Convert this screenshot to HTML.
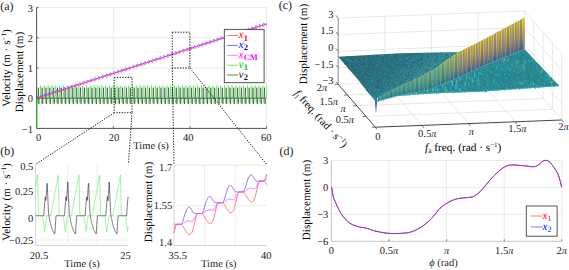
<!DOCTYPE html>
<html><head><meta charset="utf-8"><style>
html,body{margin:0;padding:0;background:#fff;width:569px;height:270px;overflow:hidden}
svg{display:block}
text{font-family:"Liberation Serif",serif;text-rendering:geometricPrecision}
</style></head><body>
<svg width="569" height="270" viewBox="0 0 569 270">
<rect width="569" height="270" fill="#fff"/>
<line x1="36.60" y1="7.60" x2="266.60" y2="7.60" stroke="#e3e3e3" stroke-width="0.8" />
<line x1="36.60" y1="37.80" x2="266.60" y2="37.80" stroke="#e3e3e3" stroke-width="0.8" />
<line x1="36.60" y1="68.00" x2="266.60" y2="68.00" stroke="#e3e3e3" stroke-width="0.8" />
<line x1="36.60" y1="98.20" x2="266.60" y2="98.20" stroke="#e3e3e3" stroke-width="0.8" />
<line x1="113.27" y1="7.60" x2="113.27" y2="128.40" stroke="#e3e3e3" stroke-width="0.8" />
<line x1="189.93" y1="7.60" x2="189.93" y2="128.40" stroke="#e3e3e3" stroke-width="0.8" />
<line x1="266.60" y1="7.60" x2="266.60" y2="128.40" stroke="#e3e3e3" stroke-width="0.8" />
<polyline points="36.60,128.40 36.83,98.20 37.37,98.20 37.67,103.33 37.98,98.20 40.05,98.20 40.43,85.52 40.66,98.20 41.20,98.20 41.51,103.33 41.81,98.20 43.88,98.20 44.27,85.52 44.50,98.20 45.03,98.20 45.34,103.33 45.65,98.20 47.72,98.20 48.10,85.52 48.33,98.20 48.87,98.20 49.17,103.33 49.48,98.20 51.55,98.20 51.93,85.52 52.16,98.20 52.70,98.20 53.01,103.33 53.31,98.20 55.38,98.20 55.77,85.52 56.00,98.20 56.53,98.20 56.84,103.33 57.15,98.20 59.22,98.20 59.60,85.52 59.83,98.20 60.37,98.20 60.67,103.33 60.98,98.20 63.05,98.20 63.43,85.52 63.66,98.20 64.20,98.20 64.51,103.33 64.81,98.20 66.88,98.20 67.27,85.52 67.50,98.20 68.03,98.20 68.34,103.33 68.65,98.20 70.72,98.20 71.10,85.52 71.33,98.20 71.87,98.20 72.17,103.33 72.48,98.20 74.55,98.20 74.93,85.52 75.16,98.20 75.70,98.20 76.01,103.33 76.31,98.20 78.38,98.20 78.77,85.52 79.00,98.20 79.53,98.20 79.84,103.33 80.15,98.20 82.22,98.20 82.60,85.52 82.83,98.20 83.37,98.20 83.67,103.33 83.98,98.20 86.05,98.20 86.43,85.52 86.66,98.20 87.20,98.20 87.51,103.33 87.81,98.20 89.88,98.20 90.27,85.52 90.50,98.20 91.03,98.20 91.34,103.33 91.65,98.20 93.72,98.20 94.10,85.52 94.33,98.20 94.87,98.20 95.17,103.33 95.48,98.20 97.55,98.20 97.93,85.52 98.16,98.20 98.70,98.20 99.01,103.33 99.31,98.20 101.38,98.20 101.77,85.52 102.00,98.20 102.53,98.20 102.84,103.33 103.15,98.20 105.22,98.20 105.60,85.52 105.83,98.20 106.37,98.20 106.67,103.33 106.98,98.20 109.05,98.20 109.43,85.52 109.66,98.20 110.20,98.20 110.51,103.33 110.81,98.20 112.88,98.20 113.27,85.52 113.50,98.20 114.03,98.20 114.34,103.33 114.65,98.20 116.72,98.20 117.10,85.52 117.33,98.20 117.87,98.20 118.17,103.33 118.48,98.20 120.55,98.20 120.93,85.52 121.16,98.20 121.70,98.20 122.01,103.33 122.31,98.20 124.38,98.20 124.77,85.52 125.00,98.20 125.53,98.20 125.84,103.33 126.15,98.20 128.22,98.20 128.60,85.52 128.83,98.20 129.37,98.20 129.67,103.33 129.98,98.20 132.05,98.20 132.43,85.52 132.66,98.20 133.20,98.20 133.51,103.33 133.81,98.20 135.88,98.20 136.27,85.52 136.50,98.20 137.03,98.20 137.34,103.33 137.65,98.20 139.72,98.20 140.10,85.52 140.33,98.20 140.87,98.20 141.17,103.33 141.48,98.20 143.55,98.20 143.93,85.52 144.16,98.20 144.70,98.20 145.01,103.33 145.31,98.20 147.38,98.20 147.77,85.52 148.00,98.20 148.53,98.20 148.84,103.33 149.15,98.20 151.22,98.20 151.60,85.52 151.83,98.20 152.37,98.20 152.67,103.33 152.98,98.20 155.05,98.20 155.43,85.52 155.66,98.20 156.20,98.20 156.51,103.33 156.81,98.20 158.88,98.20 159.27,85.52 159.50,98.20 160.03,98.20 160.34,103.33 160.65,98.20 162.72,98.20 163.10,85.52 163.33,98.20 163.87,98.20 164.17,103.33 164.48,98.20 166.55,98.20 166.93,85.52 167.16,98.20 167.70,98.20 168.01,103.33 168.31,98.20 170.38,98.20 170.77,85.52 171.00,98.20 171.53,98.20 171.84,103.33 172.15,98.20 174.22,98.20 174.60,85.52 174.83,98.20 175.37,98.20 175.67,103.33 175.98,98.20 178.05,98.20 178.43,85.52 178.66,98.20 179.20,98.20 179.51,103.33 179.81,98.20 181.88,98.20 182.27,85.52 182.50,98.20 183.03,98.20 183.34,103.33 183.65,98.20 185.72,98.20 186.10,85.52 186.33,98.20 186.87,98.20 187.17,103.33 187.48,98.20 189.55,98.20 189.93,85.52 190.16,98.20 190.70,98.20 191.01,103.33 191.31,98.20 193.38,98.20 193.77,85.52 194.00,98.20 194.53,98.20 194.84,103.33 195.15,98.20 197.22,98.20 197.60,85.52 197.83,98.20 198.37,98.20 198.67,103.33 198.98,98.20 201.05,98.20 201.43,85.52 201.66,98.20 202.20,98.20 202.51,103.33 202.81,98.20 204.88,98.20 205.27,85.52 205.50,98.20 206.03,98.20 206.34,103.33 206.65,98.20 208.72,98.20 209.10,85.52 209.33,98.20 209.87,98.20 210.17,103.33 210.48,98.20 212.55,98.20 212.93,85.52 213.16,98.20 213.70,98.20 214.01,103.33 214.31,98.20 216.38,98.20 216.77,85.52 217.00,98.20 217.53,98.20 217.84,103.33 218.15,98.20 220.22,98.20 220.60,85.52 220.83,98.20 221.37,98.20 221.67,103.33 221.98,98.20 224.05,98.20 224.43,85.52 224.66,98.20 225.20,98.20 225.51,103.33 225.81,98.20 227.88,98.20 228.27,85.52 228.50,98.20 229.03,98.20 229.34,103.33 229.65,98.20 231.72,98.20 232.10,85.52 232.33,98.20 232.87,98.20 233.17,103.33 233.48,98.20 235.55,98.20 235.93,85.52 236.16,98.20 236.70,98.20 237.01,103.33 237.31,98.20 239.38,98.20 239.77,85.52 240.00,98.20 240.53,98.20 240.84,103.33 241.15,98.20 243.22,98.20 243.60,85.52 243.83,98.20 244.37,98.20 244.67,103.33 244.98,98.20 247.05,98.20 247.43,85.52 247.66,98.20 248.20,98.20 248.51,103.33 248.81,98.20 250.88,98.20 251.27,85.52 251.50,98.20 252.03,98.20 252.34,103.33 252.65,98.20 254.72,98.20 255.10,85.52 255.33,98.20 255.87,98.20 256.17,103.33 256.48,98.20 258.55,98.20 258.93,85.52 259.16,98.20 259.70,98.20 260.01,103.33 260.31,98.20 262.38,98.20 262.77,85.52 263.00,98.20 263.53,98.20 263.84,103.33 264.15,98.20 266.22,98.20 266.60,85.52" fill="none" stroke="#00e000" stroke-width="0.42"/>
<polyline points="37.94,98.20 38.33,87.63 38.59,96.69 38.90,103.94 39.21,98.20 40.05,98.20 41.77,98.20 42.16,87.63 42.43,96.69 42.73,103.94 43.04,98.20 43.88,98.20 45.61,98.20 45.99,87.63 46.26,96.69 46.57,103.94 46.87,98.20 47.72,98.20 49.44,98.20 49.83,87.63 50.09,96.69 50.40,103.94 50.71,98.20 51.55,98.20 53.28,98.20 53.66,87.63 53.93,96.69 54.23,103.94 54.54,98.20 55.38,98.20 57.11,98.20 57.49,87.63 57.76,96.69 58.07,103.94 58.37,98.20 59.22,98.20 60.94,98.20 61.33,87.63 61.59,96.69 61.90,103.94 62.21,98.20 63.05,98.20 64.78,98.20 65.16,87.63 65.43,96.69 65.73,103.94 66.04,98.20 66.88,98.20 68.61,98.20 68.99,87.63 69.26,96.69 69.57,103.94 69.87,98.20 70.72,98.20 72.44,98.20 72.83,87.63 73.09,96.69 73.40,103.94 73.71,98.20 74.55,98.20 76.28,98.20 76.66,87.63 76.93,96.69 77.23,103.94 77.54,98.20 78.38,98.20 80.11,98.20 80.49,87.63 80.76,96.69 81.07,103.94 81.37,98.20 82.22,98.20 83.94,98.20 84.33,87.63 84.59,96.69 84.90,103.94 85.21,98.20 86.05,98.20 87.78,98.20 88.16,87.63 88.43,96.69 88.73,103.94 89.04,98.20 89.88,98.20 91.61,98.20 91.99,87.63 92.26,96.69 92.57,103.94 92.87,98.20 93.72,98.20 95.44,98.20 95.83,87.63 96.09,96.69 96.40,103.94 96.71,98.20 97.55,98.20 99.28,98.20 99.66,87.63 99.93,96.69 100.23,103.94 100.54,98.20 101.38,98.20 103.11,98.20 103.49,87.63 103.76,96.69 104.07,103.94 104.37,98.20 105.22,98.20 106.94,98.20 107.32,87.63 107.59,96.69 107.90,103.94 108.21,98.20 109.05,98.20 110.78,98.20 111.16,87.63 111.43,96.69 111.73,103.94 112.04,98.20 112.88,98.20 114.61,98.20 114.99,87.63 115.26,96.69 115.57,103.94 115.87,98.20 116.72,98.20 118.44,98.20 118.82,87.63 119.09,96.69 119.40,103.94 119.71,98.20 120.55,98.20 122.28,98.20 122.66,87.63 122.93,96.69 123.23,103.94 123.54,98.20 124.38,98.20 126.11,98.20 126.49,87.63 126.76,96.69 127.07,103.94 127.37,98.20 128.22,98.20 129.94,98.20 130.33,87.63 130.59,96.69 130.90,103.94 131.21,98.20 132.05,98.20 133.78,98.20 134.16,87.63 134.43,96.69 134.73,103.94 135.04,98.20 135.88,98.20 137.61,98.20 137.99,87.63 138.26,96.69 138.57,103.94 138.87,98.20 139.72,98.20 141.44,98.20 141.83,87.63 142.09,96.69 142.40,103.94 142.71,98.20 143.55,98.20 145.28,98.20 145.66,87.63 145.93,96.69 146.23,103.94 146.54,98.20 147.38,98.20 149.11,98.20 149.49,87.63 149.76,96.69 150.07,103.94 150.37,98.20 151.22,98.20 152.94,98.20 153.33,87.63 153.59,96.69 153.90,103.94 154.21,98.20 155.05,98.20 156.78,98.20 157.16,87.63 157.43,96.69 157.73,103.94 158.04,98.20 158.88,98.20 160.61,98.20 160.99,87.63 161.26,96.69 161.57,103.94 161.87,98.20 162.72,98.20 164.44,98.20 164.82,87.63 165.09,96.69 165.40,103.94 165.71,98.20 166.55,98.20 168.28,98.20 168.66,87.63 168.93,96.69 169.23,103.94 169.54,98.20 170.38,98.20 172.11,98.20 172.49,87.63 172.76,96.69 173.07,103.94 173.37,98.20 174.22,98.20 175.94,98.20 176.32,87.63 176.59,96.69 176.90,103.94 177.21,98.20 178.05,98.20 179.78,98.20 180.16,87.63 180.43,96.69 180.73,103.94 181.04,98.20 181.88,98.20 183.61,98.20 183.99,87.63 184.26,96.69 184.57,103.94 184.87,98.20 185.72,98.20 187.44,98.20 187.82,87.63 188.09,96.69 188.40,103.94 188.71,98.20 189.55,98.20 191.28,98.20 191.66,87.63 191.93,96.69 192.23,103.94 192.54,98.20 193.38,98.20 195.11,98.20 195.49,87.63 195.76,96.69 196.07,103.94 196.37,98.20 197.22,98.20 198.94,98.20 199.32,87.63 199.59,96.69 199.90,103.94 200.21,98.20 201.05,98.20 202.78,98.20 203.16,87.63 203.43,96.69 203.73,103.94 204.04,98.20 204.88,98.20 206.61,98.20 206.99,87.63 207.26,96.69 207.57,103.94 207.87,98.20 208.72,98.20 210.44,98.20 210.82,87.63 211.09,96.69 211.40,103.94 211.71,98.20 212.55,98.20 214.28,98.20 214.66,87.63 214.93,96.69 215.23,103.94 215.54,98.20 216.38,98.20 218.11,98.20 218.49,87.63 218.76,96.69 219.07,103.94 219.37,98.20 220.22,98.20 221.94,98.20 222.32,87.63 222.59,96.69 222.90,103.94 223.21,98.20 224.05,98.20 225.78,98.20 226.16,87.63 226.43,96.69 226.73,103.94 227.04,98.20 227.88,98.20 229.61,98.20 229.99,87.63 230.26,96.69 230.57,103.94 230.87,98.20 231.72,98.20 233.44,98.20 233.82,87.63 234.09,96.69 234.40,103.94 234.71,98.20 235.55,98.20 237.28,98.20 237.66,87.63 237.93,96.69 238.23,103.94 238.54,98.20 239.38,98.20 241.11,98.20 241.49,87.63 241.76,96.69 242.07,103.94 242.37,98.20 243.22,98.20 244.94,98.20 245.32,87.63 245.59,96.69 245.90,103.94 246.21,98.20 247.05,98.20 248.78,98.20 249.16,87.63 249.43,96.69 249.73,103.94 250.04,98.20 250.88,98.20 252.61,98.20 252.99,87.63 253.26,96.69 253.57,103.94 253.87,98.20 254.72,98.20 256.44,98.20 256.82,87.63 257.09,96.69 257.40,103.94 257.71,98.20 258.55,98.20 260.28,98.20 260.66,87.63 260.93,96.69 261.23,103.94 261.54,98.20 262.38,98.20 264.11,98.20 264.49,87.63 264.76,96.69 265.07,103.94 265.37,98.20 266.22,98.20" fill="none" stroke="#000" stroke-width="0.45"/>
<polyline points="36.60,98.20 36.98,99.14 37.37,99.68 37.75,99.55 38.13,98.77 38.52,97.58 38.90,97.46 39.28,97.33 39.67,97.21 40.05,97.09 40.43,96.96 40.82,97.90 41.20,98.44 41.58,98.31 41.97,97.53 42.35,96.34 42.73,96.22 43.12,96.10 43.50,95.97 43.88,95.85 44.27,95.72 44.65,96.66 45.03,97.20 45.42,97.08 45.80,96.29 46.18,95.10 46.57,94.98 46.95,94.86 47.33,94.73 47.72,94.61 48.10,94.49 48.48,95.43 48.87,95.96 49.25,95.84 49.63,95.06 50.02,93.87 50.40,93.74 50.78,93.62 51.17,93.49 51.55,93.37 51.93,93.25 52.32,94.19 52.70,94.72 53.08,94.60 53.47,93.82 53.85,92.63 54.23,92.50 54.62,92.38 55.00,92.26 55.38,92.13 55.77,92.01 56.15,92.95 56.53,93.48 56.92,93.36 57.30,92.58 57.68,91.39 58.07,91.27 58.45,91.14 58.83,91.02 59.22,90.89 59.60,90.77 59.98,91.71 60.37,92.25 60.75,92.12 61.13,91.34 61.52,90.15 61.90,90.03 62.28,89.90 62.67,89.78 63.05,89.66 63.43,89.53 63.82,90.47 64.20,91.01 64.58,90.88 64.97,90.10 65.35,88.91 65.73,88.79 66.12,88.67 66.50,88.54 66.88,88.42 67.27,88.29 67.65,89.24 68.03,89.77 68.42,89.65 68.80,88.86 69.18,87.68 69.57,87.55 69.95,87.43 70.33,87.30 70.72,87.18 71.10,87.06 71.48,88.00 71.87,88.53 72.25,88.41 72.63,87.63 73.02,86.44 73.40,86.31 73.78,86.19 74.17,86.07 74.55,85.94 74.93,85.82 75.32,86.76 75.70,87.29 76.08,87.17 76.47,86.39 76.85,85.20 77.23,85.08 77.62,84.95 78.00,84.83 78.38,84.70 78.77,84.58 79.15,85.52 79.53,86.06 79.92,85.93 80.30,85.15 80.68,83.96 81.07,83.84 81.45,83.71 81.83,83.59 82.22,83.47 82.60,83.34 82.98,84.28 83.37,84.82 83.75,84.69 84.13,83.91 84.52,82.72 84.90,82.60 85.28,82.47 85.67,82.35 86.05,82.23 86.43,82.10 86.82,83.04 87.20,83.58 87.58,83.46 87.97,82.67 88.35,81.48 88.73,81.36 89.12,81.24 89.50,81.11 89.88,80.99 90.27,80.87 90.65,81.81 91.03,82.34 91.42,82.22 91.80,81.43 92.18,80.25 92.57,80.12 92.95,80.00 93.33,79.87 93.72,79.75 94.10,79.63 94.48,80.57 94.87,81.10 95.25,80.98 95.63,80.20 96.02,79.01 96.40,78.88 96.78,78.76 97.17,78.64 97.55,78.51 97.93,78.39 98.32,79.33 98.70,79.86 99.08,79.74 99.47,78.96 99.85,77.77 100.23,77.65 100.62,77.52 101.00,77.40 101.38,77.27 101.77,77.15 102.15,78.09 102.53,78.63 102.92,78.50 103.30,77.72 103.68,76.53 104.07,76.41 104.45,76.28 104.83,76.16 105.22,76.04 105.60,75.91 105.98,76.85 106.37,77.39 106.75,77.26 107.13,76.48 107.52,75.29 107.90,75.17 108.28,75.05 108.67,74.92 109.05,74.80 109.43,74.67 109.82,75.62 110.20,76.15 110.58,76.03 110.97,75.24 111.35,74.06 111.73,73.93 112.12,73.81 112.50,73.68 112.88,73.56 113.27,73.44 113.65,74.38 114.03,74.91 114.42,74.79 114.80,74.01 115.18,72.82 115.57,72.69 115.95,72.57 116.33,72.45 116.72,72.32 117.10,72.20 117.48,73.14 117.87,73.67 118.25,73.55 118.63,72.77 119.02,71.58 119.40,71.45 119.78,71.33 120.17,71.21 120.55,71.08 120.93,70.96 121.32,71.90 121.70,72.44 122.08,72.31 122.47,71.53 122.85,70.34 123.23,70.22 123.62,70.09 124.00,69.97 124.38,69.85 124.77,69.72 125.15,70.66 125.53,71.20 125.92,71.07 126.30,70.29 126.68,69.10 127.07,68.98 127.45,68.85 127.83,68.73 128.22,68.61 128.60,68.48 128.98,69.42 129.37,69.96 129.75,69.84 130.13,69.05 130.52,67.86 130.90,67.74 131.28,67.62 131.67,67.49 132.05,67.37 132.43,67.25 132.82,68.19 133.20,68.72 133.58,68.60 133.97,67.81 134.35,66.63 134.73,66.50 135.12,66.38 135.50,66.25 135.88,66.13 136.27,66.01 136.65,66.95 137.03,67.48 137.42,67.36 137.80,66.58 138.18,65.39 138.57,65.26 138.95,65.14 139.33,65.02 139.72,64.89 140.10,64.77 140.48,65.71 140.87,66.24 141.25,66.12 141.63,65.34 142.02,64.15 142.40,64.03 142.78,63.90 143.17,63.78 143.55,63.65 143.93,63.53 144.32,64.47 144.70,65.01 145.08,64.88 145.47,64.10 145.85,62.91 146.23,62.79 146.62,62.66 147.00,62.54 147.38,62.42 147.77,62.29 148.15,63.23 148.53,63.77 148.92,63.64 149.30,62.86 149.68,61.67 150.07,61.55 150.45,61.43 150.83,61.30 151.22,61.18 151.60,61.05 151.98,62.00 152.37,62.53 152.75,62.41 153.13,61.62 153.52,60.43 153.90,60.31 154.28,60.19 154.67,60.06 155.05,59.94 155.43,59.82 155.82,60.76 156.20,61.29 156.58,61.17 156.97,60.39 157.35,59.20 157.73,59.07 158.12,58.95 158.50,58.83 158.88,58.70 159.27,58.58 159.65,59.52 160.03,60.05 160.42,59.93 160.80,59.15 161.18,57.96 161.57,57.83 161.95,57.71 162.33,57.59 162.72,57.46 163.10,57.34 163.48,58.28 163.87,58.82 164.25,58.69 164.63,57.91 165.02,56.72 165.40,56.60 165.78,56.47 166.17,56.35 166.55,56.23 166.93,56.10 167.32,57.04 167.70,57.58 168.08,57.45 168.47,56.67 168.85,55.48 169.23,55.36 169.62,55.23 170.00,55.11 170.38,54.99 170.77,54.86 171.15,55.80 171.53,56.34 171.92,56.21 172.30,55.43 172.68,54.24 173.07,54.12 173.45,54.00 173.83,53.87 174.22,53.75 174.60,53.62 174.98,54.57 175.37,55.10 175.75,54.98 176.13,54.19 176.52,53.01 176.90,52.88 177.28,52.76 177.67,52.63 178.05,52.51 178.43,52.39 178.82,53.33 179.20,53.86 179.58,53.74 179.97,52.96 180.35,51.77 180.73,51.64 181.12,51.52 181.50,51.40 181.88,51.27 182.27,51.15 182.65,52.09 183.03,52.62 183.42,52.50 183.80,51.72 184.18,50.53 184.57,50.41 184.95,50.28 185.33,50.16 185.72,50.03 186.10,49.91 186.48,50.85 186.87,51.39 187.25,51.26 187.63,50.48 188.02,49.29 188.40,49.17 188.78,49.04 189.17,48.92 189.55,48.80 189.93,48.67 190.32,49.61 190.70,50.15 191.08,50.02 191.47,49.24 191.85,48.05 192.23,47.93 192.62,47.81 193.00,47.68 193.38,47.56 193.77,47.43 194.15,48.38 194.53,48.91 194.92,48.79 195.30,48.00 195.68,46.81 196.07,46.69 196.45,46.57 196.83,46.44 197.22,46.32 197.60,46.20 197.98,47.14 198.37,47.67 198.75,47.55 199.13,46.77 199.52,45.58 199.90,45.45 200.28,45.33 200.67,45.21 201.05,45.08 201.43,44.96 201.82,45.90 202.20,46.43 202.58,46.31 202.97,45.53 203.35,44.34 203.73,44.21 204.12,44.09 204.50,43.97 204.88,43.84 205.27,43.72 205.65,44.66 206.03,45.19 206.42,45.07 206.80,44.29 207.18,43.10 207.57,42.98 207.95,42.85 208.33,42.73 208.72,42.60 209.10,42.48 209.48,43.42 209.87,43.96 210.25,43.83 210.63,43.05 211.02,41.86 211.40,41.74 211.78,41.61 212.17,41.49 212.55,41.37 212.93,41.24 213.32,42.18 213.70,42.72 214.08,42.59 214.47,41.81 214.85,40.62 215.23,40.50 215.62,40.38 216.00,40.25 216.38,40.13 216.77,40.00 217.15,40.95 217.53,41.48 217.92,41.36 218.30,40.57 218.68,39.39 219.07,39.26 219.45,39.14 219.83,39.01 220.22,38.89 220.60,38.77 220.98,39.71 221.37,40.24 221.75,40.12 222.13,39.34 222.52,38.15 222.90,38.02 223.28,37.90 223.67,37.78 224.05,37.65 224.43,37.53 224.82,38.47 225.20,39.00 225.58,38.88 225.97,38.10 226.35,36.91 226.73,36.79 227.12,36.66 227.50,36.54 227.88,36.41 228.27,36.29 228.65,37.23 229.03,37.77 229.42,37.64 229.80,36.86 230.18,35.67 230.57,35.55 230.95,35.42 231.33,35.30 231.72,35.18 232.10,35.05 232.48,35.99 232.87,36.53 233.25,36.40 233.63,35.62 234.02,34.43 234.40,34.31 234.78,34.19 235.17,34.06 235.55,33.94 235.93,33.81 236.32,34.75 236.70,35.29 237.08,35.17 237.47,34.38 237.85,33.19 238.23,33.07 238.62,32.95 239.00,32.82 239.38,32.70 239.77,32.58 240.15,33.52 240.53,34.05 240.92,33.93 241.30,33.15 241.68,31.96 242.07,31.83 242.45,31.71 242.83,31.58 243.22,31.46 243.60,31.34 243.98,32.28 244.37,32.81 244.75,32.69 245.13,31.91 245.52,30.72 245.90,30.59 246.28,30.47 246.67,30.35 247.05,30.22 247.43,30.10 247.82,31.04 248.20,31.57 248.58,31.45 248.97,30.67 249.35,29.48 249.73,29.36 250.12,29.23 250.50,29.11 250.88,28.98 251.27,28.86 251.65,29.80 252.03,30.34 252.42,30.21 252.80,29.43 253.18,28.24 253.57,28.12 253.95,27.99 254.33,27.87 254.72,27.75 255.10,27.62 255.48,28.56 255.87,29.10 256.25,28.97 256.63,28.19 257.02,27.00 257.40,26.88 257.78,26.76 258.17,26.63 258.55,26.51 258.93,26.38 259.32,27.33 259.70,27.86 260.08,27.74 260.47,26.95 260.85,25.77 261.23,25.64 261.62,25.52 262.00,25.39 262.38,25.27 262.77,25.15 263.15,26.09 263.53,26.62 263.92,26.50 264.30,25.72 264.68,24.53 265.07,24.40 265.45,24.28 265.83,24.16 266.22,24.03 266.60,23.91" fill="none" stroke="#ff5a5a" stroke-width="0.75"/>
<polyline points="36.60,98.20 36.98,97.01 37.37,96.23 37.75,96.11 38.13,96.64 38.52,97.58 38.90,97.46 39.28,97.33 39.67,97.21 40.05,97.09 40.43,96.96 40.82,95.77 41.20,94.99 41.58,94.87 41.97,95.40 42.35,96.34 42.73,96.22 43.12,96.10 43.50,95.97 43.88,95.85 44.27,95.72 44.65,94.53 45.03,93.75 45.42,93.63 45.80,94.16 46.18,95.10 46.57,94.98 46.95,94.86 47.33,94.73 47.72,94.61 48.10,94.49 48.48,93.30 48.87,92.51 49.25,92.39 49.63,92.93 50.02,93.87 50.40,93.74 50.78,93.62 51.17,93.49 51.55,93.37 51.93,93.25 52.32,92.06 52.70,91.28 53.08,91.15 53.47,91.69 53.85,92.63 54.23,92.50 54.62,92.38 55.00,92.26 55.38,92.13 55.77,92.01 56.15,90.82 56.53,90.04 56.92,89.91 57.30,90.45 57.68,91.39 58.07,91.27 58.45,91.14 58.83,91.02 59.22,90.89 59.60,90.77 59.98,89.58 60.37,88.80 60.75,88.68 61.13,89.21 61.52,90.15 61.90,90.03 62.28,89.90 62.67,89.78 63.05,89.66 63.43,89.53 63.82,88.34 64.20,87.56 64.58,87.44 64.97,87.97 65.35,88.91 65.73,88.79 66.12,88.67 66.50,88.54 66.88,88.42 67.27,88.29 67.65,87.11 68.03,86.32 68.42,86.20 68.80,86.73 69.18,87.68 69.57,87.55 69.95,87.43 70.33,87.30 70.72,87.18 71.10,87.06 71.48,85.87 71.87,85.09 72.25,84.96 72.63,85.50 73.02,86.44 73.40,86.31 73.78,86.19 74.17,86.07 74.55,85.94 74.93,85.82 75.32,84.63 75.70,83.85 76.08,83.72 76.47,84.26 76.85,85.20 77.23,85.08 77.62,84.95 78.00,84.83 78.38,84.70 78.77,84.58 79.15,83.39 79.53,82.61 79.92,82.49 80.30,83.02 80.68,83.96 81.07,83.84 81.45,83.71 81.83,83.59 82.22,83.47 82.60,83.34 82.98,82.15 83.37,81.37 83.75,81.25 84.13,81.78 84.52,82.72 84.90,82.60 85.28,82.47 85.67,82.35 86.05,82.23 86.43,82.10 86.82,80.91 87.20,80.13 87.58,80.01 87.97,80.54 88.35,81.48 88.73,81.36 89.12,81.24 89.50,81.11 89.88,80.99 90.27,80.87 90.65,79.68 91.03,78.89 91.42,78.77 91.80,79.30 92.18,80.25 92.57,80.12 92.95,80.00 93.33,79.87 93.72,79.75 94.10,79.63 94.48,78.44 94.87,77.66 95.25,77.53 95.63,78.07 96.02,79.01 96.40,78.88 96.78,78.76 97.17,78.64 97.55,78.51 97.93,78.39 98.32,77.20 98.70,76.42 99.08,76.29 99.47,76.83 99.85,77.77 100.23,77.65 100.62,77.52 101.00,77.40 101.38,77.27 101.77,77.15 102.15,75.96 102.53,75.18 102.92,75.06 103.30,75.59 103.68,76.53 104.07,76.41 104.45,76.28 104.83,76.16 105.22,76.04 105.60,75.91 105.98,74.72 106.37,73.94 106.75,73.82 107.13,74.35 107.52,75.29 107.90,75.17 108.28,75.05 108.67,74.92 109.05,74.80 109.43,74.67 109.82,73.49 110.20,72.70 110.58,72.58 110.97,73.11 111.35,74.06 111.73,73.93 112.12,73.81 112.50,73.68 112.88,73.56 113.27,73.44 113.65,72.25 114.03,71.47 114.42,71.34 114.80,71.88 115.18,72.82 115.57,72.69 115.95,72.57 116.33,72.45 116.72,72.32 117.10,72.20 117.48,71.01 117.87,70.23 118.25,70.10 118.63,70.64 119.02,71.58 119.40,71.45 119.78,71.33 120.17,71.21 120.55,71.08 120.93,70.96 121.32,69.77 121.70,68.99 122.08,68.86 122.47,69.40 122.85,70.34 123.23,70.22 123.62,70.09 124.00,69.97 124.38,69.85 124.77,69.72 125.15,68.53 125.53,67.75 125.92,67.63 126.30,68.16 126.68,69.10 127.07,68.98 127.45,68.85 127.83,68.73 128.22,68.61 128.60,68.48 128.98,67.29 129.37,66.51 129.75,66.39 130.13,66.92 130.52,67.86 130.90,67.74 131.28,67.62 131.67,67.49 132.05,67.37 132.43,67.25 132.82,66.06 133.20,65.27 133.58,65.15 133.97,65.68 134.35,66.63 134.73,66.50 135.12,66.38 135.50,66.25 135.88,66.13 136.27,66.01 136.65,64.82 137.03,64.04 137.42,63.91 137.80,64.45 138.18,65.39 138.57,65.26 138.95,65.14 139.33,65.02 139.72,64.89 140.10,64.77 140.48,63.58 140.87,62.80 141.25,62.67 141.63,63.21 142.02,64.15 142.40,64.03 142.78,63.90 143.17,63.78 143.55,63.65 143.93,63.53 144.32,62.34 144.70,61.56 145.08,61.44 145.47,61.97 145.85,62.91 146.23,62.79 146.62,62.66 147.00,62.54 147.38,62.42 147.77,62.29 148.15,61.10 148.53,60.32 148.92,60.20 149.30,60.73 149.68,61.67 150.07,61.55 150.45,61.43 150.83,61.30 151.22,61.18 151.60,61.05 151.98,59.87 152.37,59.08 152.75,58.96 153.13,59.49 153.52,60.43 153.90,60.31 154.28,60.19 154.67,60.06 155.05,59.94 155.43,59.82 155.82,58.63 156.20,57.84 156.58,57.72 156.97,58.26 157.35,59.20 157.73,59.07 158.12,58.95 158.50,58.83 158.88,58.70 159.27,58.58 159.65,57.39 160.03,56.61 160.42,56.48 160.80,57.02 161.18,57.96 161.57,57.83 161.95,57.71 162.33,57.59 162.72,57.46 163.10,57.34 163.48,56.15 163.87,55.37 164.25,55.24 164.63,55.78 165.02,56.72 165.40,56.60 165.78,56.47 166.17,56.35 166.55,56.23 166.93,56.10 167.32,54.91 167.70,54.13 168.08,54.01 168.47,54.54 168.85,55.48 169.23,55.36 169.62,55.23 170.00,55.11 170.38,54.99 170.77,54.86 171.15,53.67 171.53,52.89 171.92,52.77 172.30,53.30 172.68,54.24 173.07,54.12 173.45,54.00 173.83,53.87 174.22,53.75 174.60,53.62 174.98,52.44 175.37,51.65 175.75,51.53 176.13,52.06 176.52,53.01 176.90,52.88 177.28,52.76 177.67,52.63 178.05,52.51 178.43,52.39 178.82,51.20 179.20,50.42 179.58,50.29 179.97,50.83 180.35,51.77 180.73,51.64 181.12,51.52 181.50,51.40 181.88,51.27 182.27,51.15 182.65,49.96 183.03,49.18 183.42,49.05 183.80,49.59 184.18,50.53 184.57,50.41 184.95,50.28 185.33,50.16 185.72,50.03 186.10,49.91 186.48,48.72 186.87,47.94 187.25,47.82 187.63,48.35 188.02,49.29 188.40,49.17 188.78,49.04 189.17,48.92 189.55,48.80 189.93,48.67 190.32,47.48 190.70,46.70 191.08,46.58 191.47,47.11 191.85,48.05 192.23,47.93 192.62,47.81 193.00,47.68 193.38,47.56 193.77,47.43 194.15,46.24 194.53,45.46 194.92,45.34 195.30,45.87 195.68,46.81 196.07,46.69 196.45,46.57 196.83,46.44 197.22,46.32 197.60,46.20 197.98,45.01 198.37,44.22 198.75,44.10 199.13,44.64 199.52,45.58 199.90,45.45 200.28,45.33 200.67,45.21 201.05,45.08 201.43,44.96 201.82,43.77 202.20,42.99 202.58,42.86 202.97,43.40 203.35,44.34 203.73,44.21 204.12,44.09 204.50,43.97 204.88,43.84 205.27,43.72 205.65,42.53 206.03,41.75 206.42,41.62 206.80,42.16 207.18,43.10 207.57,42.98 207.95,42.85 208.33,42.73 208.72,42.60 209.10,42.48 209.48,41.29 209.87,40.51 210.25,40.39 210.63,40.92 211.02,41.86 211.40,41.74 211.78,41.61 212.17,41.49 212.55,41.37 212.93,41.24 213.32,40.05 213.70,39.27 214.08,39.15 214.47,39.68 214.85,40.62 215.23,40.50 215.62,40.38 216.00,40.25 216.38,40.13 216.77,40.00 217.15,38.82 217.53,38.03 217.92,37.91 218.30,38.44 218.68,39.39 219.07,39.26 219.45,39.14 219.83,39.01 220.22,38.89 220.60,38.77 220.98,37.58 221.37,36.80 221.75,36.67 222.13,37.21 222.52,38.15 222.90,38.02 223.28,37.90 223.67,37.78 224.05,37.65 224.43,37.53 224.82,36.34 225.20,35.56 225.58,35.43 225.97,35.97 226.35,36.91 226.73,36.79 227.12,36.66 227.50,36.54 227.88,36.41 228.27,36.29 228.65,35.10 229.03,34.32 229.42,34.20 229.80,34.73 230.18,35.67 230.57,35.55 230.95,35.42 231.33,35.30 231.72,35.18 232.10,35.05 232.48,33.86 232.87,33.08 233.25,32.96 233.63,33.49 234.02,34.43 234.40,34.31 234.78,34.19 235.17,34.06 235.55,33.94 235.93,33.81 236.32,32.62 236.70,31.84 237.08,31.72 237.47,32.25 237.85,33.19 238.23,33.07 238.62,32.95 239.00,32.82 239.38,32.70 239.77,32.58 240.15,31.39 240.53,30.60 240.92,30.48 241.30,31.02 241.68,31.96 242.07,31.83 242.45,31.71 242.83,31.58 243.22,31.46 243.60,31.34 243.98,30.15 244.37,29.37 244.75,29.24 245.13,29.78 245.52,30.72 245.90,30.59 246.28,30.47 246.67,30.35 247.05,30.22 247.43,30.10 247.82,28.91 248.20,28.13 248.58,28.00 248.97,28.54 249.35,29.48 249.73,29.36 250.12,29.23 250.50,29.11 250.88,28.98 251.27,28.86 251.65,27.67 252.03,26.89 252.42,26.77 252.80,27.30 253.18,28.24 253.57,28.12 253.95,27.99 254.33,27.87 254.72,27.75 255.10,27.62 255.48,26.43 255.87,25.65 256.25,25.53 256.63,26.06 257.02,27.00 257.40,26.88 257.78,26.76 258.17,26.63 258.55,26.51 258.93,26.38 259.32,25.20 259.70,24.41 260.08,24.29 260.47,24.82 260.85,25.77 261.23,25.64 261.62,25.52 262.00,25.39 262.38,25.27 262.77,25.15 263.15,23.96 263.53,23.18 263.92,23.05 264.30,23.59 264.68,24.53 265.07,24.40 265.45,24.28 265.83,24.16 266.22,24.03 266.60,23.91" fill="none" stroke="#5a5aff" stroke-width="0.75"/>
<polyline points="36.60,98.20 36.98,98.08 37.37,97.95 37.75,97.83 38.13,97.70 38.52,97.58 38.90,97.46 39.28,97.33 39.67,97.21 40.05,97.09 40.43,96.96 40.82,96.84 41.20,96.71 41.58,96.59 41.97,96.47 42.35,96.34 42.73,96.22 43.12,96.10 43.50,95.97 43.88,95.85 44.27,95.72 44.65,95.60 45.03,95.48 45.42,95.35 45.80,95.23 46.18,95.10 46.57,94.98 46.95,94.86 47.33,94.73 47.72,94.61 48.10,94.49 48.48,94.36 48.87,94.24 49.25,94.11 49.63,93.99 50.02,93.87 50.40,93.74 50.78,93.62 51.17,93.49 51.55,93.37 51.93,93.25 52.32,93.12 52.70,93.00 53.08,92.88 53.47,92.75 53.85,92.63 54.23,92.50 54.62,92.38 55.00,92.26 55.38,92.13 55.77,92.01 56.15,91.89 56.53,91.76 56.92,91.64 57.30,91.51 57.68,91.39 58.07,91.27 58.45,91.14 58.83,91.02 59.22,90.89 59.60,90.77 59.98,90.65 60.37,90.52 60.75,90.40 61.13,90.28 61.52,90.15 61.90,90.03 62.28,89.90 62.67,89.78 63.05,89.66 63.43,89.53 63.82,89.41 64.20,89.28 64.58,89.16 64.97,89.04 65.35,88.91 65.73,88.79 66.12,88.67 66.50,88.54 66.88,88.42 67.27,88.29 67.65,88.17 68.03,88.05 68.42,87.92 68.80,87.80 69.18,87.68 69.57,87.55 69.95,87.43 70.33,87.30 70.72,87.18 71.10,87.06 71.48,86.93 71.87,86.81 72.25,86.68 72.63,86.56 73.02,86.44 73.40,86.31 73.78,86.19 74.17,86.07 74.55,85.94 74.93,85.82 75.32,85.69 75.70,85.57 76.08,85.45 76.47,85.32 76.85,85.20 77.23,85.08 77.62,84.95 78.00,84.83 78.38,84.70 78.77,84.58 79.15,84.46 79.53,84.33 79.92,84.21 80.30,84.08 80.68,83.96 81.07,83.84 81.45,83.71 81.83,83.59 82.22,83.47 82.60,83.34 82.98,83.22 83.37,83.09 83.75,82.97 84.13,82.85 84.52,82.72 84.90,82.60 85.28,82.47 85.67,82.35 86.05,82.23 86.43,82.10 86.82,81.98 87.20,81.86 87.58,81.73 87.97,81.61 88.35,81.48 88.73,81.36 89.12,81.24 89.50,81.11 89.88,80.99 90.27,80.87 90.65,80.74 91.03,80.62 91.42,80.49 91.80,80.37 92.18,80.25 92.57,80.12 92.95,80.00 93.33,79.87 93.72,79.75 94.10,79.63 94.48,79.50 94.87,79.38 95.25,79.26 95.63,79.13 96.02,79.01 96.40,78.88 96.78,78.76 97.17,78.64 97.55,78.51 97.93,78.39 98.32,78.26 98.70,78.14 99.08,78.02 99.47,77.89 99.85,77.77 100.23,77.65 100.62,77.52 101.00,77.40 101.38,77.27 101.77,77.15 102.15,77.03 102.53,76.90 102.92,76.78 103.30,76.66 103.68,76.53 104.07,76.41 104.45,76.28 104.83,76.16 105.22,76.04 105.60,75.91 105.98,75.79 106.37,75.66 106.75,75.54 107.13,75.42 107.52,75.29 107.90,75.17 108.28,75.05 108.67,74.92 109.05,74.80 109.43,74.67 109.82,74.55 110.20,74.43 110.58,74.30 110.97,74.18 111.35,74.06 111.73,73.93 112.12,73.81 112.50,73.68 112.88,73.56 113.27,73.44 113.65,73.31 114.03,73.19 114.42,73.06 114.80,72.94 115.18,72.82 115.57,72.69 115.95,72.57 116.33,72.45 116.72,72.32 117.10,72.20 117.48,72.07 117.87,71.95 118.25,71.83 118.63,71.70 119.02,71.58 119.40,71.45 119.78,71.33 120.17,71.21 120.55,71.08 120.93,70.96 121.32,70.84 121.70,70.71 122.08,70.59 122.47,70.46 122.85,70.34 123.23,70.22 123.62,70.09 124.00,69.97 124.38,69.85 124.77,69.72 125.15,69.60 125.53,69.47 125.92,69.35 126.30,69.23 126.68,69.10 127.07,68.98 127.45,68.85 127.83,68.73 128.22,68.61 128.60,68.48 128.98,68.36 129.37,68.24 129.75,68.11 130.13,67.99 130.52,67.86 130.90,67.74 131.28,67.62 131.67,67.49 132.05,67.37 132.43,67.25 132.82,67.12 133.20,67.00 133.58,66.87 133.97,66.75 134.35,66.63 134.73,66.50 135.12,66.38 135.50,66.25 135.88,66.13 136.27,66.01 136.65,65.88 137.03,65.76 137.42,65.64 137.80,65.51 138.18,65.39 138.57,65.26 138.95,65.14 139.33,65.02 139.72,64.89 140.10,64.77 140.48,64.64 140.87,64.52 141.25,64.40 141.63,64.27 142.02,64.15 142.40,64.03 142.78,63.90 143.17,63.78 143.55,63.65 143.93,63.53 144.32,63.41 144.70,63.28 145.08,63.16 145.47,63.04 145.85,62.91 146.23,62.79 146.62,62.66 147.00,62.54 147.38,62.42 147.77,62.29 148.15,62.17 148.53,62.04 148.92,61.92 149.30,61.80 149.68,61.67 150.07,61.55 150.45,61.43 150.83,61.30 151.22,61.18 151.60,61.05 151.98,60.93 152.37,60.81 152.75,60.68 153.13,60.56 153.52,60.43 153.90,60.31 154.28,60.19 154.67,60.06 155.05,59.94 155.43,59.82 155.82,59.69 156.20,59.57 156.58,59.44 156.97,59.32 157.35,59.20 157.73,59.07 158.12,58.95 158.50,58.83 158.88,58.70 159.27,58.58 159.65,58.45 160.03,58.33 160.42,58.21 160.80,58.08 161.18,57.96 161.57,57.83 161.95,57.71 162.33,57.59 162.72,57.46 163.10,57.34 163.48,57.22 163.87,57.09 164.25,56.97 164.63,56.84 165.02,56.72 165.40,56.60 165.78,56.47 166.17,56.35 166.55,56.23 166.93,56.10 167.32,55.98 167.70,55.85 168.08,55.73 168.47,55.61 168.85,55.48 169.23,55.36 169.62,55.23 170.00,55.11 170.38,54.99 170.77,54.86 171.15,54.74 171.53,54.62 171.92,54.49 172.30,54.37 172.68,54.24 173.07,54.12 173.45,54.00 173.83,53.87 174.22,53.75 174.60,53.62 174.98,53.50 175.37,53.38 175.75,53.25 176.13,53.13 176.52,53.01 176.90,52.88 177.28,52.76 177.67,52.63 178.05,52.51 178.43,52.39 178.82,52.26 179.20,52.14 179.58,52.02 179.97,51.89 180.35,51.77 180.73,51.64 181.12,51.52 181.50,51.40 181.88,51.27 182.27,51.15 182.65,51.02 183.03,50.90 183.42,50.78 183.80,50.65 184.18,50.53 184.57,50.41 184.95,50.28 185.33,50.16 185.72,50.03 186.10,49.91 186.48,49.79 186.87,49.66 187.25,49.54 187.63,49.41 188.02,49.29 188.40,49.17 188.78,49.04 189.17,48.92 189.55,48.80 189.93,48.67 190.32,48.55 190.70,48.42 191.08,48.30 191.47,48.18 191.85,48.05 192.23,47.93 192.62,47.81 193.00,47.68 193.38,47.56 193.77,47.43 194.15,47.31 194.53,47.19 194.92,47.06 195.30,46.94 195.68,46.81 196.07,46.69 196.45,46.57 196.83,46.44 197.22,46.32 197.60,46.20 197.98,46.07 198.37,45.95 198.75,45.82 199.13,45.70 199.52,45.58 199.90,45.45 200.28,45.33 200.67,45.21 201.05,45.08 201.43,44.96 201.82,44.83 202.20,44.71 202.58,44.59 202.97,44.46 203.35,44.34 203.73,44.21 204.12,44.09 204.50,43.97 204.88,43.84 205.27,43.72 205.65,43.60 206.03,43.47 206.42,43.35 206.80,43.22 207.18,43.10 207.57,42.98 207.95,42.85 208.33,42.73 208.72,42.60 209.10,42.48 209.48,42.36 209.87,42.23 210.25,42.11 210.63,41.99 211.02,41.86 211.40,41.74 211.78,41.61 212.17,41.49 212.55,41.37 212.93,41.24 213.32,41.12 213.70,41.00 214.08,40.87 214.47,40.75 214.85,40.62 215.23,40.50 215.62,40.38 216.00,40.25 216.38,40.13 216.77,40.00 217.15,39.88 217.53,39.76 217.92,39.63 218.30,39.51 218.68,39.39 219.07,39.26 219.45,39.14 219.83,39.01 220.22,38.89 220.60,38.77 220.98,38.64 221.37,38.52 221.75,38.39 222.13,38.27 222.52,38.15 222.90,38.02 223.28,37.90 223.67,37.78 224.05,37.65 224.43,37.53 224.82,37.40 225.20,37.28 225.58,37.16 225.97,37.03 226.35,36.91 226.73,36.79 227.12,36.66 227.50,36.54 227.88,36.41 228.27,36.29 228.65,36.17 229.03,36.04 229.42,35.92 229.80,35.79 230.18,35.67 230.57,35.55 230.95,35.42 231.33,35.30 231.72,35.18 232.10,35.05 232.48,34.93 232.87,34.80 233.25,34.68 233.63,34.56 234.02,34.43 234.40,34.31 234.78,34.19 235.17,34.06 235.55,33.94 235.93,33.81 236.32,33.69 236.70,33.57 237.08,33.44 237.47,33.32 237.85,33.19 238.23,33.07 238.62,32.95 239.00,32.82 239.38,32.70 239.77,32.58 240.15,32.45 240.53,32.33 240.92,32.20 241.30,32.08 241.68,31.96 242.07,31.83 242.45,31.71 242.83,31.58 243.22,31.46 243.60,31.34 243.98,31.21 244.37,31.09 244.75,30.97 245.13,30.84 245.52,30.72 245.90,30.59 246.28,30.47 246.67,30.35 247.05,30.22 247.43,30.10 247.82,29.98 248.20,29.85 248.58,29.73 248.97,29.60 249.35,29.48 249.73,29.36 250.12,29.23 250.50,29.11 250.88,28.98 251.27,28.86 251.65,28.74 252.03,28.61 252.42,28.49 252.80,28.37 253.18,28.24 253.57,28.12 253.95,27.99 254.33,27.87 254.72,27.75 255.10,27.62 255.48,27.50 255.87,27.37 256.25,27.25 256.63,27.13 257.02,27.00 257.40,26.88 257.78,26.76 258.17,26.63 258.55,26.51 258.93,26.38 259.32,26.26 259.70,26.14 260.08,26.01 260.47,25.89 260.85,25.77 261.23,25.64 261.62,25.52 262.00,25.39 262.38,25.27 262.77,25.15 263.15,25.02 263.53,24.90 263.92,24.77 264.30,24.65 264.68,24.53 265.07,24.40 265.45,24.28 265.83,24.16 266.22,24.03 266.60,23.91" fill="none" stroke="#ff20ff" stroke-width="0.9"/>
<line x1="36.60" y1="7.60" x2="36.60" y2="128.40" stroke="#505050" stroke-width="1" />
<line x1="36.60" y1="128.40" x2="266.60" y2="128.40" stroke="#505050" stroke-width="1" />
<line x1="36.60" y1="7.60" x2="38.80" y2="7.60" stroke="#505050" stroke-width="0.8" />
<line x1="36.60" y1="37.80" x2="38.80" y2="37.80" stroke="#505050" stroke-width="0.8" />
<line x1="36.60" y1="68.00" x2="38.80" y2="68.00" stroke="#505050" stroke-width="0.8" />
<line x1="36.60" y1="98.20" x2="38.80" y2="98.20" stroke="#505050" stroke-width="0.8" />
<line x1="113.27" y1="128.40" x2="113.27" y2="126.20" stroke="#505050" stroke-width="0.8" />
<line x1="189.93" y1="128.40" x2="189.93" y2="126.20" stroke="#505050" stroke-width="0.8" />
<line x1="266.60" y1="128.40" x2="266.60" y2="126.20" stroke="#505050" stroke-width="0.8" />
<text x="33.00" y="12.00" font-size="10.5" text-anchor="end" fill="#1a1a1a" >3</text>
<text x="33.00" y="42.20" font-size="10.5" text-anchor="end" fill="#1a1a1a" >2</text>
<text x="33.00" y="72.20" font-size="10.5" text-anchor="end" fill="#1a1a1a" >1</text>
<text x="33.00" y="102.20" font-size="10.5" text-anchor="end" fill="#1a1a1a" >0</text>
<text x="33.00" y="133.20" font-size="10.5" text-anchor="end" fill="#1a1a1a" >&#8722;1</text>
<line x1="36.90" y1="98.20" x2="36.90" y2="127.90" stroke="#30d030" stroke-width="0.9" />
<text x="38.60" y="141.40" font-size="10.5" text-anchor="middle" fill="#1a1a1a" >0</text>
<text x="113.90" y="141.40" font-size="10.5" text-anchor="middle" fill="#1a1a1a" >20</text>
<text x="188.20" y="141.40" font-size="10.5" text-anchor="middle" fill="#1a1a1a" >40</text>
<text x="266.20" y="141.40" font-size="10.5" text-anchor="middle" fill="#1a1a1a" >60</text>
<text x="151.00" y="149.30" font-size="10.5" text-anchor="middle" fill="#1a1a1a" >Time (s)</text>
<g transform="translate(10.0,68) rotate(-90)"><text x="0" y="0" font-size="11.2" text-anchor="middle" fill="#000">Velocity (m &#183; s<tspan font-size="7" dy="-4">&#8722;1</tspan><tspan dy="4">)</tspan></text></g>
<g transform="translate(22.6,72) rotate(-90)"><text x="0" y="0" font-size="11.2" text-anchor="middle" fill="#000">Displacement (m)</text></g>
<text x="0.30" y="10.20" font-size="12" text-anchor="start" fill="#1a1a1a" font-weight="normal">(a)</text>
<rect x="114.2" y="77.4" width="17.8" height="35.3" fill="none" stroke="#111" stroke-width="0.95" stroke-dasharray="1.3,1.4"/>
<rect x="172.3" y="32.2" width="17.6" height="35.8" fill="none" stroke="#111" stroke-width="0.95" stroke-dasharray="1.3,1.4"/>
<line x1="114.20" y1="112.70" x2="35.80" y2="164.20" stroke="#111" stroke-width="0.95" stroke-dasharray="1.3,1.4"/>
<line x1="132.00" y1="112.70" x2="128.40" y2="164.20" stroke="#111" stroke-width="0.95" stroke-dasharray="1.3,1.4"/>
<line x1="172.30" y1="68.00" x2="174.00" y2="165.20" stroke="#111" stroke-width="0.95" stroke-dasharray="1.3,1.4"/>
<line x1="189.90" y1="68.00" x2="266.60" y2="164.50" stroke="#111" stroke-width="0.95" stroke-dasharray="1.3,1.4"/>
<rect x="224.3" y="29.4" width="39.8" height="53.3" fill="#fff" stroke="#404040" stroke-width="0.9"/>
<line x1="226.90" y1="35.50" x2="238.00" y2="35.50" stroke="#ff5050" stroke-width="0.8" />
<text x="238.6" y="38.10" font-size="11.5" fill="#ff0000"><tspan font-style="italic">x</tspan><tspan font-size="8.5" font-weight="bold" dy="2.4">1</tspan></text>
<line x1="226.90" y1="45.40" x2="238.00" y2="45.40" stroke="#5050ff" stroke-width="0.8" />
<text x="238.6" y="48.00" font-size="11.5" fill="#0000ff"><tspan font-style="italic">x</tspan><tspan font-size="8.5" font-weight="bold" dy="2.4">2</tspan></text>
<line x1="226.90" y1="55.30" x2="238.00" y2="55.30" stroke="#ff60ff" stroke-width="0.8" />
<text x="238.6" y="57.90" font-size="11.5" fill="#ff00ff"><tspan font-style="italic">x</tspan><tspan font-size="8.5" font-weight="bold" dy="2.4">CM</tspan></text>
<line x1="226.90" y1="65.20" x2="238.00" y2="65.20" stroke="#50e050" stroke-width="0.8" />
<text x="238.6" y="67.80" font-size="11.5" fill="#00c000"><tspan font-style="italic">v</tspan><tspan font-size="8.5" font-weight="bold" dy="2.4">1</tspan></text>
<line x1="226.90" y1="75.00" x2="238.00" y2="75.00" stroke="#505050" stroke-width="0.8" />
<text x="238.6" y="77.60" font-size="11.5" fill="#202020"><tspan font-style="italic">v</tspan><tspan font-size="8.5" font-weight="bold" dy="2.4">2</tspan></text>
<line x1="35.60" y1="191.38" x2="128.40" y2="191.38" stroke="#ececec" stroke-width="0.7" />
<line x1="35.60" y1="215.70" x2="128.40" y2="215.70" stroke="#ececec" stroke-width="0.7" />
<line x1="35.60" y1="240.02" x2="128.40" y2="240.02" stroke="#ececec" stroke-width="0.7" />
<line x1="67.84" y1="164.30" x2="67.84" y2="245.50" stroke="#e6e6e6" stroke-width="0.7" />
<line x1="97.14" y1="164.30" x2="97.14" y2="245.50" stroke="#e6e6e6" stroke-width="0.7" />
<polyline points="35.60,164.30 35.60,245.50 128.40,245.50" fill="none" stroke="#cfcfcf" stroke-width="0.9"/>
<polyline points="35.60,215.70 35.80,215.70 36.00,215.70 36.20,215.70 36.40,215.70 36.60,215.70 36.80,215.70 37.00,215.70 37.20,215.70 37.40,215.70 37.60,215.70 37.80,215.70 38.00,215.70 38.20,215.70 38.40,215.70 38.60,215.70 38.80,215.70 39.00,215.70 39.20,215.70 39.40,215.70 39.60,215.70 39.80,215.70 40.00,215.70 40.20,215.70 40.40,215.70 40.60,215.70 40.80,215.70 41.00,215.70 41.20,215.70 41.40,215.70 41.60,215.70 41.80,215.70 42.00,215.70 42.20,215.70 42.40,215.70 42.60,215.70 42.80,215.70 43.00,215.70 43.20,215.70 43.40,215.70 43.60,215.70 43.80,215.70 44.00,212.72 44.20,209.59 44.40,206.46 44.60,203.98 44.80,201.63 45.00,199.28 45.20,196.93 45.40,197.34 45.60,198.91 45.80,200.48 46.00,199.22 46.20,196.09 46.40,192.96 46.60,189.82 46.80,186.69 47.00,183.56 47.20,183.37 47.40,187.81 47.60,192.24 47.80,196.67 48.00,201.10 48.20,205.53 48.40,209.96 48.60,213.91 48.80,214.95 49.00,215.99 49.20,217.04 49.40,218.08 49.60,219.13 49.80,220.17 50.00,221.22 50.20,222.26 50.40,223.31 50.60,224.03 50.80,224.69 51.00,225.35 51.20,226.00 51.40,226.66 51.60,227.32 51.80,227.98 52.00,228.64 52.20,229.29 52.40,229.95 52.60,230.46 52.80,230.80 53.00,231.14 53.20,231.48 53.40,231.83 53.60,232.17 53.80,232.51 54.00,232.85 54.20,233.19 54.40,233.54 54.60,233.88 54.80,233.90 55.00,230.93 55.20,227.95 55.40,224.97 55.60,222.00 55.80,219.02 56.00,216.04 56.20,215.70 56.40,215.70 56.60,215.70 56.80,215.70 57.00,215.70 57.20,215.70 57.40,215.70 57.60,215.70 57.80,215.70 58.00,215.70 58.20,215.70 58.40,215.70 58.60,215.70 58.80,215.70 59.00,215.70 59.20,215.70 59.40,215.70 59.60,215.70 59.80,215.70 60.00,215.70 60.20,215.70 60.40,215.70 60.60,215.70 60.80,215.70 61.00,215.70 61.20,215.70 61.40,215.70 61.60,215.70 61.80,215.70 62.00,215.70 62.20,215.70 62.40,215.70 62.60,215.70 62.80,215.70 63.00,215.70 63.20,215.70 63.40,215.70 63.60,215.70 63.80,215.70 64.00,215.70 64.20,215.70 64.40,215.70 64.60,214.29 64.80,211.16 65.00,208.02 65.20,205.16 65.40,202.81 65.60,200.46 65.80,198.11 66.00,196.56 66.20,198.13 66.40,199.69 66.60,200.79 66.80,197.66 67.00,194.52 67.20,191.39 67.40,188.26 67.60,185.12 67.80,181.99 68.00,185.59 68.20,190.02 68.40,194.45 68.60,198.89 68.80,203.32 69.00,207.75 69.20,212.18 69.40,214.43 69.60,215.47 69.80,216.52 70.00,217.56 70.20,218.61 70.40,219.65 70.60,220.70 70.80,221.74 71.00,222.78 71.20,223.70 71.40,224.36 71.60,225.02 71.80,225.68 72.00,226.33 72.20,226.99 72.40,227.65 72.60,228.31 72.80,228.97 73.00,229.62 73.20,230.28 73.40,230.63 73.60,230.97 73.80,231.31 74.00,231.66 74.20,232.00 74.40,232.34 74.60,232.68 74.80,233.02 75.00,233.36 75.20,233.71 75.40,234.05 75.60,232.42 75.80,229.44 76.00,226.46 76.20,223.48 76.40,220.51 76.60,217.53 76.80,215.70 77.00,215.70 77.20,215.70 77.40,215.70 77.60,215.70 77.80,215.70 78.00,215.70 78.20,215.70 78.40,215.70 78.60,215.70 78.80,215.70 79.00,215.70 79.20,215.70 79.40,215.70 79.60,215.70 79.80,215.70 80.00,215.70 80.20,215.70 80.40,215.70 80.60,215.70 80.80,215.70 81.00,215.70 81.20,215.70 81.40,215.70 81.60,215.70 81.80,215.70 82.00,215.70 82.20,215.70 82.40,215.70 82.60,215.70 82.80,215.70 83.00,215.70 83.20,215.70 83.40,215.70 83.60,215.70 83.80,215.70 84.00,215.70 84.20,215.70 84.40,215.70 84.60,215.70 84.80,215.70 85.00,215.70 85.20,215.70 85.40,212.72 85.60,209.59 85.80,206.46 86.00,203.98 86.20,201.63 86.40,199.28 86.60,196.93 86.80,197.34 87.00,198.91 87.20,200.48 87.40,199.22 87.60,196.09 87.80,192.96 88.00,189.82 88.20,186.69 88.40,183.56 88.60,183.37 88.80,187.81 89.00,192.24 89.20,196.67 89.40,201.10 89.60,205.53 89.80,209.96 90.00,213.91 90.20,214.95 90.40,215.99 90.60,217.04 90.80,218.08 91.00,219.13 91.20,220.17 91.40,221.22 91.60,222.26 91.80,223.31 92.00,224.03 92.20,224.69 92.40,225.35 92.60,226.00 92.80,226.66 93.00,227.32 93.20,227.98 93.40,228.64 93.60,229.29 93.80,229.95 94.00,230.46 94.20,230.80 94.40,231.14 94.60,231.48 94.80,231.83 95.00,232.17 95.20,232.51 95.40,232.85 95.60,233.19 95.80,233.54 96.00,233.88 96.20,233.90 96.40,230.93 96.60,227.95 96.80,224.97 97.00,222.00 97.20,219.02 97.40,216.04 97.60,215.70 97.80,215.70 98.00,215.70 98.20,215.70 98.40,215.70 98.60,215.70 98.80,215.70 99.00,215.70 99.20,215.70 99.40,215.70 99.60,215.70 99.80,215.70 100.00,215.70 100.20,215.70 100.40,215.70 100.60,215.70 100.80,215.70 101.00,215.70 101.20,215.70 101.40,215.70 101.60,215.70 101.80,215.70 102.00,215.70 102.20,215.70 102.40,215.70 102.60,215.70 102.80,215.70 103.00,215.70 103.20,215.70 103.40,215.70 103.60,215.70 103.80,215.70 104.00,215.70 104.20,215.70 104.40,215.70 104.60,215.70 104.80,215.70 105.00,215.70 105.20,215.70 105.40,215.70 105.60,215.70 105.80,215.70 106.00,214.29 106.20,211.16 106.40,208.02 106.60,205.16 106.80,202.81 107.00,200.46 107.20,198.11 107.40,196.56 107.60,198.13 107.80,199.69 108.00,200.79 108.20,197.66 108.40,194.52 108.60,191.39 108.80,188.26 109.00,185.12 109.20,181.99 109.40,185.59 109.60,190.02 109.80,194.45 110.00,198.89 110.20,203.32 110.40,207.75 110.60,212.18 110.80,214.43 111.00,215.47 111.20,216.52 111.40,217.56 111.60,218.61 111.80,219.65 112.00,220.70 112.20,221.74 112.40,222.78 112.60,223.70 112.80,224.36 113.00,225.02 113.20,225.68 113.40,226.33 113.60,226.99 113.80,227.65 114.00,228.31 114.20,228.97 114.40,229.62 114.60,230.28 114.80,230.63 115.00,230.97 115.20,231.31 115.40,231.66 115.60,232.00 115.80,232.34 116.00,232.68 116.20,233.02 116.40,233.36 116.60,233.71 116.80,234.05 117.00,232.42 117.20,229.44 117.40,226.46 117.60,223.48 117.80,220.51 118.00,217.53 118.20,215.70 118.40,215.70 118.60,215.70 118.80,215.70 119.00,215.70 119.20,215.70 119.40,215.70 119.60,215.70 119.80,215.70 120.00,215.70 120.20,215.70 120.40,215.70 120.60,215.70 120.80,215.70 121.00,215.70 121.20,215.70 121.40,215.70 121.60,215.70 121.80,215.70 122.00,215.70 122.20,215.70 122.40,215.70 122.60,215.70 122.80,215.70 123.00,215.70 123.20,215.70 123.40,215.70 123.60,215.70 123.80,215.70 124.00,215.70 124.20,215.70 124.40,215.70 124.60,215.70 124.80,215.70 125.00,215.70 125.20,215.70 125.40,215.70 125.60,215.70 125.80,215.70 126.00,215.70 126.20,215.70 126.40,215.70 126.60,215.70 126.80,212.72 127.00,209.59 127.20,206.46 127.40,203.98 127.60,201.63 127.80,199.28 128.00,196.93 128.20,197.34" fill="none" stroke="#111" stroke-width="0.55"/>
<polyline points="35.60,185.59 35.80,184.52 36.00,183.44 36.20,182.37 36.40,181.29 36.60,180.21 36.80,179.14 37.00,178.06 37.20,176.99 37.40,175.91 37.60,174.83 37.80,184.02 38.00,193.20 38.20,202.38 38.40,211.56 38.60,215.70 38.80,215.70 39.00,215.70 39.20,215.70 39.40,215.70 39.60,215.70 39.80,215.70 40.00,215.70 40.20,215.70 40.40,215.70 40.60,215.70 40.80,215.70 41.00,215.70 41.20,215.70 41.40,215.70 41.60,215.70 41.80,215.70 42.00,215.70 42.20,215.70 42.40,215.70 42.60,215.70 42.80,216.59 43.00,218.24 43.20,219.88 43.40,221.53 43.60,223.18 43.80,224.83 44.00,226.47 44.20,228.12 44.40,229.77 44.60,231.42 44.80,231.42 45.00,229.77 45.20,228.12 45.40,226.48 45.60,224.83 45.80,223.18 46.00,221.53 46.20,219.88 46.40,218.24 46.60,216.59 46.80,215.70 47.00,215.70 47.20,215.70 47.40,215.70 47.60,215.70 47.80,215.70 48.00,215.70 48.20,215.70 48.40,215.70 48.60,215.70 48.80,215.70 49.00,215.70 49.20,215.70 49.40,215.70 49.60,215.70 49.80,215.70 50.00,215.70 50.20,215.70 50.40,215.70 50.60,215.70 50.80,215.18 51.00,214.10 51.20,213.03 51.40,211.95 51.60,210.88 51.80,209.80 52.00,208.72 52.20,207.65 52.40,206.57 52.60,205.50 52.80,204.42 53.00,203.34 53.20,202.27 53.40,201.19 53.60,200.12 53.80,199.04 54.00,197.96 54.20,196.89 54.40,195.81 54.60,194.74 54.80,193.66 55.00,192.59 55.20,191.51 55.40,190.43 55.60,189.36 55.80,188.28 56.00,187.21 56.20,186.13 56.40,185.05 56.60,183.98 56.80,182.90 57.00,181.83 57.20,180.75 57.40,179.68 57.60,178.60 57.80,177.52 58.00,176.45 58.20,175.37 58.40,179.43 58.60,188.61 58.80,197.79 59.00,206.97 59.20,215.70 59.40,215.70 59.60,215.70 59.80,215.70 60.00,215.70 60.20,215.70 60.40,215.70 60.60,215.70 60.80,215.70 61.00,215.70 61.20,215.70 61.40,215.70 61.60,215.70 61.80,215.70 62.00,215.70 62.20,215.70 62.40,215.70 62.60,215.70 62.80,215.70 63.00,215.70 63.20,215.70 63.40,215.76 63.60,217.41 63.80,219.06 64.00,220.71 64.20,222.35 64.40,224.00 64.60,225.65 64.80,227.30 65.00,228.94 65.20,230.59 65.40,232.24 65.60,230.59 65.80,228.95 66.00,227.30 66.20,225.65 66.40,224.00 66.60,222.36 66.80,220.71 67.00,219.06 67.20,217.41 67.40,215.77 67.60,215.70 67.80,215.70 68.00,215.70 68.20,215.70 68.40,215.70 68.60,215.70 68.80,215.70 69.00,215.70 69.20,215.70 69.40,215.70 69.60,215.70 69.80,215.70 70.00,215.70 70.20,215.70 70.40,215.70 70.60,215.70 70.80,215.70 71.00,215.70 71.20,215.70 71.40,215.70 71.60,214.64 71.80,213.56 72.00,212.49 72.20,211.41 72.40,210.34 72.60,209.26 72.80,208.19 73.00,207.11 73.20,206.03 73.40,204.96 73.60,203.88 73.80,202.81 74.00,201.73 74.20,200.65 74.40,199.58 74.60,198.50 74.80,197.43 75.00,196.35 75.20,195.28 75.40,194.20 75.60,193.12 75.80,192.05 76.00,190.97 76.20,189.90 76.40,188.82 76.60,187.74 76.80,186.67 77.00,185.59 77.20,184.52 77.40,183.44 77.60,182.37 77.80,181.29 78.00,180.21 78.20,179.14 78.40,178.06 78.60,176.99 78.80,175.91 79.00,174.83 79.20,184.02 79.40,193.20 79.60,202.38 79.80,211.56 80.00,215.70 80.20,215.70 80.40,215.70 80.60,215.70 80.80,215.70 81.00,215.70 81.20,215.70 81.40,215.70 81.60,215.70 81.80,215.70 82.00,215.70 82.20,215.70 82.40,215.70 82.60,215.70 82.80,215.70 83.00,215.70 83.20,215.70 83.40,215.70 83.60,215.70 83.80,215.70 84.00,215.70 84.20,216.59 84.40,218.24 84.60,219.88 84.80,221.53 85.00,223.18 85.20,224.83 85.40,226.47 85.60,228.12 85.80,229.77 86.00,231.42 86.20,231.42 86.40,229.77 86.60,228.12 86.80,226.48 87.00,224.83 87.20,223.18 87.40,221.53 87.60,219.88 87.80,218.24 88.00,216.59 88.20,215.70 88.40,215.70 88.60,215.70 88.80,215.70 89.00,215.70 89.20,215.70 89.40,215.70 89.60,215.70 89.80,215.70 90.00,215.70 90.20,215.70 90.40,215.70 90.60,215.70 90.80,215.70 91.00,215.70 91.20,215.70 91.40,215.70 91.60,215.70 91.80,215.70 92.00,215.70 92.20,215.18 92.40,214.10 92.60,213.03 92.80,211.95 93.00,210.88 93.20,209.80 93.40,208.72 93.60,207.65 93.80,206.57 94.00,205.50 94.20,204.42 94.40,203.34 94.60,202.27 94.80,201.19 95.00,200.12 95.20,199.04 95.40,197.96 95.60,196.89 95.80,195.81 96.00,194.74 96.20,193.66 96.40,192.59 96.60,191.51 96.80,190.43 97.00,189.36 97.20,188.28 97.40,187.21 97.60,186.13 97.80,185.05 98.00,183.98 98.20,182.90 98.40,181.83 98.60,180.75 98.80,179.68 99.00,178.60 99.20,177.52 99.40,176.45 99.60,175.37 99.80,179.43 100.00,188.61 100.20,197.79 100.40,206.97 100.60,215.70 100.80,215.70 101.00,215.70 101.20,215.70 101.40,215.70 101.60,215.70 101.80,215.70 102.00,215.70 102.20,215.70 102.40,215.70 102.60,215.70 102.80,215.70 103.00,215.70 103.20,215.70 103.40,215.70 103.60,215.70 103.80,215.70 104.00,215.70 104.20,215.70 104.40,215.70 104.60,215.70 104.80,215.76 105.00,217.41 105.20,219.06 105.40,220.71 105.60,222.35 105.80,224.00 106.00,225.65 106.20,227.30 106.40,228.94 106.60,230.59 106.80,232.24 107.00,230.59 107.20,228.95 107.40,227.30 107.60,225.65 107.80,224.00 108.00,222.36 108.20,220.71 108.40,219.06 108.60,217.41 108.80,215.77 109.00,215.70 109.20,215.70 109.40,215.70 109.60,215.70 109.80,215.70 110.00,215.70 110.20,215.70 110.40,215.70 110.60,215.70 110.80,215.70 111.00,215.70 111.20,215.70 111.40,215.70 111.60,215.70 111.80,215.70 112.00,215.70 112.20,215.70 112.40,215.70 112.60,215.70 112.80,215.70 113.00,214.64 113.20,213.56 113.40,212.49 113.60,211.41 113.80,210.34 114.00,209.26 114.20,208.19 114.40,207.11 114.60,206.03 114.80,204.96 115.00,203.88 115.20,202.81 115.40,201.73 115.60,200.65 115.80,199.58 116.00,198.50 116.20,197.43 116.40,196.35 116.60,195.28 116.80,194.20 117.00,193.12 117.20,192.05 117.40,190.97 117.60,189.90 117.80,188.82 118.00,187.74 118.20,186.67 118.40,185.59 118.60,184.52 118.80,183.44 119.00,182.37 119.20,181.29 119.40,180.21 119.60,179.14 119.80,178.06 120.00,176.99 120.20,175.91 120.40,174.83 120.60,184.02 120.80,193.20 121.00,202.38 121.20,211.56 121.40,215.70 121.60,215.70 121.80,215.70 122.00,215.70 122.20,215.70 122.40,215.70 122.60,215.70 122.80,215.70 123.00,215.70 123.20,215.70 123.40,215.70 123.60,215.70 123.80,215.70 124.00,215.70 124.20,215.70 124.40,215.70 124.60,215.70 124.80,215.70 125.00,215.70 125.20,215.70 125.40,215.70 125.60,216.59 125.80,218.24 126.00,219.88 126.20,221.53 126.40,223.18 126.60,224.83 126.80,226.47 127.00,228.12 127.20,229.77 127.40,231.42 127.60,231.42 127.80,229.77 128.00,228.12 128.20,226.48" fill="none" stroke="#40e040" stroke-width="0.45"/>
<text x="33.30" y="170.40" font-size="10.5" text-anchor="end" fill="#1a1a1a" >0.5</text>
<text x="33.30" y="195.10" font-size="10.5" text-anchor="end" fill="#1a1a1a" >0.25</text>
<text x="33.30" y="221.60" font-size="10.5" text-anchor="end" fill="#1a1a1a" >0</text>
<text x="33.30" y="243.90" font-size="10.5" text-anchor="end" fill="#1a1a1a" >&#8722;0.25</text>
<text x="39.00" y="259.30" font-size="10.5" text-anchor="middle" fill="#1a1a1a" >20.5</text>
<text x="125.50" y="259.30" font-size="10.5" text-anchor="middle" fill="#1a1a1a" >25</text>
<text x="82.00" y="267.30" font-size="10.5" text-anchor="middle" fill="#1a1a1a" >Time (s)</text>
<g transform="translate(10.0,202) rotate(-90)"><text x="0" y="0" font-size="11.2" text-anchor="middle" fill="#000">Velocity (m &#183; s<tspan font-size="7" dy="-4">&#8722;1</tspan><tspan dy="4">)</tspan></text></g>
<text x="0.30" y="154.50" font-size="12" text-anchor="start" fill="#1a1a1a" >(b)</text>
<line x1="174.00" y1="205.35" x2="266.80" y2="205.35" stroke="#e6e6e6" stroke-width="0.7" />
<line x1="204.60" y1="165.20" x2="204.60" y2="245.50" stroke="#e6e6e6" stroke-width="0.7" />
<line x1="235.40" y1="165.20" x2="235.40" y2="245.50" stroke="#e6e6e6" stroke-width="0.7" />
<line x1="174.00" y1="165.20" x2="266.80" y2="165.20" stroke="#e0e0e0" stroke-width="0.8" />
<polyline points="174.00,165.20 174.00,245.50 266.80,245.50" fill="none" stroke="#cfcfcf" stroke-width="0.9"/>
<polyline points="174.00,224.30 174.25,224.30 174.50,224.30 174.75,224.30 175.00,224.30 175.25,224.30 175.50,224.30 175.75,224.30 176.00,224.30 176.25,224.30 176.50,224.30 176.75,224.30 177.00,224.30 177.25,224.30 177.50,224.30 177.75,224.30 178.00,224.30 178.25,224.30 178.50,224.30 178.75,224.30 179.00,224.30 179.25,224.30 179.50,224.30 179.75,224.30 180.00,224.30 180.25,224.30 180.50,224.30 180.75,224.30 181.00,224.30 181.25,224.22 181.50,223.94 181.75,223.55 182.00,223.07 182.25,222.50 182.50,221.88 182.75,221.20 183.00,220.48 183.25,219.72 183.50,218.93 183.75,218.13 184.00,217.31 184.25,216.49 184.50,215.67 184.75,214.87 185.00,214.07 185.25,213.30 185.50,212.56 185.75,211.85 186.00,211.18 186.25,210.55 186.50,209.96 186.75,209.43 187.00,208.95 187.25,208.52 187.50,208.16 187.75,207.85 188.00,207.60 188.25,207.41 188.50,207.28 188.75,207.21 189.00,207.19 189.25,207.24 189.50,207.34 189.75,207.48 190.00,207.68 190.25,207.92 190.50,208.21 190.75,208.53 191.00,208.88 191.25,209.26 191.50,209.66 191.75,210.07 192.00,210.50 192.25,210.93 192.50,211.37 192.75,211.79 193.00,212.19 193.25,212.57 193.50,212.92 193.75,213.21 194.00,213.44 194.25,213.50 194.50,213.50 194.75,213.50 195.00,213.50 195.25,213.50 195.50,213.50 195.75,213.50 196.00,213.50 196.25,213.50 196.50,213.50 196.75,213.50 197.00,213.50 197.25,213.50 197.50,213.50 197.75,213.50 198.00,213.50 198.25,213.50 198.50,213.50 198.75,213.50 199.00,213.50 199.25,213.50 199.50,213.50 199.75,213.50 200.00,213.50 200.25,213.50 200.50,213.50 200.75,213.50 201.00,213.50 201.25,213.50 201.50,213.50 201.75,213.50 202.00,213.38 202.25,213.07 202.50,212.66 202.75,212.16 203.00,211.58 203.25,210.95 203.50,210.26 203.75,209.53 204.00,208.76 204.25,207.97 204.50,207.17 204.75,206.35 205.00,205.53 205.25,204.71 205.50,203.91 205.75,203.12 206.00,202.35 206.25,201.62 206.50,200.91 206.75,200.25 207.00,199.63 207.25,199.05 207.50,198.53 207.75,198.06 208.00,197.65 208.25,197.29 208.50,196.99 208.75,196.75 209.00,196.58 209.25,196.46 209.50,196.40 209.75,196.40 210.00,196.45 210.25,196.56 210.50,196.72 210.75,196.93 211.00,197.18 211.25,197.47 211.50,197.79 211.75,198.15 212.00,198.54 212.25,198.94 212.50,199.36 212.75,199.79 213.00,200.22 213.25,200.65 213.50,201.07 213.75,201.47 214.00,201.85 214.25,202.18 214.50,202.47 214.75,202.67 215.00,202.70 215.25,202.70 215.50,202.70 215.75,202.70 216.00,202.70 216.25,202.70 216.50,202.70 216.75,202.70 217.00,202.70 217.25,202.70 217.50,202.70 217.75,202.70 218.00,202.70 218.25,202.70 218.50,202.70 218.75,202.70 219.00,202.70 219.25,202.70 219.50,202.70 219.75,202.70 220.00,202.70 220.25,202.70 220.50,202.70 220.75,202.70 221.00,202.70 221.25,202.70 221.50,202.70 221.75,202.70 222.00,202.70 222.25,202.70 222.50,202.70 222.75,202.53 223.00,202.20 223.25,201.77 223.50,201.25 223.75,200.66 224.00,200.01 224.25,199.32 224.50,198.58 224.75,197.81 225.00,197.01 225.25,196.20 225.50,195.39 225.75,194.56 226.00,193.75 226.25,192.95 226.50,192.16 226.75,191.40 227.00,190.67 227.25,189.98 227.50,189.32 227.75,188.71 228.00,188.15 228.25,187.63 228.50,187.17 228.75,186.77 229.00,186.43 229.25,186.14 229.50,185.91 229.75,185.75 230.00,185.64 230.25,185.59 230.50,185.60 230.75,185.67 231.00,185.79 231.25,185.96 231.50,186.17 231.75,186.43 232.00,186.73 232.25,187.06 232.50,187.43 232.75,187.81 233.00,188.22 233.25,188.64 233.50,189.08 233.75,189.51 234.00,189.94 234.25,190.35 234.50,190.75 234.75,191.12 235.00,191.44 235.25,191.71 235.50,191.89 235.75,191.90 236.00,191.90 236.25,191.90 236.50,191.90 236.75,191.90 237.00,191.90 237.25,191.90 237.50,191.90 237.75,191.90 238.00,191.90 238.25,191.90 238.50,191.90 238.75,191.90 239.00,191.90 239.25,191.90 239.50,191.90 239.75,191.90 240.00,191.90 240.25,191.90 240.50,191.90 240.75,191.90 241.00,191.90 241.25,191.90 241.50,191.90 241.75,191.90 242.00,191.90 242.25,191.90 242.50,191.90 242.75,191.90 243.00,191.90 243.25,191.89 243.50,191.67 243.75,191.32 244.00,190.87 244.25,190.34 244.50,189.74 244.75,189.08 245.00,188.37 245.25,187.63 245.50,186.85 245.75,186.05 246.00,185.24 246.25,184.42 246.50,183.60 246.75,182.79 247.00,181.99 247.25,181.21 247.50,180.45 247.75,179.73 248.00,179.04 248.25,178.40 248.50,177.79 248.75,177.24 249.00,176.74 249.25,176.29 249.50,175.90 249.75,175.56 250.00,175.29 250.25,175.08 250.50,174.92 250.75,174.83 251.00,174.79 251.25,174.81 251.50,174.89 251.75,175.02 252.00,175.20 252.25,175.42 252.50,175.69 252.75,175.99 253.00,176.33 253.25,176.70 253.50,177.09 253.75,177.51 254.00,177.93 254.25,178.36 254.50,178.79 254.75,179.22 255.00,179.63 255.25,180.02 255.50,180.39 255.75,180.70 256.00,180.96 256.25,181.10 256.50,181.10 256.75,181.10 257.00,181.10 257.25,181.10 257.50,181.10 257.75,181.10 258.00,181.10 258.25,181.10 258.50,181.10 258.75,181.10 259.00,181.10 259.25,181.10 259.50,181.10 259.75,181.10 260.00,181.10 260.25,181.10 260.50,181.10 260.75,181.10 261.00,181.10 261.25,181.10 261.50,181.10 261.75,181.10 262.00,181.10 262.25,181.10 262.50,181.10 262.75,181.10 263.00,181.10 263.25,181.10 263.50,181.10 263.75,181.10 264.00,181.06 264.25,180.81 264.50,180.44 264.75,179.97 265.00,179.42 265.25,178.81 265.50,178.14 265.75,177.42 266.00,176.67 266.25,175.89 266.50,175.09 266.75,174.28" fill="none" stroke="#4848ff" stroke-width="0.75"/>
<polyline points="174.00,233.17 174.25,232.09 174.50,231.03 174.75,230.00 175.00,229.02 175.25,228.09 175.50,227.23 175.75,226.44 176.00,225.76 176.25,225.18 176.50,224.72 176.75,224.41 177.00,224.30 177.25,224.30 177.50,224.30 177.75,224.30 178.00,224.30 178.25,224.30 178.50,224.30 178.75,224.30 179.00,224.30 179.25,224.30 179.50,224.30 179.75,224.30 180.00,224.30 180.25,224.30 180.50,224.30 180.75,224.30 181.00,224.30 181.25,224.35 181.50,224.51 181.75,224.73 182.00,224.99 182.25,225.30 182.50,225.63 182.75,225.99 183.00,226.37 183.25,226.77 183.50,227.19 183.75,227.61 184.00,228.04 184.25,228.48 184.50,228.92 184.75,229.35 185.00,229.78 185.25,230.20 185.50,230.62 185.75,231.02 186.00,231.40 186.25,231.77 186.50,232.12 186.75,232.45 187.00,232.75 187.25,233.03 187.50,233.28 187.75,233.50 188.00,233.70 188.25,233.86 188.50,233.99 188.75,234.09 189.00,234.16 189.25,234.20 189.50,234.20 189.75,234.16 190.00,234.10 190.25,234.00 190.50,233.87 190.75,233.71 191.00,233.51 191.25,233.29 191.50,233.04 191.75,232.69 192.00,232.22 192.25,231.64 192.50,230.96 192.75,230.20 193.00,229.35 193.25,228.44 193.50,227.47 193.75,226.45 194.00,225.40 194.25,224.33 194.50,223.24 194.75,222.15 195.00,221.08 195.25,220.02 195.50,219.00 195.75,218.03 196.00,217.11 196.25,216.26 196.50,215.50 196.75,214.83 197.00,214.28 197.25,213.85 197.50,213.57 197.75,213.50 198.00,213.50 198.25,213.50 198.50,213.50 198.75,213.50 199.00,213.50 199.25,213.50 199.50,213.50 199.75,213.50 200.00,213.50 200.25,213.50 200.50,213.50 200.75,213.50 201.00,213.50 201.25,213.50 201.50,213.50 201.75,213.50 202.00,213.57 202.25,213.75 202.50,213.98 202.75,214.25 203.00,214.56 203.25,214.90 203.50,215.27 203.75,215.65 204.00,216.05 204.25,216.47 204.50,216.90 204.75,217.33 205.00,217.77 205.25,218.20 205.50,218.64 205.75,219.07 206.00,219.49 206.25,219.90 206.50,220.29 206.75,220.68 207.00,221.04 207.25,221.39 207.50,221.71 207.75,222.01 208.00,222.28 208.25,222.53 208.50,222.75 208.75,222.93 209.00,223.09 209.25,223.22 209.50,223.31 209.75,223.37 210.00,223.40 210.25,223.39 210.50,223.35 210.75,223.28 211.00,223.18 211.25,223.04 211.50,222.87 211.75,222.67 212.00,222.44 212.25,222.18 212.50,221.80 212.75,221.31 213.00,220.71 213.25,220.02 213.50,219.23 213.75,218.37 214.00,217.45 214.25,216.47 214.50,215.44 214.75,214.39 215.00,213.31 215.25,212.22 215.50,211.14 215.75,210.06 216.00,209.01 216.25,208.00 216.50,207.04 216.75,206.13 217.00,205.30 217.25,204.56 217.50,203.91 217.75,203.38 218.00,202.98 218.25,202.74 218.50,202.70 218.75,202.70 219.00,202.70 219.25,202.70 219.50,202.70 219.75,202.70 220.00,202.70 220.25,202.70 220.50,202.70 220.75,202.70 221.00,202.70 221.25,202.70 221.50,202.70 221.75,202.70 222.00,202.70 222.25,202.70 222.50,202.70 222.75,202.80 223.00,202.99 223.25,203.23 223.50,203.51 223.75,203.83 224.00,204.17 224.25,204.54 224.50,204.93 224.75,205.34 225.00,205.76 225.25,206.18 225.50,206.62 225.75,207.05 226.00,207.49 226.25,207.92 226.50,208.35 226.75,208.77 227.00,209.18 227.25,209.57 227.50,209.95 227.75,210.31 228.00,210.65 228.25,210.97 228.50,211.26 228.75,211.53 229.00,211.77 229.25,211.99 229.50,212.17 229.75,212.32 230.00,212.44 230.25,212.53 230.50,212.58 230.75,212.60 231.00,212.59 231.25,212.54 231.50,212.46 231.75,212.35 232.00,212.21 232.25,212.03 232.50,211.83 232.75,211.59 233.00,211.31 233.25,210.91 233.50,210.40 233.75,209.78 234.00,209.07 234.25,208.27 234.50,207.39 234.75,206.45 235.00,205.46 235.25,204.43 235.50,203.37 235.75,202.29 236.00,201.20 236.25,200.12 236.50,199.05 236.75,198.01 237.00,197.00 237.25,196.05 237.50,195.16 237.75,194.35 238.00,193.62 238.25,193.00 238.50,192.49 238.75,192.12 239.00,191.92 239.25,191.90 239.50,191.90 239.75,191.90 240.00,191.90 240.25,191.90 240.50,191.90 240.75,191.90 241.00,191.90 241.25,191.90 241.50,191.90 241.75,191.90 242.00,191.90 242.25,191.90 242.50,191.90 242.75,191.90 243.00,191.90 243.25,191.91 243.50,192.03 243.75,192.23 244.00,192.48 244.25,192.77 244.50,193.09 244.75,193.44 245.00,193.82 245.25,194.21 245.50,194.62 245.75,195.04 246.00,195.47 246.25,195.90 246.50,196.34 246.75,196.78 247.00,197.21 247.25,197.64 247.50,198.05 247.75,198.46 248.00,198.85 248.25,199.23 248.50,199.58 248.75,199.92 249.00,200.23 249.25,200.52 249.50,200.78 249.75,201.02 250.00,201.22 250.25,201.40 250.50,201.55 250.75,201.66 251.00,201.74 251.25,201.79 251.50,201.80 251.75,201.78 252.00,201.73 252.25,201.64 252.50,201.52 252.75,201.37 253.00,201.19 253.25,200.98 253.50,200.74 253.75,200.44 254.00,200.02 254.25,199.48 254.50,198.85 254.75,198.11 255.00,197.30 255.25,196.41 255.50,195.46 255.75,194.46 256.00,193.42 256.25,192.36 256.50,191.27 256.75,190.19 257.00,189.10 257.25,188.04 257.50,187.00 257.75,186.01 258.00,185.07 258.25,184.19 258.50,183.39 258.75,182.69 259.00,182.08 259.25,181.60 259.50,181.26 259.75,181.10 260.00,181.10 260.25,181.10 260.50,181.10 260.75,181.10 261.00,181.10 261.25,181.10 261.50,181.10 261.75,181.10 262.00,181.10 262.25,181.10 262.50,181.10 262.75,181.10 263.00,181.10 263.25,181.10 263.50,181.10 263.75,181.10 264.00,181.13 264.25,181.27 264.50,181.48 264.75,181.74 265.00,182.03 265.25,182.36 265.50,182.72 265.75,183.10 266.00,183.49 266.25,183.90 266.50,184.33 266.75,184.76" fill="none" stroke="#ff4848" stroke-width="0.75"/>
<polyline points="174.00,228.73 174.25,228.19 174.50,227.66 174.75,227.15 175.00,226.66 175.25,226.19 175.50,225.76 175.75,225.37 176.00,225.03 176.25,224.74 176.50,224.51 176.75,224.36 177.00,224.30 177.25,224.30 177.50,224.30 177.75,224.30 178.00,224.30 178.25,224.30 178.50,224.30 178.75,224.30 179.00,224.30 179.25,224.30 179.50,224.30 179.75,224.30 180.00,224.30 180.25,224.30 180.50,224.30 180.75,224.30 181.00,224.30 181.25,224.28 181.50,224.23 181.75,224.14 182.00,224.03 182.25,223.90 182.50,223.75 182.75,223.60 183.00,223.43 183.25,223.25 183.50,223.06 183.75,222.87 184.00,222.68 184.25,222.49 184.50,222.29 184.75,222.11 185.00,221.93 185.25,221.75 185.50,221.59 185.75,221.43 186.00,221.29 186.25,221.16 186.50,221.04 186.75,220.94 187.00,220.85 187.25,220.78 187.50,220.72 187.75,220.68 188.00,220.65 188.25,220.63 188.50,220.64 188.75,220.65 189.00,220.68 189.25,220.72 189.50,220.77 189.75,220.82 190.00,220.89 190.25,220.96 190.50,221.04 190.75,221.12 191.00,221.20 191.25,221.27 191.50,221.35 191.75,221.38 192.00,221.36 192.25,221.29 192.50,221.16 192.75,220.99 193.00,220.77 193.25,220.50 193.50,220.19 193.75,219.83 194.00,219.42 194.25,218.91 194.50,218.37 194.75,217.83 195.00,217.29 195.25,216.76 195.50,216.25 195.75,215.76 196.00,215.30 196.25,214.88 196.50,214.50 196.75,214.17 197.00,213.89 197.25,213.67 197.50,213.54 197.75,213.50 198.00,213.50 198.25,213.50 198.50,213.50 198.75,213.50 199.00,213.50 199.25,213.50 199.50,213.50 199.75,213.50 200.00,213.50 200.25,213.50 200.50,213.50 200.75,213.50 201.00,213.50 201.25,213.50 201.50,213.50 201.75,213.50 202.00,213.48 202.25,213.41 202.50,213.32 202.75,213.20 203.00,213.07 203.25,212.92 203.50,212.76 203.75,212.59 204.00,212.41 204.25,212.22 204.50,212.03 204.75,211.84 205.00,211.65 205.25,211.46 205.50,211.27 205.75,211.09 206.00,210.92 206.25,210.76 206.50,210.60 206.75,210.46 207.00,210.33 207.25,210.22 207.50,210.12 207.75,210.03 208.00,209.96 208.25,209.91 208.50,209.87 208.75,209.84 209.00,209.83 209.25,209.84 209.50,209.86 209.75,209.88 210.00,209.93 210.25,209.98 210.50,210.04 210.75,210.10 211.00,210.18 211.25,210.25 211.50,210.33 211.75,210.41 212.00,210.49 212.25,210.56 212.50,210.58 212.75,210.55 213.00,210.47 213.25,210.33 213.50,210.15 213.75,209.92 214.00,209.65 214.25,209.32 214.50,208.95 214.75,208.53 215.00,208.00 215.25,207.46 215.50,206.92 215.75,206.38 216.00,205.86 216.25,205.35 216.50,204.87 216.75,204.42 217.00,204.00 217.25,203.63 217.50,203.31 217.75,203.04 218.00,202.84 218.25,202.72 218.50,202.70 218.75,202.70 219.00,202.70 219.25,202.70 219.50,202.70 219.75,202.70 220.00,202.70 220.25,202.70 220.50,202.70 220.75,202.70 221.00,202.70 221.25,202.70 221.50,202.70 221.75,202.70 222.00,202.70 222.25,202.70 222.50,202.70 222.75,202.66 223.00,202.59 223.25,202.50 223.50,202.38 223.75,202.24 224.00,202.09 224.25,201.93 224.50,201.75 224.75,201.57 225.00,201.38 225.25,201.19 225.50,201.00 225.75,200.81 226.00,200.62 226.25,200.44 226.50,200.26 226.75,200.09 227.00,199.93 227.25,199.77 227.50,199.64 227.75,199.51 228.00,199.40 228.25,199.30 228.50,199.22 228.75,199.15 229.00,199.10 229.25,199.06 229.50,199.04 229.75,199.03 230.00,199.04 230.25,199.06 230.50,199.09 230.75,199.14 231.00,199.19 231.25,199.25 231.50,199.32 231.75,199.39 232.00,199.47 232.25,199.55 232.50,199.63 232.75,199.70 233.00,199.77 233.25,199.78 233.50,199.74 233.75,199.64 234.00,199.50 234.25,199.31 234.50,199.07 234.75,198.79 235.00,198.45 235.25,198.07 235.50,197.63 235.75,197.10 236.00,196.55 236.25,196.01 236.50,195.48 236.75,194.95 237.00,194.45 237.25,193.98 237.50,193.53 237.75,193.12 238.00,192.76 238.25,192.45 238.50,192.19 238.75,192.01 239.00,191.91 239.25,191.90 239.50,191.90 239.75,191.90 240.00,191.90 240.25,191.90 240.50,191.90 240.75,191.90 241.00,191.90 241.25,191.90 241.50,191.90 241.75,191.90 242.00,191.90 242.25,191.90 242.50,191.90 242.75,191.90 243.00,191.90 243.25,191.90 243.50,191.85 243.75,191.78 244.00,191.68 244.25,191.55 244.50,191.41 244.75,191.26 245.00,191.09 245.25,190.92 245.50,190.74 245.75,190.55 246.00,190.35 246.25,190.16 246.50,189.97 246.75,189.78 247.00,189.60 247.25,189.42 247.50,189.25 247.75,189.09 248.00,188.95 248.25,188.81 248.50,188.69 248.75,188.58 249.00,188.48 249.25,188.40 249.50,188.34 249.75,188.29 250.00,188.26 250.25,188.24 250.50,188.23 250.75,188.24 251.00,188.27 251.25,188.30 251.50,188.34 251.75,188.40 252.00,188.46 252.25,188.53 252.50,188.61 252.75,188.68 253.00,188.76 253.25,188.84 253.50,188.92 253.75,188.97 254.00,188.98 254.25,188.92 254.50,188.82 254.75,188.67 255.00,188.46 255.25,188.22 255.50,187.92 255.75,187.58 256.00,187.19 256.25,186.73 256.50,186.19 256.75,185.64 257.00,185.10 257.25,184.57 257.50,184.05 257.75,183.55 258.00,183.08 258.25,182.65 258.50,182.25 258.75,181.89 259.00,181.59 259.25,181.35 259.50,181.18 259.75,181.10 260.00,181.10 260.25,181.10 260.50,181.10 260.75,181.10 261.00,181.10 261.25,181.10 261.50,181.10 261.75,181.10 262.00,181.10 262.25,181.10 262.50,181.10 262.75,181.10 263.00,181.10 263.25,181.10 263.50,181.10 263.75,181.10 264.00,181.09 264.25,181.04 264.50,180.96 264.75,180.85 265.00,180.73 265.25,180.59 265.50,180.43 265.75,180.26 266.00,180.08 266.25,179.90 266.50,179.71 266.75,179.52" fill="none" stroke="#ff50ff" stroke-width="0.85"/>
<text x="172.20" y="170.60" font-size="10.5" text-anchor="end" fill="#1a1a1a" >1.7</text>
<text x="172.20" y="208.60" font-size="10.5" text-anchor="end" fill="#1a1a1a" >1.55</text>
<text x="172.20" y="246.10" font-size="10.5" text-anchor="end" fill="#1a1a1a" >1.4</text>
<text x="177.70" y="259.30" font-size="10.5" text-anchor="middle" fill="#1a1a1a" >35.5</text>
<text x="266.20" y="259.30" font-size="10.5" text-anchor="middle" fill="#1a1a1a" >40</text>
<text x="218.80" y="267.10" font-size="10.5" text-anchor="middle" fill="#1a1a1a" >Time (s)</text>
<g transform="translate(151.5,202) rotate(-90)"><text x="0" y="0" font-size="11.2" text-anchor="middle" fill="#000">Displacement (m)</text></g>
<line x1="331.40" y1="187.43" x2="561.80" y2="187.43" stroke="#e6e6e6" stroke-width="0.8" />
<line x1="331.40" y1="214.37" x2="561.80" y2="214.37" stroke="#e6e6e6" stroke-width="0.8" />
<line x1="331.40" y1="160.50" x2="561.80" y2="160.50" stroke="#e6e6e6" stroke-width="0.8" />
<line x1="389.00" y1="160.50" x2="389.00" y2="241.30" stroke="#e6e6e6" stroke-width="0.8" />
<line x1="446.60" y1="160.50" x2="446.60" y2="241.30" stroke="#e6e6e6" stroke-width="0.8" />
<line x1="504.20" y1="160.50" x2="504.20" y2="241.30" stroke="#e6e6e6" stroke-width="0.8" />
<line x1="561.80" y1="160.50" x2="561.80" y2="241.30" stroke="#e6e6e6" stroke-width="0.8" />
<polyline points="331.40,160.50 331.40,241.30 561.80,241.30" fill="none" stroke="#c0c0c0" stroke-width="0.9"/>
<line x1="389.00" y1="241.30" x2="389.00" y2="239.30" stroke="#555" stroke-width="0.7" />
<line x1="446.60" y1="241.30" x2="446.60" y2="239.30" stroke="#555" stroke-width="0.7" />
<line x1="504.20" y1="241.30" x2="504.20" y2="239.30" stroke="#555" stroke-width="0.7" />
<line x1="561.80" y1="241.30" x2="561.80" y2="239.30" stroke="#555" stroke-width="0.7" />
<polyline points="331.70,187.30 331.85,188.34 332.05,189.78 332.29,191.48 332.57,193.30 332.91,195.09 333.30,196.70 333.76,198.17 334.30,199.61 334.89,201.02 335.51,202.39 336.12,203.72 336.70,205.00 337.26,206.23 337.81,207.41 338.36,208.56 338.90,209.65 339.45,210.70 340.00,211.70 340.51,212.61 340.97,213.43 341.44,214.21 341.95,214.98 342.55,215.79 343.30,216.70 344.20,217.74 345.22,218.90 346.34,220.10 347.52,221.28 348.75,222.37 350.00,223.30 351.29,224.07 352.64,224.74 354.04,225.31 355.47,225.82 356.89,226.27 358.30,226.70 359.70,227.06 361.10,227.33 362.50,227.54 363.90,227.75 365.30,227.99 366.70,228.30 368.03,228.69 369.29,229.13 370.54,229.61 371.87,230.09 373.33,230.56 375.00,231.00 376.93,231.43 379.06,231.88 381.33,232.32 383.67,232.72 386.02,233.05 388.30,233.30 390.57,233.45 392.89,233.53 395.21,233.54 397.48,233.50 399.66,233.42 401.70,233.30 403.56,233.17 405.29,233.01 406.91,232.81 408.49,232.54 410.07,232.18 411.70,231.70 413.37,231.10 415.03,230.41 416.70,229.62 418.37,228.74 420.03,227.77 421.70,226.70 423.39,225.52 425.10,224.21 426.81,222.81 428.49,221.34 430.13,219.83 431.70,218.30 433.20,216.67 434.65,214.90 436.06,213.09 437.41,211.32 438.73,209.70 440.00,208.30 441.21,207.16 442.36,206.20 443.46,205.38 444.53,204.66 445.61,203.98 446.70,203.30 447.80,202.63 448.90,202.01 450.00,201.44 451.10,200.92 452.20,200.44 453.30,200.00 454.37,199.62 455.40,199.29 456.44,199.01 457.52,198.76 458.69,198.52 460.00,198.30 461.53,198.10 463.27,197.94 465.11,197.79 466.91,197.65 468.58,197.49 470.00,197.30 471.10,197.12 471.97,196.96 472.71,196.79 473.39,196.56 474.13,196.21 475.00,195.70 476.00,195.04 477.05,194.26 478.14,193.37 479.29,192.37 480.47,191.25 481.70,190.00 482.99,188.56 484.35,186.92 485.75,185.16 487.17,183.37 488.60,181.62 490.00,180.00 491.40,178.48 492.83,176.99 494.25,175.54 495.65,174.16 497.01,172.87 498.30,171.70 499.51,170.64 500.65,169.67 501.75,168.79 502.83,168.00 503.90,167.30 505.00,166.70 506.06,166.20 507.05,165.80 508.04,165.49 509.10,165.27 510.30,165.11 511.70,165.00 513.37,164.97 515.26,165.04 517.29,165.18 519.37,165.36 521.40,165.54 523.30,165.70 525.12,165.88 526.94,166.11 528.71,166.35 530.40,166.56 531.94,166.69 533.30,166.70 534.42,166.60 535.34,166.42 536.11,166.16 536.82,165.84 537.52,165.45 538.30,165.00 539.13,164.42 539.97,163.69 540.80,162.89 541.63,162.12 542.47,161.46 543.30,161.00 544.13,160.70 544.97,160.49 545.80,160.39 546.63,160.43 547.47,160.62 548.30,161.00 549.13,161.59 549.97,162.38 550.80,163.33 551.63,164.40 552.47,165.53 553.30,166.70 554.15,167.89 555.03,169.13 555.90,170.44 556.75,171.84 557.56,173.36 558.30,175.00 559.00,176.96 559.68,179.26 560.31,181.67 560.88,183.96 561.35,185.92 561.70,187.30" fill="none" stroke="#ff3030" stroke-width="1.0"/>
<polyline points="331.70,187.30 331.85,188.34 332.05,189.78 332.29,191.48 332.57,193.30 332.91,195.09 333.30,196.70 333.76,198.17 334.30,199.61 334.89,201.02 335.51,202.39 336.12,203.72 336.70,205.00 337.26,206.23 337.81,207.41 338.36,208.56 338.90,209.65 339.45,210.70 340.00,211.70 340.51,212.61 340.97,213.43 341.44,214.21 341.95,214.98 342.55,215.79 343.30,216.70 344.20,217.74 345.22,218.90 346.34,220.10 347.52,221.28 348.75,222.37 350.00,223.30 351.29,224.07 352.64,224.74 354.04,225.31 355.47,225.82 356.89,226.27 358.30,226.70 359.70,227.06 361.10,227.33 362.50,227.54 363.90,227.75 365.30,227.99 366.70,228.30 368.03,228.69 369.29,229.13 370.54,229.61 371.87,230.09 373.33,230.56 375.00,231.00 376.93,231.43 379.06,231.88 381.33,232.32 383.67,232.72 386.02,233.05 388.30,233.30 390.57,233.45 392.89,233.53 395.21,233.54 397.48,233.50 399.66,233.42 401.70,233.30 403.56,233.17 405.29,233.01 406.91,232.81 408.49,232.54 410.07,232.18 411.70,231.70 413.37,231.10 415.03,230.41 416.70,229.62 418.37,228.74 420.03,227.77 421.70,226.70 423.39,225.52 425.10,224.21 426.81,222.81 428.49,221.34 430.13,219.83 431.70,218.30 433.20,216.67 434.65,214.90 436.06,213.09 437.41,211.32 438.73,209.70 440.00,208.30 441.21,207.16 442.36,206.20 443.46,205.38 444.53,204.66 445.61,203.98 446.70,203.30 447.80,202.63 448.90,202.01 450.00,201.44 451.10,200.92 452.20,200.44 453.30,200.00 454.37,199.62 455.40,199.29 456.44,199.01 457.52,198.76 458.69,198.52 460.00,198.30 461.53,198.10 463.27,197.94 465.11,197.79 466.91,197.65 468.58,197.49 470.00,197.30 471.10,197.12 471.97,196.96 472.71,196.79 473.39,196.56 474.13,196.21 475.00,195.70 476.00,195.04 477.05,194.26 478.14,193.37 479.29,192.37 480.47,191.25 481.70,190.00 482.99,188.56 484.35,186.92 485.75,185.16 487.17,183.37 488.60,181.62 490.00,180.00 491.40,178.48 492.83,176.99 494.25,175.54 495.65,174.16 497.01,172.87 498.30,171.70 499.51,170.64 500.65,169.67 501.75,168.79 502.83,168.00 503.90,167.30 505.00,166.70 506.06,166.20 507.05,165.80 508.04,165.49 509.10,165.27 510.30,165.11 511.70,165.00 513.37,164.97 515.26,165.04 517.29,165.18 519.37,165.36 521.40,165.54 523.30,165.70 525.12,165.88 526.94,166.11 528.71,166.35 530.40,166.56 531.94,166.69 533.30,166.70 534.42,166.60 535.34,166.42 536.11,166.16 536.82,165.84 537.52,165.45 538.30,165.00 539.13,164.42 539.97,163.69 540.80,162.89 541.63,162.12 542.47,161.46 543.30,161.00 544.13,160.70 544.97,160.49 545.80,160.39 546.63,160.43 547.47,160.62 548.30,161.00 549.13,161.59 549.97,162.38 550.80,163.33 551.63,164.40 552.47,165.53 553.30,166.70 554.15,167.89 555.03,169.13 555.90,170.44 556.75,171.84 557.56,173.36 558.30,175.00 559.00,176.96 559.68,179.26 560.31,181.67 560.88,183.96 561.35,185.92 561.70,187.30" fill="none" stroke="#6a3cff" stroke-width="1.0" opacity="0.85"/>
<text x="328.30" y="164.10" font-size="10.5" text-anchor="end" fill="#1a1a1a" >3</text>
<text x="328.30" y="191.03" font-size="10.5" text-anchor="end" fill="#1a1a1a" >0</text>
<text x="328.30" y="217.97" font-size="10.5" text-anchor="end" fill="#1a1a1a" >&#8722;3</text>
<text x="328.30" y="244.90" font-size="10.5" text-anchor="end" fill="#1a1a1a" >&#8722;6</text>
<text x="331.40" y="254.00" font-size="10.5" text-anchor="middle" fill="#1a1a1a" >0</text>
<text x="389.00" y="254.00" font-size="10.5" text-anchor="middle" fill="#1a1a1a" >0.5<tspan font-style="italic">&#960;</tspan></text>
<text x="446.60" y="254.00" font-size="10.5" text-anchor="middle" fill="#1a1a1a" ><tspan font-style="italic">&#960;</tspan></text>
<text x="504.20" y="254.00" font-size="10.5" text-anchor="middle" fill="#1a1a1a" >1.5<tspan font-style="italic">&#960;</tspan></text>
<text x="561.80" y="254.00" font-size="10.5" text-anchor="middle" fill="#1a1a1a" >2<tspan font-style="italic">&#960;</tspan></text>
<text x="443.50" y="265.50" font-size="10.5" text-anchor="middle" fill="#1a1a1a" ><tspan font-style="italic">&#981;</tspan> (rad)</text>
<g transform="translate(309.8,200) rotate(-90)"><text x="0" y="0" font-size="11.2" text-anchor="middle" fill="#000">Displacement (m)</text></g>
<text x="279.50" y="155.00" font-size="12" text-anchor="start" fill="#1a1a1a" >(d)</text>
<rect x="526.3" y="206.0" width="30.8" height="30.2" fill="#fff" stroke="#404040" stroke-width="0.9"/>
<line x1="530.80" y1="216.00" x2="542.80" y2="216.00" stroke="#ff2020" stroke-width="0.6" />
<text x="542.6" y="218.60" font-size="11.2" fill="#ff0000"><tspan font-style="italic">x</tspan><tspan font-size="8" dy="2.2">1</tspan></text>
<line x1="530.80" y1="227.00" x2="542.80" y2="227.00" stroke="#2020ff" stroke-width="0.6" />
<text x="542.6" y="229.60" font-size="11.2" fill="#0000ff"><tspan font-style="italic">x</tspan><tspan font-size="8" dy="2.2">2</tspan></text>
<line x1="384.80" y1="82.50" x2="384.80" y2="16.32" stroke="#dedede" stroke-width="0.7" />
<line x1="431.40" y1="80.70" x2="431.40" y2="14.52" stroke="#dedede" stroke-width="0.7" />
<line x1="478.00" y1="78.90" x2="478.00" y2="12.72" stroke="#dedede" stroke-width="0.7" />
<line x1="524.60" y1="77.10" x2="524.60" y2="10.92" stroke="#dedede" stroke-width="0.7" />
<line x1="338.20" y1="67.75" x2="524.60" y2="60.55" stroke="#dedede" stroke-width="0.7" />
<line x1="338.20" y1="51.21" x2="524.60" y2="44.01" stroke="#dedede" stroke-width="0.7" />
<line x1="338.20" y1="34.66" x2="524.60" y2="27.46" stroke="#dedede" stroke-width="0.7" />
<line x1="338.20" y1="18.12" x2="524.60" y2="10.92" stroke="#dedede" stroke-width="0.7" />
<line x1="533.88" y1="87.82" x2="533.88" y2="21.64" stroke="#dedede" stroke-width="0.7" />
<line x1="543.15" y1="98.55" x2="543.15" y2="32.37" stroke="#dedede" stroke-width="0.7" />
<line x1="552.43" y1="109.27" x2="552.43" y2="43.09" stroke="#dedede" stroke-width="0.7" />
<line x1="561.70" y1="120.00" x2="561.70" y2="53.82" stroke="#dedede" stroke-width="0.7" />
<line x1="524.60" y1="60.55" x2="561.70" y2="103.45" stroke="#dedede" stroke-width="0.7" />
<line x1="524.60" y1="44.01" x2="561.70" y2="86.91" stroke="#dedede" stroke-width="0.7" />
<line x1="524.60" y1="27.46" x2="561.70" y2="70.37" stroke="#dedede" stroke-width="0.7" />
<line x1="524.60" y1="10.92" x2="561.70" y2="53.82" stroke="#dedede" stroke-width="0.7" />
<line x1="384.80" y1="82.50" x2="421.90" y2="125.40" stroke="#dedede" stroke-width="0.7" />
<line x1="431.40" y1="80.70" x2="468.50" y2="123.60" stroke="#dedede" stroke-width="0.7" />
<line x1="478.00" y1="78.90" x2="515.10" y2="121.80" stroke="#dedede" stroke-width="0.7" />
<line x1="347.47" y1="95.02" x2="533.88" y2="87.82" stroke="#dedede" stroke-width="0.7" />
<line x1="356.75" y1="105.75" x2="543.15" y2="98.55" stroke="#dedede" stroke-width="0.7" />
<line x1="366.02" y1="116.47" x2="552.43" y2="109.27" stroke="#dedede" stroke-width="0.7" />
<line x1="338.20" y1="84.30" x2="524.60" y2="77.10" stroke="#dedede" stroke-width="0.7" />
<line x1="524.60" y1="77.10" x2="561.70" y2="120.00" stroke="#dedede" stroke-width="0.7" />
<line x1="338.20" y1="84.30" x2="338.20" y2="18.12" stroke="#707070" stroke-width="0.8" />
<line x1="338.20" y1="84.30" x2="375.30" y2="127.20" stroke="#303030" stroke-width="0.9" />
<line x1="375.30" y1="127.20" x2="561.70" y2="120.00" stroke="#303030" stroke-width="0.9" />
<line x1="338.20" y1="84.30" x2="335.80" y2="81.50" stroke="#404040" stroke-width="0.7" />
<line x1="338.20" y1="67.75" x2="335.80" y2="64.95" stroke="#404040" stroke-width="0.7" />
<line x1="338.20" y1="51.21" x2="335.80" y2="48.41" stroke="#404040" stroke-width="0.7" />
<line x1="338.20" y1="34.66" x2="335.80" y2="31.86" stroke="#404040" stroke-width="0.7" />
<line x1="338.20" y1="18.12" x2="335.80" y2="15.32" stroke="#404040" stroke-width="0.7" />
<line x1="338.20" y1="84.30" x2="334.70" y2="84.40" stroke="#404040" stroke-width="0.7" />
<line x1="347.47" y1="95.02" x2="343.97" y2="95.12" stroke="#404040" stroke-width="0.7" />
<line x1="356.75" y1="105.75" x2="353.25" y2="105.85" stroke="#404040" stroke-width="0.7" />
<line x1="366.02" y1="116.47" x2="362.52" y2="116.57" stroke="#404040" stroke-width="0.7" />
<line x1="375.30" y1="127.20" x2="371.80" y2="127.30" stroke="#404040" stroke-width="0.7" />
<line x1="375.30" y1="127.20" x2="377.30" y2="129.60" stroke="#404040" stroke-width="0.7" />
<line x1="421.90" y1="125.40" x2="423.90" y2="127.80" stroke="#404040" stroke-width="0.7" />
<line x1="468.50" y1="123.60" x2="470.50" y2="126.00" stroke="#404040" stroke-width="0.7" />
<line x1="515.10" y1="121.80" x2="517.10" y2="124.20" stroke="#404040" stroke-width="0.7" />
<line x1="561.70" y1="120.00" x2="563.70" y2="122.40" stroke="#404040" stroke-width="0.7" />
<text x="333.60" y="17.92" font-size="10.5" text-anchor="end" fill="#1a1a1a" >3</text>
<text x="333.60" y="34.46" font-size="10.5" text-anchor="end" fill="#1a1a1a" >1.5</text>
<text x="333.60" y="51.01" font-size="10.5" text-anchor="end" fill="#1a1a1a" >0</text>
<text x="333.60" y="67.55" font-size="10.5" text-anchor="end" fill="#1a1a1a" >&#8722;1.5</text>
<text x="333.60" y="84.10" font-size="10.5" text-anchor="end" fill="#1a1a1a" >&#8722;3</text>
<text x="327.20" y="91.10" font-size="10.5" text-anchor="end" fill="#1a1a1a" >2<tspan font-style="italic">&#960;</tspan></text>
<text x="337.97" y="104.52" font-size="10.5" text-anchor="end" fill="#1a1a1a" >1.5<tspan font-style="italic">&#960;</tspan></text>
<text x="345.75" y="111.75" font-size="10.5" text-anchor="end" fill="#1a1a1a" ><tspan font-style="italic">&#960;</tspan></text>
<text x="354.02" y="123.38" font-size="10.5" text-anchor="end" fill="#1a1a1a" >0.5<tspan font-style="italic">&#960;</tspan></text>
<text x="377.90" y="139.60" font-size="10.5" text-anchor="middle" fill="#1a1a1a" >0</text>
<text x="427.20" y="137.18" font-size="10.5" text-anchor="middle" fill="#1a1a1a" >0.5<tspan font-style="italic">&#960;</tspan></text>
<text x="471.40" y="134.75" font-size="10.5" text-anchor="middle" fill="#1a1a1a" ><tspan font-style="italic">&#960;</tspan></text>
<text x="517.40" y="132.32" font-size="10.5" text-anchor="middle" fill="#1a1a1a" >1.5<tspan font-style="italic">&#960;</tspan></text>
<text x="563.40" y="129.90" font-size="10.5" text-anchor="middle" fill="#1a1a1a" >2<tspan font-style="italic">&#960;</tspan></text>
<text x="425.0" y="151.2" font-size="11.3" fill="#000"><tspan font-style="italic">f</tspan><tspan font-size="7.5" dy="2">a</tspan><tspan dy="-2"> freq. (rad &#183; s</tspan><tspan font-size="7" dy="-4">&#8722;1</tspan><tspan dy="4">)</tspan></text>
<g transform="translate(320.8,118.8) rotate(48)"><text x="0" y="3.5" font-size="11.0" text-anchor="middle" fill="#000"><tspan font-style="italic">f</tspan><tspan font-size="7.5" dy="2">l</tspan><tspan dy="-2"> freq. (rad &#183; s</tspan><tspan font-size="7" dy="-4">&#8722;1</tspan><tspan dy="4">)</tspan></text></g>
<g transform="translate(307.0,44) rotate(-90)"><text x="0" y="0" font-size="11.2" text-anchor="middle" fill="#000">Displacement (m)</text></g>
<linearGradient id="lpg" gradientUnits="userSpaceOnUse" x1="360" y1="55" x2="395" y2="98"><stop offset="0" stop-color="#296a7a"/><stop offset="0.6" stop-color="#2a7282"/><stop offset="1" stop-color="#3a8a95"/></linearGradient>
<polygon points="338.20,56.70 400.00,53.30 459.00,52.00 458.00,52.50 447.00,60.00 436.00,68.00 422.00,76.00 400.00,86.00 376.00,98.50 375.50,101.00 368.00,92.40 358.50,80.20" fill="url(#lpg)"/>
<pattern id="mesh" patternUnits="userSpaceOnUse" width="3.2" height="3.2" patternTransform="rotate(30)"><rect width="3.2" height="3.2" fill="none"/><line x1="0" y1="0" x2="0" y2="3.2" stroke="#1a4a58" stroke-width="0.6" opacity="0.55"/><line x1="0" y1="1.6" x2="3.2" y2="1.6" stroke="#3a98a8" stroke-width="0.5" opacity="0.4"/></pattern>
<polygon points="338.20,56.70 400.00,53.30 459.00,52.00 458.00,52.50 447.00,60.00 436.00,68.00 422.00,76.00 400.00,86.00 376.00,98.50 375.50,101.00 368.00,92.40 358.50,80.20" fill="url(#mesh)"/>
<polygon points="376.00,101.00 400.00,95.00 430.00,89.50 455.00,79.00 481.00,67.00 524.60,49.20 559.40,86.10 480.00,91.70 430.00,93.50 397.60,96.10 376.00,102.00" fill="#2a8890"/>
<rect x="391.1" y="75.5" width="1.0" height="1.0" fill="#338a98"/>
<rect x="542.3" y="71.5" width="1.0" height="1.0" fill="#2aa0b0"/>
<rect x="524.8" y="59.5" width="1.0" height="1.0" fill="#237078"/>
<rect x="380.8" y="85.2" width="1.0" height="1.0" fill="#24606e"/>
<rect x="426.6" y="93.2" width="1.0" height="1.0" fill="#237078"/>
<rect x="454.7" y="86.5" width="1.0" height="1.0" fill="#34a8b8"/>
<rect x="373.5" y="98.6" width="1.0" height="1.0" fill="#3a90a0"/>
<rect x="531.0" y="71.5" width="1.0" height="1.0" fill="#2a7c88"/>
<rect x="368.3" y="57.2" width="1.0" height="1.0" fill="#24606e"/>
<rect x="431.9" y="91.7" width="1.0" height="1.0" fill="#2aa0b0"/>
<rect x="416.3" y="77.8" width="1.0" height="1.0" fill="#215a6a"/>
<rect x="539.6" y="83.2" width="1.0" height="1.0" fill="#34a8b8"/>
<rect x="539.7" y="76.9" width="1.0" height="1.0" fill="#237078"/>
<rect x="472.9" y="87.7" width="1.0" height="1.0" fill="#2a7c88"/>
<rect x="498.2" y="63.5" width="1.0" height="1.0" fill="#3cb8c0"/>
<rect x="382.0" y="67.8" width="1.0" height="1.0" fill="#338a98"/>
<rect x="531.5" y="62.6" width="1.0" height="1.0" fill="#237078"/>
<rect x="538.0" y="66.2" width="1.0" height="1.0" fill="#2a7c88"/>
<rect x="532.0" y="66.6" width="1.0" height="1.0" fill="#2aa0b0"/>
<rect x="398.5" y="80.5" width="1.0" height="1.0" fill="#215a6a"/>
<rect x="395.6" y="62.0" width="1.0" height="1.0" fill="#338a98"/>
<rect x="475.3" y="80.4" width="1.0" height="1.0" fill="#34a8b8"/>
<rect x="404.6" y="78.7" width="1.0" height="1.0" fill="#215a6a"/>
<rect x="419.2" y="62.5" width="1.0" height="1.0" fill="#338a98"/>
<rect x="526.2" y="59.8" width="1.0" height="1.0" fill="#2a7c88"/>
<rect x="554.6" y="83.3" width="1.0" height="1.0" fill="#237078"/>
<rect x="407.1" y="57.5" width="1.0" height="1.0" fill="#338a98"/>
<rect x="391.2" y="55.5" width="1.0" height="1.0" fill="#24606e"/>
<rect x="386.6" y="76.8" width="1.0" height="1.0" fill="#338a98"/>
<rect x="378.9" y="60.6" width="1.0" height="1.0" fill="#3a90a0"/>
<rect x="517.8" y="64.3" width="1.0" height="1.0" fill="#237078"/>
<rect x="527.5" y="71.0" width="1.0" height="1.0" fill="#2a7c88"/>
<rect x="402.8" y="76.8" width="1.0" height="1.0" fill="#3a90a0"/>
<rect x="485.8" y="74.1" width="1.0" height="1.0" fill="#3cb8c0"/>
<rect x="517.1" y="73.7" width="1.0" height="1.0" fill="#237078"/>
<rect x="404.9" y="82.1" width="1.0" height="1.0" fill="#24606e"/>
<rect x="391.4" y="60.3" width="1.0" height="1.0" fill="#215a6a"/>
<rect x="349.1" y="60.2" width="1.0" height="1.0" fill="#338a98"/>
<rect x="475.8" y="74.1" width="1.0" height="1.0" fill="#34a8b8"/>
<rect x="443.5" y="88.5" width="1.0" height="1.0" fill="#34a8b8"/>
<rect x="496.9" y="73.9" width="1.0" height="1.0" fill="#2a7c88"/>
<rect x="408.4" y="62.6" width="1.0" height="1.0" fill="#338a98"/>
<rect x="424.0" y="66.8" width="1.0" height="1.0" fill="#338a98"/>
<rect x="418.5" y="55.7" width="1.0" height="1.0" fill="#338a98"/>
<rect x="515.4" y="76.7" width="1.0" height="1.0" fill="#34a8b8"/>
<rect x="512.5" y="66.3" width="1.0" height="1.0" fill="#34a8b8"/>
<rect x="476.9" y="69.2" width="1.0" height="1.0" fill="#3cb8c0"/>
<rect x="477.9" y="87.6" width="1.0" height="1.0" fill="#3cb8c0"/>
<rect x="440.8" y="58.7" width="1.0" height="1.0" fill="#338a98"/>
<rect x="432.8" y="68.8" width="1.0" height="1.0" fill="#3a90a0"/>
<rect x="396.5" y="71.0" width="1.0" height="1.0" fill="#3a90a0"/>
<rect x="547.4" y="86.0" width="1.0" height="1.0" fill="#2aa0b0"/>
<rect x="514.7" y="82.4" width="1.0" height="1.0" fill="#3cb8c0"/>
<rect x="370.0" y="88.4" width="1.0" height="1.0" fill="#3a90a0"/>
<rect x="485.0" y="66.0" width="1.0" height="1.0" fill="#34a8b8"/>
<rect x="414.2" y="92.7" width="1.0" height="1.0" fill="#34a8b8"/>
<rect x="526.2" y="82.7" width="1.0" height="1.0" fill="#3cb8c0"/>
<rect x="467.1" y="89.7" width="1.0" height="1.0" fill="#34a8b8"/>
<rect x="482.1" y="70.4" width="1.0" height="1.0" fill="#2a7c88"/>
<rect x="394.4" y="78.6" width="1.0" height="1.0" fill="#338a98"/>
<rect x="421.7" y="58.2" width="1.0" height="1.0" fill="#24606e"/>
<rect x="374.3" y="72.9" width="1.0" height="1.0" fill="#24606e"/>
<rect x="542.4" y="74.0" width="1.0" height="1.0" fill="#2a7c88"/>
<rect x="368.4" y="87.1" width="1.0" height="1.0" fill="#215a6a"/>
<rect x="389.8" y="83.7" width="1.0" height="1.0" fill="#338a98"/>
<rect x="470.7" y="77.7" width="1.0" height="1.0" fill="#3cb8c0"/>
<rect x="536.3" y="62.2" width="1.0" height="1.0" fill="#3cb8c0"/>
<rect x="376.4" y="65.2" width="1.0" height="1.0" fill="#338a98"/>
<rect x="482.6" y="88.5" width="1.0" height="1.0" fill="#34a8b8"/>
<rect x="392.0" y="55.6" width="1.0" height="1.0" fill="#338a98"/>
<rect x="368.7" y="79.8" width="1.0" height="1.0" fill="#3a90a0"/>
<rect x="530.9" y="62.6" width="1.0" height="1.0" fill="#2a7c88"/>
<rect x="364.3" y="59.8" width="1.0" height="1.0" fill="#338a98"/>
<rect x="501.7" y="63.9" width="1.0" height="1.0" fill="#34a8b8"/>
<rect x="412.7" y="69.4" width="1.0" height="1.0" fill="#24606e"/>
<rect x="503.5" y="72.4" width="1.0" height="1.0" fill="#237078"/>
<rect x="399.3" y="82.3" width="1.0" height="1.0" fill="#3a90a0"/>
<rect x="394.0" y="74.6" width="1.0" height="1.0" fill="#338a98"/>
<rect x="489.3" y="65.6" width="1.0" height="1.0" fill="#2a7c88"/>
<rect x="403.9" y="82.8" width="1.0" height="1.0" fill="#338a98"/>
<rect x="413.5" y="76.7" width="1.0" height="1.0" fill="#3a90a0"/>
<rect x="486.7" y="73.5" width="1.0" height="1.0" fill="#34a8b8"/>
<rect x="498.1" y="83.0" width="1.0" height="1.0" fill="#2aa0b0"/>
<rect x="503.5" y="81.2" width="1.0" height="1.0" fill="#237078"/>
<rect x="377.9" y="94.8" width="1.0" height="1.0" fill="#24606e"/>
<rect x="369.5" y="63.6" width="1.0" height="1.0" fill="#24606e"/>
<rect x="461.7" y="81.3" width="1.0" height="1.0" fill="#2a7c88"/>
<rect x="445.6" y="88.8" width="1.0" height="1.0" fill="#34a8b8"/>
<rect x="461.5" y="77.2" width="1.0" height="1.0" fill="#2a7c88"/>
<rect x="418.1" y="59.9" width="1.0" height="1.0" fill="#24606e"/>
<rect x="444.7" y="60.2" width="1.0" height="1.0" fill="#338a98"/>
<rect x="438.0" y="90.3" width="1.0" height="1.0" fill="#34a8b8"/>
<rect x="416.7" y="92.4" width="1.0" height="1.0" fill="#34a8b8"/>
<rect x="371.8" y="78.0" width="1.0" height="1.0" fill="#3a90a0"/>
<rect x="363.0" y="84.1" width="1.0" height="1.0" fill="#24606e"/>
<rect x="487.4" y="66.9" width="1.0" height="1.0" fill="#237078"/>
<rect x="426.8" y="55.8" width="1.0" height="1.0" fill="#215a6a"/>
<rect x="393.8" y="88.8" width="1.0" height="1.0" fill="#3a90a0"/>
<rect x="525.8" y="69.9" width="1.0" height="1.0" fill="#2a7c88"/>
<rect x="461.2" y="77.7" width="1.0" height="1.0" fill="#2a7c88"/>
<rect x="555.9" y="83.5" width="1.0" height="1.0" fill="#3cb8c0"/>
<rect x="537.7" y="82.4" width="1.0" height="1.0" fill="#34a8b8"/>
<rect x="472.1" y="85.7" width="1.0" height="1.0" fill="#34a8b8"/>
<rect x="390.1" y="54.7" width="1.0" height="1.0" fill="#24606e"/>
<rect x="382.4" y="88.8" width="1.0" height="1.0" fill="#215a6a"/>
<rect x="482.0" y="69.9" width="1.0" height="1.0" fill="#2aa0b0"/>
<rect x="401.2" y="81.8" width="1.0" height="1.0" fill="#215a6a"/>
<rect x="368.2" y="89.4" width="1.0" height="1.0" fill="#3a90a0"/>
<rect x="411.2" y="64.3" width="1.0" height="1.0" fill="#215a6a"/>
<rect x="352.1" y="56.2" width="1.0" height="1.0" fill="#215a6a"/>
<rect x="448.9" y="84.2" width="1.0" height="1.0" fill="#2aa0b0"/>
<rect x="527.9" y="56.7" width="1.0" height="1.0" fill="#2a7c88"/>
<rect x="405.9" y="71.0" width="1.0" height="1.0" fill="#24606e"/>
<rect x="346.3" y="59.4" width="1.0" height="1.0" fill="#338a98"/>
<rect x="437.8" y="65.2" width="1.0" height="1.0" fill="#24606e"/>
<rect x="384.6" y="88.9" width="1.0" height="1.0" fill="#215a6a"/>
<rect x="528.8" y="74.9" width="1.0" height="1.0" fill="#237078"/>
<rect x="384.7" y="54.6" width="1.0" height="1.0" fill="#24606e"/>
<rect x="369.1" y="79.1" width="1.0" height="1.0" fill="#24606e"/>
<rect x="349.4" y="67.6" width="1.0" height="1.0" fill="#24606e"/>
<rect x="424.8" y="55.7" width="1.0" height="1.0" fill="#338a98"/>
<rect x="500.3" y="60.4" width="1.0" height="1.0" fill="#2a7c88"/>
<rect x="344.7" y="63.9" width="1.0" height="1.0" fill="#338a98"/>
<rect x="380.2" y="73.5" width="1.0" height="1.0" fill="#338a98"/>
<rect x="382.8" y="99.5" width="1.0" height="1.0" fill="#2a7c88"/>
<rect x="413.8" y="71.8" width="1.0" height="1.0" fill="#338a98"/>
<rect x="406.0" y="79.0" width="1.0" height="1.0" fill="#24606e"/>
<rect x="357.6" y="61.4" width="1.0" height="1.0" fill="#24606e"/>
<rect x="363.6" y="66.8" width="1.0" height="1.0" fill="#338a98"/>
<rect x="457.6" y="88.6" width="1.0" height="1.0" fill="#2a7c88"/>
<rect x="376.9" y="86.4" width="1.0" height="1.0" fill="#24606e"/>
<rect x="524.4" y="76.0" width="1.0" height="1.0" fill="#237078"/>
<rect x="418.9" y="68.2" width="1.0" height="1.0" fill="#215a6a"/>
<rect x="451.1" y="87.2" width="1.0" height="1.0" fill="#2a7c88"/>
<rect x="376.3" y="87.1" width="1.0" height="1.0" fill="#24606e"/>
<rect x="472.0" y="89.9" width="1.0" height="1.0" fill="#34a8b8"/>
<rect x="501.4" y="63.7" width="1.0" height="1.0" fill="#3cb8c0"/>
<rect x="413.5" y="62.4" width="1.0" height="1.0" fill="#24606e"/>
<rect x="372.0" y="81.1" width="1.0" height="1.0" fill="#3a90a0"/>
<rect x="363.0" y="61.1" width="1.0" height="1.0" fill="#215a6a"/>
<rect x="387.1" y="76.5" width="1.0" height="1.0" fill="#24606e"/>
<rect x="409.1" y="94.4" width="1.0" height="1.0" fill="#237078"/>
<rect x="427.0" y="91.2" width="1.0" height="1.0" fill="#2aa0b0"/>
<rect x="362.3" y="72.2" width="1.0" height="1.0" fill="#338a98"/>
<rect x="511.5" y="61.3" width="1.0" height="1.0" fill="#2aa0b0"/>
<rect x="436.9" y="66.2" width="1.0" height="1.0" fill="#3a90a0"/>
<rect x="415.2" y="72.1" width="1.0" height="1.0" fill="#3a90a0"/>
<rect x="544.0" y="83.4" width="1.0" height="1.0" fill="#3cb8c0"/>
<rect x="412.8" y="69.1" width="1.0" height="1.0" fill="#3a90a0"/>
<rect x="394.0" y="63.1" width="1.0" height="1.0" fill="#215a6a"/>
<rect x="545.7" y="75.0" width="1.0" height="1.0" fill="#2a7c88"/>
<rect x="420.0" y="55.7" width="1.0" height="1.0" fill="#24606e"/>
<rect x="446.0" y="88.3" width="1.0" height="1.0" fill="#2a7c88"/>
<rect x="443.3" y="55.9" width="1.0" height="1.0" fill="#215a6a"/>
<rect x="399.5" y="69.2" width="1.0" height="1.0" fill="#338a98"/>
<rect x="442.4" y="56.0" width="1.0" height="1.0" fill="#338a98"/>
<rect x="369.9" y="69.9" width="1.0" height="1.0" fill="#24606e"/>
<rect x="437.0" y="56.5" width="1.0" height="1.0" fill="#24606e"/>
<rect x="508.1" y="84.2" width="1.0" height="1.0" fill="#2a7c88"/>
<rect x="421.1" y="54.0" width="1.0" height="1.0" fill="#338a98"/>
<rect x="514.9" y="64.9" width="1.0" height="1.0" fill="#3cb8c0"/>
<rect x="434.4" y="63.9" width="1.0" height="1.0" fill="#3a90a0"/>
<rect x="472.6" y="90.4" width="1.0" height="1.0" fill="#2a7c88"/>
<rect x="407.5" y="58.8" width="1.0" height="1.0" fill="#24606e"/>
<rect x="431.3" y="59.6" width="1.0" height="1.0" fill="#3a90a0"/>
<rect x="507.8" y="76.6" width="1.0" height="1.0" fill="#237078"/>
<rect x="520.0" y="70.8" width="1.0" height="1.0" fill="#2aa0b0"/>
<rect x="519.5" y="78.7" width="1.0" height="1.0" fill="#2a7c88"/>
<rect x="369.1" y="91.6" width="1.0" height="1.0" fill="#3a90a0"/>
<rect x="429.0" y="64.7" width="1.0" height="1.0" fill="#24606e"/>
<rect x="400.1" y="59.3" width="1.0" height="1.0" fill="#338a98"/>
<rect x="408.2" y="74.2" width="1.0" height="1.0" fill="#24606e"/>
<rect x="446.3" y="57.9" width="1.0" height="1.0" fill="#24606e"/>
<rect x="545.7" y="79.3" width="1.0" height="1.0" fill="#34a8b8"/>
<rect x="408.6" y="78.5" width="1.0" height="1.0" fill="#3a90a0"/>
<rect x="360.8" y="82.4" width="1.0" height="1.0" fill="#338a98"/>
<rect x="437.9" y="62.4" width="1.0" height="1.0" fill="#338a98"/>
<rect x="378.4" y="66.5" width="1.0" height="1.0" fill="#24606e"/>
<rect x="408.5" y="60.2" width="1.0" height="1.0" fill="#3a90a0"/>
<rect x="425.5" y="60.8" width="1.0" height="1.0" fill="#215a6a"/>
<rect x="431.1" y="68.1" width="1.0" height="1.0" fill="#3a90a0"/>
<rect x="502.5" y="84.1" width="1.0" height="1.0" fill="#34a8b8"/>
<rect x="478.7" y="90.8" width="1.0" height="1.0" fill="#34a8b8"/>
<rect x="492.3" y="69.2" width="1.0" height="1.0" fill="#2a7c88"/>
<rect x="441.0" y="61.2" width="1.0" height="1.0" fill="#3a90a0"/>
<rect x="376.9" y="72.2" width="1.0" height="1.0" fill="#215a6a"/>
<rect x="377.7" y="100.6" width="1.0" height="1.0" fill="#2a7c88"/>
<rect x="377.3" y="55.6" width="1.0" height="1.0" fill="#215a6a"/>
<rect x="446.2" y="84.4" width="1.0" height="1.0" fill="#3cb8c0"/>
<rect x="443.4" y="86.4" width="1.0" height="1.0" fill="#2aa0b0"/>
<rect x="504.8" y="88.8" width="1.0" height="1.0" fill="#2aa0b0"/>
<rect x="406.1" y="53.4" width="1.0" height="1.0" fill="#24606e"/>
<rect x="523.8" y="56.2" width="1.0" height="1.0" fill="#2aa0b0"/>
<rect x="504.7" y="61.8" width="1.0" height="1.0" fill="#237078"/>
<rect x="367.1" y="78.8" width="1.0" height="1.0" fill="#3a90a0"/>
<rect x="455.1" y="87.9" width="1.0" height="1.0" fill="#34a8b8"/>
<rect x="410.7" y="78.1" width="1.0" height="1.0" fill="#215a6a"/>
<rect x="410.1" y="73.4" width="1.0" height="1.0" fill="#338a98"/>
<rect x="480.0" y="78.1" width="1.0" height="1.0" fill="#2aa0b0"/>
<rect x="509.9" y="85.5" width="1.0" height="1.0" fill="#3cb8c0"/>
<rect x="449.7" y="86.0" width="1.0" height="1.0" fill="#3cb8c0"/>
<rect x="434.9" y="59.9" width="1.0" height="1.0" fill="#215a6a"/>
<rect x="432.9" y="92.5" width="1.0" height="1.0" fill="#3cb8c0"/>
<rect x="419.8" y="57.0" width="1.0" height="1.0" fill="#24606e"/>
<rect x="535.1" y="69.1" width="1.0" height="1.0" fill="#2a7c88"/>
<rect x="496.6" y="65.2" width="1.0" height="1.0" fill="#3cb8c0"/>
<rect x="421.0" y="65.8" width="1.0" height="1.0" fill="#24606e"/>
<rect x="533.2" y="77.7" width="1.0" height="1.0" fill="#237078"/>
<rect x="435.0" y="56.0" width="1.0" height="1.0" fill="#3a90a0"/>
<rect x="457.2" y="86.3" width="1.0" height="1.0" fill="#237078"/>
<rect x="422.3" y="71.6" width="1.0" height="1.0" fill="#338a98"/>
<rect x="401.9" y="55.6" width="1.0" height="1.0" fill="#215a6a"/>
<rect x="379.0" y="60.4" width="1.0" height="1.0" fill="#24606e"/>
<rect x="383.4" y="80.6" width="1.0" height="1.0" fill="#338a98"/>
<rect x="556.3" y="83.7" width="1.0" height="1.0" fill="#34a8b8"/>
<rect x="504.4" y="63.0" width="1.0" height="1.0" fill="#34a8b8"/>
<rect x="485.2" y="81.1" width="1.0" height="1.0" fill="#2aa0b0"/>
<rect x="388.4" y="63.1" width="1.0" height="1.0" fill="#24606e"/>
<rect x="522.9" y="55.1" width="1.0" height="1.0" fill="#2a7c88"/>
<rect x="426.3" y="64.3" width="1.0" height="1.0" fill="#24606e"/>
<rect x="485.5" y="74.6" width="1.0" height="1.0" fill="#237078"/>
<rect x="469.1" y="77.6" width="1.0" height="1.0" fill="#3cb8c0"/>
<rect x="529.2" y="86.3" width="1.0" height="1.0" fill="#237078"/>
<rect x="529.3" y="80.3" width="1.0" height="1.0" fill="#2a7c88"/>
<rect x="426.6" y="56.9" width="1.0" height="1.0" fill="#215a6a"/>
<rect x="506.3" y="63.3" width="1.0" height="1.0" fill="#237078"/>
<rect x="423.7" y="92.7" width="1.0" height="1.0" fill="#34a8b8"/>
<rect x="390.8" y="65.5" width="1.0" height="1.0" fill="#215a6a"/>
<rect x="377.6" y="59.0" width="1.0" height="1.0" fill="#338a98"/>
<rect x="405.7" y="54.7" width="1.0" height="1.0" fill="#215a6a"/>
<rect x="392.7" y="84.2" width="1.0" height="1.0" fill="#215a6a"/>
<rect x="518.8" y="65.4" width="1.0" height="1.0" fill="#237078"/>
<rect x="377.2" y="87.1" width="1.0" height="1.0" fill="#24606e"/>
<rect x="377.5" y="61.9" width="1.0" height="1.0" fill="#338a98"/>
<rect x="529.7" y="72.4" width="1.0" height="1.0" fill="#2aa0b0"/>
<rect x="377.4" y="74.1" width="1.0" height="1.0" fill="#24606e"/>
<rect x="445.7" y="55.0" width="1.0" height="1.0" fill="#24606e"/>
<rect x="530.5" y="70.0" width="1.0" height="1.0" fill="#2a7c88"/>
<rect x="347.3" y="64.4" width="1.0" height="1.0" fill="#215a6a"/>
<rect x="477.0" y="84.3" width="1.0" height="1.0" fill="#2aa0b0"/>
<rect x="470.2" y="77.7" width="1.0" height="1.0" fill="#3cb8c0"/>
<rect x="524.4" y="86.9" width="1.0" height="1.0" fill="#3cb8c0"/>
<rect x="462.6" y="87.8" width="1.0" height="1.0" fill="#2a7c88"/>
<rect x="393.7" y="84.1" width="1.0" height="1.0" fill="#24606e"/>
<rect x="497.0" y="63.1" width="1.0" height="1.0" fill="#237078"/>
<rect x="376.5" y="67.1" width="1.0" height="1.0" fill="#215a6a"/>
<rect x="540.5" y="76.0" width="1.0" height="1.0" fill="#3cb8c0"/>
<rect x="445.5" y="56.3" width="1.0" height="1.0" fill="#215a6a"/>
<rect x="364.6" y="75.9" width="1.0" height="1.0" fill="#3a90a0"/>
<rect x="352.7" y="60.5" width="1.0" height="1.0" fill="#338a98"/>
<rect x="389.4" y="59.6" width="1.0" height="1.0" fill="#215a6a"/>
<rect x="434.8" y="59.7" width="1.0" height="1.0" fill="#215a6a"/>
<rect x="549.2" y="82.3" width="1.0" height="1.0" fill="#237078"/>
<rect x="505.4" y="57.6" width="1.0" height="1.0" fill="#2a7c88"/>
<rect x="522.8" y="52.9" width="1.0" height="1.0" fill="#34a8b8"/>
<rect x="532.1" y="86.7" width="1.0" height="1.0" fill="#2aa0b0"/>
<rect x="464.2" y="77.2" width="1.0" height="1.0" fill="#2a7c88"/>
<rect x="395.4" y="75.5" width="1.0" height="1.0" fill="#24606e"/>
<rect x="493.7" y="81.1" width="1.0" height="1.0" fill="#3cb8c0"/>
<rect x="446.1" y="86.4" width="1.0" height="1.0" fill="#237078"/>
<rect x="364.0" y="63.9" width="1.0" height="1.0" fill="#215a6a"/>
<rect x="478.3" y="74.0" width="1.0" height="1.0" fill="#2a7c88"/>
<rect x="461.3" y="82.1" width="1.0" height="1.0" fill="#2a7c88"/>
<rect x="396.7" y="84.3" width="1.0" height="1.0" fill="#3a90a0"/>
<rect x="524.0" y="65.3" width="1.0" height="1.0" fill="#34a8b8"/>
<rect x="516.9" y="66.8" width="1.0" height="1.0" fill="#2aa0b0"/>
<rect x="410.8" y="57.6" width="1.0" height="1.0" fill="#24606e"/>
<rect x="425.5" y="67.1" width="1.0" height="1.0" fill="#3a90a0"/>
<rect x="459.7" y="78.5" width="1.0" height="1.0" fill="#3cb8c0"/>
<rect x="359.5" y="67.7" width="1.0" height="1.0" fill="#338a98"/>
<rect x="387.8" y="70.4" width="1.0" height="1.0" fill="#338a98"/>
<rect x="384.6" y="77.8" width="1.0" height="1.0" fill="#338a98"/>
<rect x="516.4" y="55.0" width="1.0" height="1.0" fill="#2a7c88"/>
<rect x="544.6" y="77.6" width="1.0" height="1.0" fill="#2aa0b0"/>
<rect x="371.0" y="74.1" width="1.0" height="1.0" fill="#338a98"/>
<rect x="365.2" y="73.0" width="1.0" height="1.0" fill="#24606e"/>
<rect x="516.9" y="86.5" width="1.0" height="1.0" fill="#2a7c88"/>
<rect x="447.6" y="88.6" width="1.0" height="1.0" fill="#237078"/>
<rect x="406.9" y="76.5" width="1.0" height="1.0" fill="#24606e"/>
<rect x="456.4" y="88.1" width="1.0" height="1.0" fill="#2aa0b0"/>
<rect x="528.5" y="73.6" width="1.0" height="1.0" fill="#2a7c88"/>
<rect x="496.5" y="76.4" width="1.0" height="1.0" fill="#2a7c88"/>
<rect x="434.8" y="64.2" width="1.0" height="1.0" fill="#3a90a0"/>
<rect x="410.0" y="71.9" width="1.0" height="1.0" fill="#338a98"/>
<rect x="513.4" y="86.9" width="1.0" height="1.0" fill="#237078"/>
<rect x="444.3" y="56.4" width="1.0" height="1.0" fill="#338a98"/>
<rect x="471.8" y="82.1" width="1.0" height="1.0" fill="#2aa0b0"/>
<rect x="348.8" y="67.5" width="1.0" height="1.0" fill="#24606e"/>
<rect x="377.8" y="73.1" width="1.0" height="1.0" fill="#338a98"/>
<rect x="434.2" y="68.6" width="1.0" height="1.0" fill="#338a98"/>
<rect x="430.2" y="92.3" width="1.0" height="1.0" fill="#2aa0b0"/>
<rect x="508.9" y="71.8" width="1.0" height="1.0" fill="#2a7c88"/>
<rect x="474.6" y="71.6" width="1.0" height="1.0" fill="#34a8b8"/>
<rect x="482.1" y="85.1" width="1.0" height="1.0" fill="#34a8b8"/>
<rect x="381.3" y="94.9" width="1.0" height="1.0" fill="#3a90a0"/>
<rect x="365.2" y="78.3" width="1.0" height="1.0" fill="#338a98"/>
<rect x="373.2" y="83.7" width="1.0" height="1.0" fill="#24606e"/>
<rect x="460.6" y="78.1" width="1.0" height="1.0" fill="#3cb8c0"/>
<rect x="408.7" y="66.6" width="1.0" height="1.0" fill="#3a90a0"/>
<rect x="412.3" y="62.0" width="1.0" height="1.0" fill="#215a6a"/>
<rect x="523.8" y="56.6" width="1.0" height="1.0" fill="#2a7c88"/>
<rect x="520.0" y="58.4" width="1.0" height="1.0" fill="#237078"/>
<rect x="353.8" y="59.0" width="1.0" height="1.0" fill="#215a6a"/>
<rect x="402.8" y="64.3" width="1.0" height="1.0" fill="#215a6a"/>
<rect x="407.4" y="82.2" width="1.0" height="1.0" fill="#3a90a0"/>
<rect x="497.5" y="89.5" width="1.0" height="1.0" fill="#2aa0b0"/>
<rect x="391.1" y="86.8" width="1.0" height="1.0" fill="#3a90a0"/>
<rect x="414.7" y="54.5" width="1.0" height="1.0" fill="#338a98"/>
<rect x="536.9" y="76.1" width="1.0" height="1.0" fill="#34a8b8"/>
<rect x="446.5" y="88.6" width="1.0" height="1.0" fill="#2a7c88"/>
<rect x="420.4" y="92.8" width="1.0" height="1.0" fill="#3cb8c0"/>
<rect x="423.3" y="73.9" width="1.0" height="1.0" fill="#24606e"/>
<rect x="421.7" y="65.2" width="1.0" height="1.0" fill="#338a98"/>
<rect x="411.6" y="76.6" width="1.0" height="1.0" fill="#24606e"/>
<rect x="406.0" y="58.1" width="1.0" height="1.0" fill="#3a90a0"/>
<rect x="408.0" y="65.3" width="1.0" height="1.0" fill="#3a90a0"/>
<rect x="349.9" y="66.2" width="1.0" height="1.0" fill="#3a90a0"/>
<rect x="480.9" y="73.1" width="1.0" height="1.0" fill="#3cb8c0"/>
<rect x="503.9" y="89.6" width="1.0" height="1.0" fill="#2a7c88"/>
<rect x="400.6" y="82.1" width="1.0" height="1.0" fill="#3a90a0"/>
<rect x="536.3" y="85.5" width="1.0" height="1.0" fill="#3cb8c0"/>
<rect x="495.2" y="86.7" width="1.0" height="1.0" fill="#2aa0b0"/>
<rect x="405.7" y="63.0" width="1.0" height="1.0" fill="#3a90a0"/>
<rect x="529.8" y="84.3" width="1.0" height="1.0" fill="#34a8b8"/>
<rect x="386.4" y="77.9" width="1.0" height="1.0" fill="#215a6a"/>
<rect x="494.4" y="64.5" width="1.0" height="1.0" fill="#2aa0b0"/>
<rect x="454.4" y="82.5" width="1.0" height="1.0" fill="#237078"/>
<rect x="405.6" y="80.2" width="1.0" height="1.0" fill="#3a90a0"/>
<rect x="390.3" y="54.2" width="1.0" height="1.0" fill="#338a98"/>
<rect x="435.7" y="66.8" width="1.0" height="1.0" fill="#338a98"/>
<rect x="403.1" y="64.3" width="1.0" height="1.0" fill="#215a6a"/>
<rect x="545.0" y="85.9" width="1.0" height="1.0" fill="#2aa0b0"/>
<rect x="451.8" y="91.0" width="1.0" height="1.0" fill="#34a8b8"/>
<rect x="501.7" y="69.7" width="1.0" height="1.0" fill="#34a8b8"/>
<rect x="482.9" y="70.7" width="1.0" height="1.0" fill="#2aa0b0"/>
<rect x="457.3" y="86.7" width="1.0" height="1.0" fill="#237078"/>
<rect x="519.3" y="88.8" width="1.0" height="1.0" fill="#2a7c88"/>
<rect x="463.2" y="77.3" width="1.0" height="1.0" fill="#34a8b8"/>
<rect x="420.0" y="55.8" width="1.0" height="1.0" fill="#3a90a0"/>
<rect x="514.2" y="62.9" width="1.0" height="1.0" fill="#3cb8c0"/>
<rect x="377.8" y="70.7" width="1.0" height="1.0" fill="#24606e"/>
<rect x="444.2" y="58.5" width="1.0" height="1.0" fill="#215a6a"/>
<rect x="527.9" y="77.5" width="1.0" height="1.0" fill="#237078"/>
<rect x="459.6" y="83.0" width="1.0" height="1.0" fill="#3cb8c0"/>
<rect x="369.6" y="61.0" width="1.0" height="1.0" fill="#215a6a"/>
<rect x="415.8" y="66.1" width="1.0" height="1.0" fill="#24606e"/>
<rect x="493.8" y="79.6" width="1.0" height="1.0" fill="#3cb8c0"/>
<rect x="431.5" y="65.4" width="1.0" height="1.0" fill="#3a90a0"/>
<rect x="378.2" y="89.7" width="1.0" height="1.0" fill="#3a90a0"/>
<rect x="491.7" y="68.7" width="1.0" height="1.0" fill="#237078"/>
<rect x="347.5" y="59.9" width="1.0" height="1.0" fill="#338a98"/>
<rect x="379.0" y="95.8" width="1.0" height="1.0" fill="#338a98"/>
<rect x="534.1" y="86.4" width="1.0" height="1.0" fill="#237078"/>
<rect x="493.2" y="65.0" width="1.0" height="1.0" fill="#2aa0b0"/>
<rect x="402.2" y="53.9" width="1.0" height="1.0" fill="#338a98"/>
<rect x="482.7" y="72.2" width="1.0" height="1.0" fill="#237078"/>
<rect x="456.0" y="91.1" width="1.0" height="1.0" fill="#2a7c88"/>
<rect x="425.4" y="56.6" width="1.0" height="1.0" fill="#3a90a0"/>
<rect x="385.0" y="87.4" width="1.0" height="1.0" fill="#338a98"/>
<rect x="522.1" y="65.0" width="1.0" height="1.0" fill="#3cb8c0"/>
<rect x="525.5" y="84.1" width="1.0" height="1.0" fill="#2a7c88"/>
<rect x="481.9" y="88.3" width="1.0" height="1.0" fill="#237078"/>
<rect x="481.4" y="73.9" width="1.0" height="1.0" fill="#3cb8c0"/>
<rect x="472.2" y="89.7" width="1.0" height="1.0" fill="#237078"/>
<rect x="381.1" y="83.9" width="1.0" height="1.0" fill="#24606e"/>
<rect x="498.6" y="74.3" width="1.0" height="1.0" fill="#3cb8c0"/>
<rect x="532.2" y="59.8" width="1.0" height="1.0" fill="#237078"/>
<rect x="482.7" y="87.1" width="1.0" height="1.0" fill="#34a8b8"/>
<rect x="430.1" y="92.5" width="1.0" height="1.0" fill="#2aa0b0"/>
<rect x="407.5" y="65.0" width="1.0" height="1.0" fill="#215a6a"/>
<rect x="517.4" y="71.5" width="1.0" height="1.0" fill="#2a7c88"/>
<rect x="396.2" y="58.4" width="1.0" height="1.0" fill="#24606e"/>
<rect x="519.6" y="64.9" width="1.0" height="1.0" fill="#2aa0b0"/>
<rect x="394.4" y="88.2" width="1.0" height="1.0" fill="#3a90a0"/>
<rect x="390.4" y="75.2" width="1.0" height="1.0" fill="#338a98"/>
<rect x="467.2" y="80.1" width="1.0" height="1.0" fill="#3cb8c0"/>
<rect x="370.9" y="80.0" width="1.0" height="1.0" fill="#3a90a0"/>
<rect x="382.7" y="54.5" width="1.0" height="1.0" fill="#3a90a0"/>
<rect x="375.7" y="99.7" width="1.0" height="1.0" fill="#24606e"/>
<rect x="410.2" y="66.4" width="1.0" height="1.0" fill="#24606e"/>
<rect x="498.9" y="82.7" width="1.0" height="1.0" fill="#237078"/>
<rect x="378.8" y="55.3" width="1.0" height="1.0" fill="#338a98"/>
<rect x="354.2" y="72.2" width="1.0" height="1.0" fill="#215a6a"/>
<rect x="369.6" y="57.6" width="1.0" height="1.0" fill="#24606e"/>
<rect x="476.7" y="91.0" width="1.0" height="1.0" fill="#3cb8c0"/>
<rect x="534.2" y="80.9" width="1.0" height="1.0" fill="#237078"/>
<rect x="524.7" y="76.1" width="1.0" height="1.0" fill="#3cb8c0"/>
<rect x="493.6" y="76.2" width="1.0" height="1.0" fill="#2a7c88"/>
<rect x="390.7" y="67.7" width="1.0" height="1.0" fill="#215a6a"/>
<rect x="366.0" y="89.8" width="1.0" height="1.0" fill="#24606e"/>
<rect x="523.6" y="75.5" width="1.0" height="1.0" fill="#237078"/>
<rect x="442.9" y="84.1" width="1.0" height="1.0" fill="#3cb8c0"/>
<rect x="516.5" y="65.1" width="1.0" height="1.0" fill="#2aa0b0"/>
<rect x="400.7" y="84.8" width="1.0" height="1.0" fill="#24606e"/>
<rect x="521.4" y="85.0" width="1.0" height="1.0" fill="#2a7c88"/>
<rect x="349.2" y="64.2" width="1.0" height="1.0" fill="#338a98"/>
<rect x="383.5" y="86.4" width="1.0" height="1.0" fill="#338a98"/>
<rect x="512.5" y="61.8" width="1.0" height="1.0" fill="#2a7c88"/>
<rect x="372.6" y="59.4" width="1.0" height="1.0" fill="#215a6a"/>
<rect x="358.0" y="62.1" width="1.0" height="1.0" fill="#3a90a0"/>
<rect x="455.3" y="87.2" width="1.0" height="1.0" fill="#237078"/>
<rect x="381.5" y="74.0" width="1.0" height="1.0" fill="#24606e"/>
<rect x="519.1" y="53.0" width="1.0" height="1.0" fill="#2aa0b0"/>
<rect x="495.4" y="78.1" width="1.0" height="1.0" fill="#2a7c88"/>
<rect x="503.7" y="73.7" width="1.0" height="1.0" fill="#3cb8c0"/>
<rect x="514.2" y="62.0" width="1.0" height="1.0" fill="#2aa0b0"/>
<rect x="423.8" y="68.7" width="1.0" height="1.0" fill="#24606e"/>
<rect x="474.1" y="72.1" width="1.0" height="1.0" fill="#34a8b8"/>
<rect x="468.2" y="85.1" width="1.0" height="1.0" fill="#237078"/>
<rect x="496.5" y="61.7" width="1.0" height="1.0" fill="#2aa0b0"/>
<rect x="536.4" y="85.5" width="1.0" height="1.0" fill="#34a8b8"/>
<rect x="478.1" y="80.0" width="1.0" height="1.0" fill="#3cb8c0"/>
<rect x="526.1" y="60.6" width="1.0" height="1.0" fill="#3cb8c0"/>
<rect x="346.0" y="59.1" width="1.0" height="1.0" fill="#3a90a0"/>
<rect x="527.4" y="61.9" width="1.0" height="1.0" fill="#2aa0b0"/>
<rect x="368.5" y="67.6" width="1.0" height="1.0" fill="#215a6a"/>
<rect x="492.1" y="62.5" width="1.0" height="1.0" fill="#2aa0b0"/>
<rect x="348.4" y="57.7" width="1.0" height="1.0" fill="#3a90a0"/>
<rect x="414.0" y="71.7" width="1.0" height="1.0" fill="#215a6a"/>
<rect x="423.1" y="91.9" width="1.0" height="1.0" fill="#3cb8c0"/>
<rect x="376.2" y="98.2" width="1.0" height="1.0" fill="#338a98"/>
<rect x="421.2" y="63.6" width="1.0" height="1.0" fill="#3a90a0"/>
<rect x="405.9" y="71.0" width="1.0" height="1.0" fill="#338a98"/>
<rect x="380.7" y="91.0" width="1.0" height="1.0" fill="#215a6a"/>
<rect x="383.0" y="54.6" width="1.0" height="1.0" fill="#3a90a0"/>
<rect x="381.8" y="80.6" width="1.0" height="1.0" fill="#338a98"/>
<rect x="514.7" y="87.3" width="1.0" height="1.0" fill="#34a8b8"/>
<rect x="400.7" y="62.3" width="1.0" height="1.0" fill="#338a98"/>
<rect x="412.1" y="62.0" width="1.0" height="1.0" fill="#24606e"/>
<rect x="360.1" y="63.9" width="1.0" height="1.0" fill="#215a6a"/>
<rect x="518.8" y="71.7" width="1.0" height="1.0" fill="#34a8b8"/>
<rect x="451.9" y="82.8" width="1.0" height="1.0" fill="#3cb8c0"/>
<rect x="420.4" y="59.6" width="1.0" height="1.0" fill="#24606e"/>
<rect x="470.7" y="73.9" width="1.0" height="1.0" fill="#3cb8c0"/>
<rect x="533.4" y="68.8" width="1.0" height="1.0" fill="#34a8b8"/>
<rect x="514.3" y="58.1" width="1.0" height="1.0" fill="#2aa0b0"/>
<rect x="365.7" y="76.9" width="1.0" height="1.0" fill="#3a90a0"/>
<rect x="526.5" y="73.9" width="1.0" height="1.0" fill="#2a7c88"/>
<rect x="435.9" y="93.1" width="1.0" height="1.0" fill="#3cb8c0"/>
<rect x="384.6" y="67.4" width="1.0" height="1.0" fill="#3a90a0"/>
<rect x="433.1" y="89.2" width="1.0" height="1.0" fill="#237078"/>
<rect x="411.4" y="69.0" width="1.0" height="1.0" fill="#3a90a0"/>
<rect x="523.4" y="76.1" width="1.0" height="1.0" fill="#3cb8c0"/>
<rect x="366.2" y="57.1" width="1.0" height="1.0" fill="#3a90a0"/>
<rect x="430.9" y="69.8" width="1.0" height="1.0" fill="#24606e"/>
<rect x="391.6" y="63.3" width="1.0" height="1.0" fill="#338a98"/>
<rect x="468.5" y="76.4" width="1.0" height="1.0" fill="#2aa0b0"/>
<rect x="470.3" y="78.7" width="1.0" height="1.0" fill="#2aa0b0"/>
<rect x="480.3" y="87.5" width="1.0" height="1.0" fill="#2a7c88"/>
<rect x="441.2" y="64.2" width="1.0" height="1.0" fill="#338a98"/>
<rect x="506.7" y="64.6" width="1.0" height="1.0" fill="#34a8b8"/>
<rect x="394.0" y="74.8" width="1.0" height="1.0" fill="#338a98"/>
<rect x="507.9" y="74.6" width="1.0" height="1.0" fill="#3cb8c0"/>
<rect x="437.2" y="61.5" width="1.0" height="1.0" fill="#24606e"/>
<rect x="356.8" y="60.7" width="1.0" height="1.0" fill="#3a90a0"/>
<rect x="417.8" y="60.5" width="1.0" height="1.0" fill="#215a6a"/>
<rect x="547.7" y="81.5" width="1.0" height="1.0" fill="#237078"/>
<rect x="533.6" y="71.7" width="1.0" height="1.0" fill="#2aa0b0"/>
<rect x="522.3" y="67.2" width="1.0" height="1.0" fill="#2aa0b0"/>
<rect x="422.0" y="65.6" width="1.0" height="1.0" fill="#3a90a0"/>
<rect x="524.5" y="68.7" width="1.0" height="1.0" fill="#34a8b8"/>
<rect x="378.9" y="58.9" width="1.0" height="1.0" fill="#338a98"/>
<rect x="415.9" y="55.8" width="1.0" height="1.0" fill="#338a98"/>
<rect x="450.0" y="87.9" width="1.0" height="1.0" fill="#3cb8c0"/>
<rect x="416.3" y="63.1" width="1.0" height="1.0" fill="#215a6a"/>
<rect x="438.6" y="62.7" width="1.0" height="1.0" fill="#338a98"/>
<rect x="523.1" y="69.2" width="1.0" height="1.0" fill="#34a8b8"/>
<rect x="367.3" y="84.0" width="1.0" height="1.0" fill="#338a98"/>
<rect x="521.9" y="54.8" width="1.0" height="1.0" fill="#237078"/>
<rect x="461.9" y="82.9" width="1.0" height="1.0" fill="#2a7c88"/>
<rect x="405.9" y="56.6" width="1.0" height="1.0" fill="#338a98"/>
<rect x="491.2" y="75.0" width="1.0" height="1.0" fill="#237078"/>
<rect x="421.5" y="65.3" width="1.0" height="1.0" fill="#338a98"/>
<rect x="539.5" y="80.0" width="1.0" height="1.0" fill="#3cb8c0"/>
<rect x="501.5" y="68.5" width="1.0" height="1.0" fill="#3cb8c0"/>
<rect x="502.7" y="79.0" width="1.0" height="1.0" fill="#2a7c88"/>
<rect x="373.5" y="95.9" width="1.0" height="1.0" fill="#3a90a0"/>
<rect x="421.4" y="74.7" width="1.0" height="1.0" fill="#338a98"/>
<rect x="529.7" y="56.4" width="1.0" height="1.0" fill="#2aa0b0"/>
<rect x="505.1" y="66.1" width="1.0" height="1.0" fill="#2aa0b0"/>
<rect x="517.0" y="67.3" width="1.0" height="1.0" fill="#3cb8c0"/>
<rect x="511.3" y="56.3" width="1.0" height="1.0" fill="#2a7c88"/>
<rect x="365.8" y="81.5" width="1.0" height="1.0" fill="#24606e"/>
<rect x="358.2" y="59.5" width="1.0" height="1.0" fill="#215a6a"/>
<rect x="520.8" y="84.8" width="1.0" height="1.0" fill="#2a7c88"/>
<rect x="542.0" y="69.0" width="1.0" height="1.0" fill="#34a8b8"/>
<rect x="473.3" y="80.2" width="1.0" height="1.0" fill="#3cb8c0"/>
<rect x="399.4" y="58.9" width="1.0" height="1.0" fill="#3a90a0"/>
<rect x="533.6" y="71.6" width="1.0" height="1.0" fill="#2aa0b0"/>
<rect x="478.9" y="81.8" width="1.0" height="1.0" fill="#34a8b8"/>
<rect x="407.1" y="63.0" width="1.0" height="1.0" fill="#338a98"/>
<rect x="405.3" y="60.5" width="1.0" height="1.0" fill="#215a6a"/>
<rect x="525.6" y="74.6" width="1.0" height="1.0" fill="#34a8b8"/>
<rect x="372.6" y="64.9" width="1.0" height="1.0" fill="#215a6a"/>
<rect x="526.0" y="80.8" width="1.0" height="1.0" fill="#237078"/>
<rect x="547.8" y="74.7" width="1.0" height="1.0" fill="#34a8b8"/>
<rect x="455.4" y="86.0" width="1.0" height="1.0" fill="#2aa0b0"/>
<rect x="363.8" y="78.5" width="1.0" height="1.0" fill="#215a6a"/>
<rect x="382.0" y="57.2" width="1.0" height="1.0" fill="#24606e"/>
<rect x="499.6" y="87.1" width="1.0" height="1.0" fill="#34a8b8"/>
<rect x="511.9" y="64.1" width="1.0" height="1.0" fill="#34a8b8"/>
<rect x="384.5" y="86.0" width="1.0" height="1.0" fill="#215a6a"/>
<rect x="397.8" y="63.1" width="1.0" height="1.0" fill="#338a98"/>
<rect x="415.8" y="92.9" width="1.0" height="1.0" fill="#2a7c88"/>
<rect x="421.7" y="59.4" width="1.0" height="1.0" fill="#24606e"/>
<rect x="509.6" y="60.2" width="1.0" height="1.0" fill="#237078"/>
<rect x="444.6" y="89.8" width="1.0" height="1.0" fill="#2a7c88"/>
<rect x="459.2" y="88.8" width="1.0" height="1.0" fill="#2aa0b0"/>
<rect x="524.1" y="61.2" width="1.0" height="1.0" fill="#2a7c88"/>
<rect x="550.6" y="77.2" width="1.0" height="1.0" fill="#34a8b8"/>
<rect x="477.6" y="70.0" width="1.0" height="1.0" fill="#2aa0b0"/>
<rect x="371.8" y="74.4" width="1.0" height="1.0" fill="#338a98"/>
<rect x="396.9" y="73.1" width="1.0" height="1.0" fill="#3a90a0"/>
<rect x="524.2" y="79.0" width="1.0" height="1.0" fill="#2a7c88"/>
<rect x="501.1" y="63.2" width="1.0" height="1.0" fill="#2a7c88"/>
<rect x="491.5" y="89.7" width="1.0" height="1.0" fill="#2aa0b0"/>
<rect x="520.3" y="79.4" width="1.0" height="1.0" fill="#2aa0b0"/>
<rect x="413.0" y="71.4" width="1.0" height="1.0" fill="#3a90a0"/>
<rect x="514.3" y="71.3" width="1.0" height="1.0" fill="#2aa0b0"/>
<rect x="346.8" y="57.1" width="1.0" height="1.0" fill="#24606e"/>
<rect x="360.7" y="66.6" width="1.0" height="1.0" fill="#3a90a0"/>
<rect x="399.0" y="57.6" width="1.0" height="1.0" fill="#338a98"/>
<rect x="488.1" y="70.5" width="1.0" height="1.0" fill="#3cb8c0"/>
<rect x="419.9" y="67.8" width="1.0" height="1.0" fill="#24606e"/>
<rect x="378.2" y="94.9" width="1.0" height="1.0" fill="#338a98"/>
<rect x="469.3" y="79.5" width="1.0" height="1.0" fill="#34a8b8"/>
<rect x="456.6" y="80.1" width="1.0" height="1.0" fill="#3cb8c0"/>
<rect x="475.2" y="91.6" width="1.0" height="1.0" fill="#34a8b8"/>
<rect x="471.1" y="72.3" width="1.0" height="1.0" fill="#2aa0b0"/>
<rect x="383.0" y="73.5" width="1.0" height="1.0" fill="#24606e"/>
<rect x="505.0" y="59.5" width="1.0" height="1.0" fill="#34a8b8"/>
<rect x="541.4" y="76.8" width="1.0" height="1.0" fill="#3cb8c0"/>
<rect x="354.6" y="60.8" width="1.0" height="1.0" fill="#215a6a"/>
<rect x="474.9" y="76.8" width="1.0" height="1.0" fill="#3cb8c0"/>
<rect x="459.1" y="89.1" width="1.0" height="1.0" fill="#3cb8c0"/>
<rect x="487.0" y="67.3" width="1.0" height="1.0" fill="#34a8b8"/>
<rect x="377.0" y="80.1" width="1.0" height="1.0" fill="#215a6a"/>
<rect x="346.8" y="56.3" width="1.0" height="1.0" fill="#24606e"/>
<rect x="470.9" y="78.1" width="1.0" height="1.0" fill="#2aa0b0"/>
<rect x="392.5" y="82.4" width="1.0" height="1.0" fill="#24606e"/>
<rect x="408.1" y="75.9" width="1.0" height="1.0" fill="#215a6a"/>
<rect x="540.9" y="71.4" width="1.0" height="1.0" fill="#2aa0b0"/>
<rect x="383.1" y="77.8" width="1.0" height="1.0" fill="#215a6a"/>
<rect x="389.0" y="60.5" width="1.0" height="1.0" fill="#338a98"/>
<rect x="382.2" y="83.9" width="1.0" height="1.0" fill="#338a98"/>
<rect x="537.3" y="68.6" width="1.0" height="1.0" fill="#2aa0b0"/>
<rect x="490.3" y="86.0" width="1.0" height="1.0" fill="#2a7c88"/>
<rect x="427.0" y="55.8" width="1.0" height="1.0" fill="#215a6a"/>
<rect x="363.5" y="83.7" width="1.0" height="1.0" fill="#215a6a"/>
<rect x="369.5" y="79.2" width="1.0" height="1.0" fill="#215a6a"/>
<rect x="527.8" y="85.5" width="1.0" height="1.0" fill="#3cb8c0"/>
<rect x="406.3" y="64.2" width="1.0" height="1.0" fill="#24606e"/>
<rect x="464.0" y="82.1" width="1.0" height="1.0" fill="#3cb8c0"/>
<rect x="538.0" y="87.4" width="1.0" height="1.0" fill="#2a7c88"/>
<rect x="375.7" y="96.6" width="1.0" height="1.0" fill="#3a90a0"/>
<rect x="507.6" y="62.2" width="1.0" height="1.0" fill="#237078"/>
<rect x="517.9" y="65.1" width="1.0" height="1.0" fill="#3cb8c0"/>
<rect x="534.9" y="87.8" width="1.0" height="1.0" fill="#2aa0b0"/>
<rect x="381.2" y="95.5" width="1.0" height="1.0" fill="#338a98"/>
<rect x="536.2" y="74.8" width="1.0" height="1.0" fill="#2a7c88"/>
<rect x="460.3" y="89.3" width="1.0" height="1.0" fill="#2aa0b0"/>
<rect x="545.9" y="75.1" width="1.0" height="1.0" fill="#2aa0b0"/>
<rect x="523.5" y="83.9" width="1.0" height="1.0" fill="#3cb8c0"/>
<rect x="395.8" y="60.9" width="1.0" height="1.0" fill="#338a98"/>
<rect x="393.7" y="73.5" width="1.0" height="1.0" fill="#3a90a0"/>
<rect x="491.6" y="70.8" width="1.0" height="1.0" fill="#2a7c88"/>
<rect x="398.5" y="83.7" width="1.0" height="1.0" fill="#215a6a"/>
<rect x="435.9" y="54.9" width="1.0" height="1.0" fill="#215a6a"/>
<rect x="383.2" y="77.8" width="1.0" height="1.0" fill="#215a6a"/>
<rect x="549.7" y="85.4" width="1.0" height="1.0" fill="#34a8b8"/>
<rect x="371.9" y="58.0" width="1.0" height="1.0" fill="#24606e"/>
<rect x="493.0" y="65.9" width="1.0" height="1.0" fill="#3cb8c0"/>
<rect x="485.2" y="67.7" width="1.0" height="1.0" fill="#34a8b8"/>
<rect x="513.7" y="83.7" width="1.0" height="1.0" fill="#34a8b8"/>
<rect x="379.7" y="59.2" width="1.0" height="1.0" fill="#215a6a"/>
<rect x="516.4" y="83.4" width="1.0" height="1.0" fill="#2aa0b0"/>
<rect x="534.0" y="84.0" width="1.0" height="1.0" fill="#34a8b8"/>
<rect x="433.3" y="67.1" width="1.0" height="1.0" fill="#24606e"/>
<rect x="405.4" y="82.8" width="1.0" height="1.0" fill="#338a98"/>
<rect x="375.4" y="71.4" width="1.0" height="1.0" fill="#338a98"/>
<rect x="419.4" y="69.0" width="1.0" height="1.0" fill="#3a90a0"/>
<rect x="352.0" y="66.0" width="1.0" height="1.0" fill="#24606e"/>
<rect x="371.4" y="75.1" width="1.0" height="1.0" fill="#215a6a"/>
<rect x="381.5" y="87.8" width="1.0" height="1.0" fill="#215a6a"/>
<rect x="528.3" y="82.9" width="1.0" height="1.0" fill="#237078"/>
<rect x="487.1" y="75.4" width="1.0" height="1.0" fill="#34a8b8"/>
<rect x="535.2" y="73.2" width="1.0" height="1.0" fill="#2aa0b0"/>
<rect x="390.3" y="54.7" width="1.0" height="1.0" fill="#338a98"/>
<rect x="451.6" y="90.5" width="1.0" height="1.0" fill="#2aa0b0"/>
<rect x="406.8" y="68.5" width="1.0" height="1.0" fill="#338a98"/>
<rect x="497.8" y="85.1" width="1.0" height="1.0" fill="#3cb8c0"/>
<rect x="364.0" y="57.3" width="1.0" height="1.0" fill="#24606e"/>
<rect x="524.2" y="54.8" width="1.0" height="1.0" fill="#237078"/>
<rect x="430.2" y="65.0" width="1.0" height="1.0" fill="#215a6a"/>
<rect x="355.5" y="67.4" width="1.0" height="1.0" fill="#3a90a0"/>
<rect x="417.5" y="77.1" width="1.0" height="1.0" fill="#215a6a"/>
<rect x="521.6" y="85.1" width="1.0" height="1.0" fill="#237078"/>
<rect x="363.1" y="67.0" width="1.0" height="1.0" fill="#338a98"/>
<rect x="419.5" y="70.1" width="1.0" height="1.0" fill="#3a90a0"/>
<rect x="404.9" y="75.0" width="1.0" height="1.0" fill="#338a98"/>
<rect x="397.5" y="64.2" width="1.0" height="1.0" fill="#24606e"/>
<rect x="359.1" y="64.3" width="1.0" height="1.0" fill="#338a98"/>
<rect x="409.0" y="70.5" width="1.0" height="1.0" fill="#3a90a0"/>
<rect x="480.8" y="76.8" width="1.0" height="1.0" fill="#237078"/>
<rect x="395.1" y="75.5" width="1.0" height="1.0" fill="#3a90a0"/>
<rect x="378.5" y="81.1" width="1.0" height="1.0" fill="#215a6a"/>
<rect x="526.2" y="63.0" width="1.0" height="1.0" fill="#2a7c88"/>
<rect x="437.6" y="93.1" width="1.0" height="1.0" fill="#3cb8c0"/>
<rect x="442.8" y="55.4" width="1.0" height="1.0" fill="#338a98"/>
<rect x="464.6" y="83.8" width="1.0" height="1.0" fill="#3cb8c0"/>
<rect x="440.9" y="52.6" width="1.0" height="1.0" fill="#24606e"/>
<rect x="383.0" y="56.8" width="1.0" height="1.0" fill="#24606e"/>
<rect x="463.1" y="90.9" width="1.0" height="1.0" fill="#3cb8c0"/>
<rect x="494.2" y="78.6" width="1.0" height="1.0" fill="#3cb8c0"/>
<rect x="401.6" y="66.0" width="1.0" height="1.0" fill="#215a6a"/>
<rect x="524.9" y="54.4" width="1.0" height="1.0" fill="#2aa0b0"/>
<rect x="399.7" y="82.3" width="1.0" height="1.0" fill="#215a6a"/>
<rect x="442.6" y="62.4" width="1.0" height="1.0" fill="#3a90a0"/>
<rect x="426.2" y="69.5" width="1.0" height="1.0" fill="#215a6a"/>
<rect x="419.7" y="55.3" width="1.0" height="1.0" fill="#24606e"/>
<rect x="382.0" y="58.3" width="1.0" height="1.0" fill="#24606e"/>
<rect x="509.1" y="58.7" width="1.0" height="1.0" fill="#2aa0b0"/>
<rect x="506.6" y="73.7" width="1.0" height="1.0" fill="#237078"/>
<rect x="474.7" y="85.3" width="1.0" height="1.0" fill="#2a7c88"/>
<rect x="516.8" y="73.1" width="1.0" height="1.0" fill="#34a8b8"/>
<rect x="433.1" y="88.3" width="1.0" height="1.0" fill="#237078"/>
<rect x="518.2" y="60.3" width="1.0" height="1.0" fill="#2a7c88"/>
<rect x="355.4" y="71.5" width="1.0" height="1.0" fill="#3a90a0"/>
<rect x="523.2" y="82.7" width="1.0" height="1.0" fill="#34a8b8"/>
<rect x="384.5" y="68.5" width="1.0" height="1.0" fill="#338a98"/>
<rect x="410.0" y="71.4" width="1.0" height="1.0" fill="#215a6a"/>
<rect x="510.9" y="56.7" width="1.0" height="1.0" fill="#237078"/>
<rect x="557.8" y="84.7" width="1.0" height="1.0" fill="#3cb8c0"/>
<rect x="484.8" y="91.3" width="1.0" height="1.0" fill="#237078"/>
<rect x="504.6" y="73.4" width="1.0" height="1.0" fill="#34a8b8"/>
<rect x="534.7" y="66.5" width="1.0" height="1.0" fill="#2a7c88"/>
<rect x="403.7" y="53.7" width="1.0" height="1.0" fill="#3a90a0"/>
<rect x="530.8" y="68.0" width="1.0" height="1.0" fill="#2a7c88"/>
<rect x="346.4" y="60.9" width="1.0" height="1.0" fill="#24606e"/>
<rect x="377.2" y="65.4" width="1.0" height="1.0" fill="#338a98"/>
<rect x="372.9" y="75.6" width="1.0" height="1.0" fill="#338a98"/>
<rect x="502.6" y="73.6" width="1.0" height="1.0" fill="#237078"/>
<rect x="413.0" y="76.9" width="1.0" height="1.0" fill="#3a90a0"/>
<rect x="385.7" y="61.3" width="1.0" height="1.0" fill="#215a6a"/>
<rect x="439.1" y="54.5" width="1.0" height="1.0" fill="#338a98"/>
<rect x="348.5" y="67.8" width="1.0" height="1.0" fill="#24606e"/>
<rect x="524.2" y="64.5" width="1.0" height="1.0" fill="#2a7c88"/>
<rect x="557.4" y="85.4" width="1.0" height="1.0" fill="#3cb8c0"/>
<rect x="367.7" y="69.4" width="1.0" height="1.0" fill="#215a6a"/>
<rect x="352.5" y="63.6" width="1.0" height="1.0" fill="#3a90a0"/>
<rect x="526.7" y="59.4" width="1.0" height="1.0" fill="#2a7c88"/>
<rect x="389.3" y="77.2" width="1.0" height="1.0" fill="#338a98"/>
<rect x="365.2" y="60.6" width="1.0" height="1.0" fill="#3a90a0"/>
<rect x="445.3" y="88.3" width="1.0" height="1.0" fill="#2a7c88"/>
<rect x="495.3" y="73.9" width="1.0" height="1.0" fill="#3cb8c0"/>
<rect x="443.6" y="89.5" width="1.0" height="1.0" fill="#34a8b8"/>
<rect x="403.5" y="67.4" width="1.0" height="1.0" fill="#338a98"/>
<rect x="421.4" y="64.6" width="1.0" height="1.0" fill="#24606e"/>
<rect x="355.0" y="59.6" width="1.0" height="1.0" fill="#338a98"/>
<rect x="490.8" y="71.1" width="1.0" height="1.0" fill="#3cb8c0"/>
<rect x="524.7" y="70.3" width="1.0" height="1.0" fill="#2a7c88"/>
<rect x="388.2" y="82.0" width="1.0" height="1.0" fill="#24606e"/>
<rect x="379.1" y="88.2" width="1.0" height="1.0" fill="#215a6a"/>
<rect x="518.2" y="74.8" width="1.0" height="1.0" fill="#237078"/>
<rect x="400.6" y="74.1" width="1.0" height="1.0" fill="#24606e"/>
<rect x="369.4" y="87.4" width="1.0" height="1.0" fill="#338a98"/>
<rect x="390.6" y="55.5" width="1.0" height="1.0" fill="#338a98"/>
<rect x="524.0" y="84.0" width="1.0" height="1.0" fill="#2a7c88"/>
<rect x="515.9" y="66.9" width="1.0" height="1.0" fill="#2a7c88"/>
<rect x="505.7" y="78.1" width="1.0" height="1.0" fill="#3cb8c0"/>
<rect x="387.3" y="65.8" width="1.0" height="1.0" fill="#215a6a"/>
<rect x="410.0" y="64.1" width="1.0" height="1.0" fill="#215a6a"/>
<rect x="386.9" y="88.5" width="1.0" height="1.0" fill="#3a90a0"/>
<rect x="408.9" y="66.0" width="1.0" height="1.0" fill="#338a98"/>
<rect x="366.8" y="65.4" width="1.0" height="1.0" fill="#3a90a0"/>
<rect x="496.8" y="79.0" width="1.0" height="1.0" fill="#237078"/>
<rect x="394.8" y="74.1" width="1.0" height="1.0" fill="#24606e"/>
<rect x="386.2" y="77.6" width="1.0" height="1.0" fill="#3a90a0"/>
<rect x="461.9" y="88.7" width="1.0" height="1.0" fill="#237078"/>
<rect x="419.8" y="71.5" width="1.0" height="1.0" fill="#338a98"/>
<rect x="382.6" y="65.3" width="1.0" height="1.0" fill="#3a90a0"/>
<rect x="388.2" y="88.0" width="1.0" height="1.0" fill="#215a6a"/>
<rect x="406.1" y="66.7" width="1.0" height="1.0" fill="#24606e"/>
<rect x="493.9" y="83.1" width="1.0" height="1.0" fill="#2aa0b0"/>
<rect x="415.6" y="61.1" width="1.0" height="1.0" fill="#215a6a"/>
<rect x="413.5" y="58.4" width="1.0" height="1.0" fill="#3a90a0"/>
<rect x="422.7" y="74.7" width="1.0" height="1.0" fill="#3a90a0"/>
<rect x="517.6" y="78.3" width="1.0" height="1.0" fill="#3cb8c0"/>
<rect x="439.4" y="89.4" width="1.0" height="1.0" fill="#34a8b8"/>
<rect x="366.0" y="88.4" width="1.0" height="1.0" fill="#338a98"/>
<rect x="382.8" y="71.5" width="1.0" height="1.0" fill="#24606e"/>
<rect x="518.8" y="85.4" width="1.0" height="1.0" fill="#2a7c88"/>
<rect x="370.4" y="83.6" width="1.0" height="1.0" fill="#24606e"/>
<rect x="500.4" y="59.5" width="1.0" height="1.0" fill="#2aa0b0"/>
<rect x="410.3" y="66.6" width="1.0" height="1.0" fill="#24606e"/>
<rect x="526.9" y="68.9" width="1.0" height="1.0" fill="#2a7c88"/>
<rect x="379.9" y="93.6" width="1.0" height="1.0" fill="#3a90a0"/>
<rect x="435.3" y="52.8" width="1.0" height="1.0" fill="#24606e"/>
<rect x="441.5" y="86.8" width="1.0" height="1.0" fill="#2a7c88"/>
<rect x="502.5" y="61.6" width="1.0" height="1.0" fill="#3cb8c0"/>
<rect x="375.8" y="64.2" width="1.0" height="1.0" fill="#3a90a0"/>
<rect x="459.5" y="82.8" width="1.0" height="1.0" fill="#237078"/>
<rect x="505.9" y="83.0" width="1.0" height="1.0" fill="#2aa0b0"/>
<rect x="530.9" y="61.7" width="1.0" height="1.0" fill="#2aa0b0"/>
<rect x="483.2" y="84.1" width="1.0" height="1.0" fill="#237078"/>
<rect x="422.3" y="62.4" width="1.0" height="1.0" fill="#215a6a"/>
<rect x="355.8" y="69.8" width="1.0" height="1.0" fill="#215a6a"/>
<rect x="364.1" y="63.5" width="1.0" height="1.0" fill="#215a6a"/>
<rect x="409.3" y="68.1" width="1.0" height="1.0" fill="#24606e"/>
<rect x="351.8" y="63.5" width="1.0" height="1.0" fill="#215a6a"/>
<rect x="525.1" y="67.2" width="1.0" height="1.0" fill="#34a8b8"/>
<rect x="482.7" y="81.2" width="1.0" height="1.0" fill="#2a7c88"/>
<rect x="412.6" y="57.8" width="1.0" height="1.0" fill="#338a98"/>
<rect x="538.9" y="79.8" width="1.0" height="1.0" fill="#2aa0b0"/>
<rect x="466.3" y="84.6" width="1.0" height="1.0" fill="#237078"/>
<rect x="499.9" y="68.9" width="1.0" height="1.0" fill="#34a8b8"/>
<rect x="368.2" y="63.8" width="1.0" height="1.0" fill="#215a6a"/>
<rect x="545.8" y="75.7" width="1.0" height="1.0" fill="#3cb8c0"/>
<rect x="510.2" y="60.7" width="1.0" height="1.0" fill="#2aa0b0"/>
<rect x="401.5" y="84.0" width="1.0" height="1.0" fill="#3a90a0"/>
<rect x="381.5" y="55.1" width="1.0" height="1.0" fill="#338a98"/>
<rect x="403.3" y="80.6" width="1.0" height="1.0" fill="#215a6a"/>
<rect x="494.9" y="69.3" width="1.0" height="1.0" fill="#2aa0b0"/>
<rect x="473.9" y="73.0" width="1.0" height="1.0" fill="#3cb8c0"/>
<rect x="513.7" y="63.0" width="1.0" height="1.0" fill="#237078"/>
<rect x="418.4" y="93.4" width="1.0" height="1.0" fill="#2aa0b0"/>
<rect x="349.1" y="57.6" width="1.0" height="1.0" fill="#215a6a"/>
<rect x="359.3" y="57.9" width="1.0" height="1.0" fill="#338a98"/>
<rect x="403.4" y="57.8" width="1.0" height="1.0" fill="#215a6a"/>
<rect x="463.7" y="82.2" width="1.0" height="1.0" fill="#34a8b8"/>
<rect x="458.1" y="86.7" width="1.0" height="1.0" fill="#2a7c88"/>
<rect x="512.2" y="69.3" width="1.0" height="1.0" fill="#237078"/>
<rect x="531.8" y="74.6" width="1.0" height="1.0" fill="#2aa0b0"/>
<rect x="394.8" y="85.2" width="1.0" height="1.0" fill="#215a6a"/>
<rect x="449.0" y="83.5" width="1.0" height="1.0" fill="#34a8b8"/>
<rect x="519.1" y="63.8" width="1.0" height="1.0" fill="#2aa0b0"/>
<rect x="392.2" y="72.1" width="1.0" height="1.0" fill="#24606e"/>
<rect x="394.9" y="64.3" width="1.0" height="1.0" fill="#24606e"/>
<rect x="377.9" y="70.8" width="1.0" height="1.0" fill="#24606e"/>
<rect x="403.2" y="59.9" width="1.0" height="1.0" fill="#3a90a0"/>
<rect x="526.3" y="67.3" width="1.0" height="1.0" fill="#237078"/>
<rect x="468.3" y="79.6" width="1.0" height="1.0" fill="#2a7c88"/>
<rect x="446.1" y="91.4" width="1.0" height="1.0" fill="#237078"/>
<rect x="448.4" y="57.3" width="1.0" height="1.0" fill="#24606e"/>
<rect x="382.1" y="57.8" width="1.0" height="1.0" fill="#215a6a"/>
<rect x="479.9" y="72.8" width="1.0" height="1.0" fill="#2aa0b0"/>
<rect x="470.4" y="77.5" width="1.0" height="1.0" fill="#2aa0b0"/>
<rect x="496.2" y="82.7" width="1.0" height="1.0" fill="#3cb8c0"/>
<rect x="439.6" y="91.4" width="1.0" height="1.0" fill="#237078"/>
<rect x="411.4" y="59.6" width="1.0" height="1.0" fill="#3a90a0"/>
<rect x="388.9" y="62.7" width="1.0" height="1.0" fill="#3a90a0"/>
<rect x="420.0" y="76.8" width="1.0" height="1.0" fill="#3a90a0"/>
<rect x="556.5" y="83.8" width="1.0" height="1.0" fill="#237078"/>
<rect x="395.0" y="55.7" width="1.0" height="1.0" fill="#215a6a"/>
<rect x="374.9" y="69.4" width="1.0" height="1.0" fill="#338a98"/>
<rect x="351.7" y="66.4" width="1.0" height="1.0" fill="#24606e"/>
<rect x="417.3" y="54.0" width="1.0" height="1.0" fill="#24606e"/>
<rect x="538.1" y="67.2" width="1.0" height="1.0" fill="#2a7c88"/>
<rect x="384.5" y="59.5" width="1.0" height="1.0" fill="#3a90a0"/>
<rect x="531.6" y="76.1" width="1.0" height="1.0" fill="#3cb8c0"/>
<rect x="505.7" y="87.4" width="1.0" height="1.0" fill="#34a8b8"/>
<rect x="527.7" y="80.2" width="1.0" height="1.0" fill="#2a7c88"/>
<rect x="487.7" y="66.6" width="1.0" height="1.0" fill="#34a8b8"/>
<rect x="517.5" y="71.7" width="1.0" height="1.0" fill="#3cb8c0"/>
<rect x="428.0" y="65.0" width="1.0" height="1.0" fill="#24606e"/>
<rect x="457.1" y="90.6" width="1.0" height="1.0" fill="#2a7c88"/>
<rect x="515.8" y="61.7" width="1.0" height="1.0" fill="#34a8b8"/>
<rect x="373.6" y="69.2" width="1.0" height="1.0" fill="#24606e"/>
<rect x="374.8" y="72.2" width="1.0" height="1.0" fill="#338a98"/>
<rect x="527.2" y="54.4" width="1.0" height="1.0" fill="#2aa0b0"/>
<rect x="465.8" y="88.5" width="1.0" height="1.0" fill="#2a7c88"/>
<rect x="366.9" y="78.6" width="1.0" height="1.0" fill="#215a6a"/>
<rect x="397.0" y="82.0" width="1.0" height="1.0" fill="#338a98"/>
<rect x="412.7" y="79.2" width="1.0" height="1.0" fill="#338a98"/>
<rect x="358.6" y="59.3" width="1.0" height="1.0" fill="#215a6a"/>
<rect x="467.2" y="80.7" width="1.0" height="1.0" fill="#237078"/>
<rect x="512.6" y="85.8" width="1.0" height="1.0" fill="#237078"/>
<rect x="409.2" y="80.5" width="1.0" height="1.0" fill="#24606e"/>
<rect x="511.6" y="85.0" width="1.0" height="1.0" fill="#2aa0b0"/>
<rect x="414.4" y="53.5" width="1.0" height="1.0" fill="#215a6a"/>
<rect x="422.8" y="93.4" width="1.0" height="1.0" fill="#2a7c88"/>
<rect x="484.4" y="81.3" width="1.0" height="1.0" fill="#237078"/>
<rect x="387.9" y="74.0" width="1.0" height="1.0" fill="#338a98"/>
<rect x="495.3" y="89.0" width="1.0" height="1.0" fill="#34a8b8"/>
<rect x="403.8" y="58.5" width="1.0" height="1.0" fill="#215a6a"/>
<rect x="506.1" y="74.9" width="1.0" height="1.0" fill="#237078"/>
<rect x="515.2" y="67.0" width="1.0" height="1.0" fill="#2aa0b0"/>
<rect x="418.8" y="59.5" width="1.0" height="1.0" fill="#215a6a"/>
<rect x="482.8" y="82.2" width="1.0" height="1.0" fill="#3cb8c0"/>
<rect x="421.1" y="62.7" width="1.0" height="1.0" fill="#215a6a"/>
<rect x="357.9" y="71.9" width="1.0" height="1.0" fill="#215a6a"/>
<rect x="401.1" y="61.2" width="1.0" height="1.0" fill="#215a6a"/>
<rect x="398.1" y="74.9" width="1.0" height="1.0" fill="#338a98"/>
<rect x="346.8" y="63.0" width="1.0" height="1.0" fill="#215a6a"/>
<rect x="512.4" y="63.5" width="1.0" height="1.0" fill="#3cb8c0"/>
<rect x="365.3" y="67.6" width="1.0" height="1.0" fill="#3a90a0"/>
<rect x="395.1" y="57.3" width="1.0" height="1.0" fill="#24606e"/>
<rect x="377.0" y="93.8" width="1.0" height="1.0" fill="#3a90a0"/>
<rect x="392.9" y="58.1" width="1.0" height="1.0" fill="#24606e"/>
<rect x="537.8" y="70.2" width="1.0" height="1.0" fill="#34a8b8"/>
<rect x="524.7" y="79.6" width="1.0" height="1.0" fill="#2aa0b0"/>
<rect x="412.3" y="74.8" width="1.0" height="1.0" fill="#24606e"/>
<rect x="514.7" y="59.7" width="1.0" height="1.0" fill="#34a8b8"/>
<rect x="484.7" y="71.5" width="1.0" height="1.0" fill="#34a8b8"/>
<rect x="371.3" y="82.1" width="1.0" height="1.0" fill="#3a90a0"/>
<rect x="422.0" y="62.0" width="1.0" height="1.0" fill="#24606e"/>
<rect x="415.3" y="69.2" width="1.0" height="1.0" fill="#215a6a"/>
<rect x="405.5" y="74.6" width="1.0" height="1.0" fill="#24606e"/>
<rect x="486.9" y="69.6" width="1.0" height="1.0" fill="#34a8b8"/>
<rect x="453.6" y="92.2" width="1.0" height="1.0" fill="#237078"/>
<rect x="423.5" y="72.2" width="1.0" height="1.0" fill="#3a90a0"/>
<rect x="506.5" y="86.9" width="1.0" height="1.0" fill="#34a8b8"/>
<rect x="439.6" y="85.9" width="1.0" height="1.0" fill="#2a7c88"/>
<rect x="367.7" y="75.2" width="1.0" height="1.0" fill="#215a6a"/>
<rect x="370.0" y="62.7" width="1.0" height="1.0" fill="#215a6a"/>
<rect x="410.8" y="79.1" width="1.0" height="1.0" fill="#215a6a"/>
<rect x="495.6" y="67.9" width="1.0" height="1.0" fill="#34a8b8"/>
<rect x="368.3" y="73.5" width="1.0" height="1.0" fill="#3a90a0"/>
<rect x="397.9" y="82.4" width="1.0" height="1.0" fill="#338a98"/>
<rect x="464.5" y="88.0" width="1.0" height="1.0" fill="#3cb8c0"/>
<rect x="515.8" y="66.0" width="1.0" height="1.0" fill="#2a7c88"/>
<rect x="485.4" y="88.7" width="1.0" height="1.0" fill="#34a8b8"/>
<rect x="385.9" y="70.4" width="1.0" height="1.0" fill="#338a98"/>
<rect x="446.5" y="54.1" width="1.0" height="1.0" fill="#215a6a"/>
<rect x="450.1" y="56.6" width="1.0" height="1.0" fill="#24606e"/>
<rect x="534.8" y="61.1" width="1.0" height="1.0" fill="#3cb8c0"/>
<rect x="362.3" y="76.5" width="1.0" height="1.0" fill="#215a6a"/>
<rect x="498.4" y="64.6" width="1.0" height="1.0" fill="#3cb8c0"/>
<rect x="349.8" y="60.9" width="1.0" height="1.0" fill="#3a90a0"/>
<rect x="478.6" y="83.8" width="1.0" height="1.0" fill="#3cb8c0"/>
<rect x="434.5" y="66.1" width="1.0" height="1.0" fill="#215a6a"/>
<rect x="552.9" y="80.5" width="1.0" height="1.0" fill="#237078"/>
<rect x="426.2" y="90.6" width="1.0" height="1.0" fill="#3cb8c0"/>
<rect x="364.8" y="73.6" width="1.0" height="1.0" fill="#24606e"/>
<rect x="433.7" y="55.8" width="1.0" height="1.0" fill="#338a98"/>
<rect x="406.9" y="58.4" width="1.0" height="1.0" fill="#338a98"/>
<rect x="345.2" y="63.2" width="1.0" height="1.0" fill="#215a6a"/>
<rect x="391.1" y="63.7" width="1.0" height="1.0" fill="#338a98"/>
<rect x="400.5" y="54.2" width="1.0" height="1.0" fill="#338a98"/>
<rect x="464.6" y="86.5" width="1.0" height="1.0" fill="#2a7c88"/>
<rect x="499.5" y="63.2" width="1.0" height="1.0" fill="#237078"/>
<rect x="495.6" y="89.6" width="1.0" height="1.0" fill="#2aa0b0"/>
<rect x="487.3" y="81.5" width="1.0" height="1.0" fill="#3cb8c0"/>
<rect x="390.3" y="54.3" width="1.0" height="1.0" fill="#3a90a0"/>
<rect x="410.9" y="80.2" width="1.0" height="1.0" fill="#215a6a"/>
<rect x="381.1" y="90.2" width="1.0" height="1.0" fill="#24606e"/>
<rect x="437.2" y="59.7" width="1.0" height="1.0" fill="#24606e"/>
<rect x="445.0" y="53.0" width="1.0" height="1.0" fill="#3a90a0"/>
<rect x="534.3" y="66.9" width="1.0" height="1.0" fill="#237078"/>
<rect x="455.7" y="86.5" width="1.0" height="1.0" fill="#237078"/>
<rect x="347.3" y="59.1" width="1.0" height="1.0" fill="#3a90a0"/>
<rect x="421.0" y="59.7" width="1.0" height="1.0" fill="#24606e"/>
<rect x="514.8" y="77.8" width="1.0" height="1.0" fill="#237078"/>
<rect x="388.1" y="77.4" width="1.0" height="1.0" fill="#215a6a"/>
<rect x="509.3" y="86.3" width="1.0" height="1.0" fill="#237078"/>
<rect x="442.1" y="60.1" width="1.0" height="1.0" fill="#215a6a"/>
<rect x="485.8" y="91.1" width="1.0" height="1.0" fill="#2a7c88"/>
<rect x="408.2" y="71.5" width="1.0" height="1.0" fill="#24606e"/>
<rect x="406.0" y="68.0" width="1.0" height="1.0" fill="#215a6a"/>
<rect x="471.3" y="90.2" width="1.0" height="1.0" fill="#2aa0b0"/>
<rect x="458.0" y="88.7" width="1.0" height="1.0" fill="#34a8b8"/>
<rect x="395.7" y="76.5" width="1.0" height="1.0" fill="#215a6a"/>
<rect x="351.4" y="64.8" width="1.0" height="1.0" fill="#24606e"/>
<rect x="490.8" y="72.4" width="1.0" height="1.0" fill="#3cb8c0"/>
<rect x="418.2" y="65.1" width="1.0" height="1.0" fill="#215a6a"/>
<rect x="463.9" y="91.5" width="1.0" height="1.0" fill="#3cb8c0"/>
<rect x="362.8" y="73.0" width="1.0" height="1.0" fill="#338a98"/>
<rect x="382.2" y="57.2" width="1.0" height="1.0" fill="#24606e"/>
<rect x="545.4" y="85.7" width="1.0" height="1.0" fill="#237078"/>
<rect x="530.9" y="87.3" width="1.0" height="1.0" fill="#3cb8c0"/>
<rect x="497.0" y="65.1" width="1.0" height="1.0" fill="#2a7c88"/>
<rect x="524.8" y="61.4" width="1.0" height="1.0" fill="#2a7c88"/>
<rect x="452.4" y="92.3" width="1.0" height="1.0" fill="#34a8b8"/>
<rect x="429.4" y="92.9" width="1.0" height="1.0" fill="#2a7c88"/>
<rect x="374.4" y="89.5" width="1.0" height="1.0" fill="#3a90a0"/>
<rect x="392.7" y="77.2" width="1.0" height="1.0" fill="#338a98"/>
<rect x="490.9" y="75.0" width="1.0" height="1.0" fill="#237078"/>
<rect x="546.3" y="76.9" width="1.0" height="1.0" fill="#2a7c88"/>
<rect x="505.7" y="81.7" width="1.0" height="1.0" fill="#237078"/>
<rect x="519.1" y="61.0" width="1.0" height="1.0" fill="#34a8b8"/>
<rect x="538.5" y="82.5" width="1.0" height="1.0" fill="#2a7c88"/>
<rect x="372.7" y="75.8" width="1.0" height="1.0" fill="#24606e"/>
<rect x="425.9" y="55.3" width="1.0" height="1.0" fill="#3a90a0"/>
<rect x="526.1" y="87.1" width="1.0" height="1.0" fill="#237078"/>
<rect x="530.5" y="73.5" width="1.0" height="1.0" fill="#34a8b8"/>
<rect x="496.1" y="75.2" width="1.0" height="1.0" fill="#2aa0b0"/>
<rect x="376.1" y="88.6" width="1.0" height="1.0" fill="#3a90a0"/>
<rect x="505.0" y="66.0" width="1.0" height="1.0" fill="#2a7c88"/>
<rect x="395.4" y="60.8" width="1.0" height="1.0" fill="#215a6a"/>
<rect x="421.3" y="58.1" width="1.0" height="1.0" fill="#215a6a"/>
<rect x="402.5" y="77.8" width="1.0" height="1.0" fill="#24606e"/>
<rect x="366.0" y="65.1" width="1.0" height="1.0" fill="#338a98"/>
<rect x="436.3" y="56.3" width="1.0" height="1.0" fill="#215a6a"/>
<rect x="410.9" y="66.1" width="1.0" height="1.0" fill="#24606e"/>
<rect x="536.3" y="86.7" width="1.0" height="1.0" fill="#3cb8c0"/>
<rect x="478.3" y="78.5" width="1.0" height="1.0" fill="#34a8b8"/>
<rect x="384.1" y="82.8" width="1.0" height="1.0" fill="#24606e"/>
<rect x="519.5" y="62.0" width="1.0" height="1.0" fill="#2a7c88"/>
<rect x="378.3" y="88.9" width="1.0" height="1.0" fill="#3a90a0"/>
<rect x="553.8" y="85.8" width="1.0" height="1.0" fill="#237078"/>
<rect x="501.4" y="59.1" width="1.0" height="1.0" fill="#34a8b8"/>
<rect x="532.5" y="73.0" width="1.0" height="1.0" fill="#237078"/>
<rect x="403.9" y="68.2" width="1.0" height="1.0" fill="#338a98"/>
<rect x="483.7" y="84.4" width="1.0" height="1.0" fill="#2a7c88"/>
<rect x="411.2" y="76.1" width="1.0" height="1.0" fill="#338a98"/>
<rect x="377.6" y="66.3" width="1.0" height="1.0" fill="#338a98"/>
<rect x="515.5" y="53.9" width="1.0" height="1.0" fill="#2aa0b0"/>
<rect x="385.3" y="73.9" width="1.0" height="1.0" fill="#3a90a0"/>
<rect x="356.6" y="62.9" width="1.0" height="1.0" fill="#215a6a"/>
<rect x="531.0" y="81.1" width="1.0" height="1.0" fill="#2a7c88"/>
<rect x="538.2" y="68.6" width="1.0" height="1.0" fill="#3cb8c0"/>
<rect x="445.5" y="53.2" width="1.0" height="1.0" fill="#3a90a0"/>
<rect x="400.1" y="82.9" width="1.0" height="1.0" fill="#24606e"/>
<rect x="413.0" y="57.7" width="1.0" height="1.0" fill="#3a90a0"/>
<rect x="547.1" y="78.3" width="1.0" height="1.0" fill="#3cb8c0"/>
<rect x="397.6" y="72.5" width="1.0" height="1.0" fill="#338a98"/>
<rect x="399.5" y="77.2" width="1.0" height="1.0" fill="#338a98"/>
<rect x="354.8" y="70.7" width="1.0" height="1.0" fill="#215a6a"/>
<rect x="538.6" y="64.4" width="1.0" height="1.0" fill="#34a8b8"/>
<rect x="369.2" y="62.9" width="1.0" height="1.0" fill="#24606e"/>
<rect x="486.6" y="89.4" width="1.0" height="1.0" fill="#34a8b8"/>
<rect x="525.9" y="80.0" width="1.0" height="1.0" fill="#3cb8c0"/>
<rect x="480.1" y="70.1" width="1.0" height="1.0" fill="#34a8b8"/>
<rect x="372.5" y="74.5" width="1.0" height="1.0" fill="#338a98"/>
<rect x="486.2" y="72.5" width="1.0" height="1.0" fill="#237078"/>
<rect x="387.9" y="85.0" width="1.0" height="1.0" fill="#215a6a"/>
<rect x="519.5" y="67.5" width="1.0" height="1.0" fill="#3cb8c0"/>
<rect x="485.6" y="84.9" width="1.0" height="1.0" fill="#2aa0b0"/>
<rect x="403.5" y="77.9" width="1.0" height="1.0" fill="#3a90a0"/>
<rect x="384.3" y="54.6" width="1.0" height="1.0" fill="#338a98"/>
<rect x="505.3" y="69.7" width="1.0" height="1.0" fill="#34a8b8"/>
<rect x="393.1" y="63.6" width="1.0" height="1.0" fill="#3a90a0"/>
<rect x="466.6" y="75.6" width="1.0" height="1.0" fill="#3cb8c0"/>
<rect x="535.3" y="66.3" width="1.0" height="1.0" fill="#2a7c88"/>
<rect x="375.7" y="95.7" width="1.0" height="1.0" fill="#24606e"/>
<rect x="506.2" y="88.2" width="1.0" height="1.0" fill="#3cb8c0"/>
<rect x="534.4" y="67.4" width="1.0" height="1.0" fill="#2aa0b0"/>
<rect x="513.3" y="70.3" width="1.0" height="1.0" fill="#3cb8c0"/>
<rect x="372.3" y="74.3" width="1.0" height="1.0" fill="#24606e"/>
<rect x="362.2" y="63.5" width="1.0" height="1.0" fill="#24606e"/>
<rect x="378.5" y="71.7" width="1.0" height="1.0" fill="#3a90a0"/>
<rect x="502.0" y="73.0" width="1.0" height="1.0" fill="#2a7c88"/>
<rect x="498.5" y="83.4" width="1.0" height="1.0" fill="#34a8b8"/>
<rect x="477.9" y="84.5" width="1.0" height="1.0" fill="#3cb8c0"/>
<rect x="497.3" y="67.1" width="1.0" height="1.0" fill="#2aa0b0"/>
<rect x="488.2" y="71.2" width="1.0" height="1.0" fill="#2a7c88"/>
<rect x="429.1" y="92.2" width="1.0" height="1.0" fill="#2aa0b0"/>
<rect x="453.9" y="86.8" width="1.0" height="1.0" fill="#2aa0b0"/>
<rect x="527.3" y="53.0" width="1.0" height="1.0" fill="#237078"/>
<rect x="427.8" y="72.0" width="1.0" height="1.0" fill="#3a90a0"/>
<rect x="446.7" y="53.1" width="1.0" height="1.0" fill="#338a98"/>
<rect x="452.7" y="80.8" width="1.0" height="1.0" fill="#34a8b8"/>
<rect x="484.2" y="67.6" width="1.0" height="1.0" fill="#2aa0b0"/>
<rect x="497.5" y="71.8" width="1.0" height="1.0" fill="#2a7c88"/>
<rect x="378.8" y="81.1" width="1.0" height="1.0" fill="#215a6a"/>
<rect x="422.1" y="60.9" width="1.0" height="1.0" fill="#338a98"/>
<rect x="377.5" y="65.4" width="1.0" height="1.0" fill="#3a90a0"/>
<rect x="518.6" y="81.9" width="1.0" height="1.0" fill="#34a8b8"/>
<rect x="367.2" y="84.1" width="1.0" height="1.0" fill="#338a98"/>
<rect x="487.2" y="83.9" width="1.0" height="1.0" fill="#3cb8c0"/>
<rect x="445.2" y="90.2" width="1.0" height="1.0" fill="#2aa0b0"/>
<rect x="381.0" y="81.4" width="1.0" height="1.0" fill="#215a6a"/>
<rect x="354.3" y="61.0" width="1.0" height="1.0" fill="#338a98"/>
<rect x="523.0" y="81.0" width="1.0" height="1.0" fill="#34a8b8"/>
<rect x="427.1" y="70.5" width="1.0" height="1.0" fill="#215a6a"/>
<rect x="427.7" y="72.4" width="1.0" height="1.0" fill="#3a90a0"/>
<rect x="420.9" y="63.7" width="1.0" height="1.0" fill="#215a6a"/>
<rect x="457.9" y="85.6" width="1.0" height="1.0" fill="#2a7c88"/>
<rect x="378.7" y="93.9" width="1.0" height="1.0" fill="#215a6a"/>
<rect x="521.6" y="82.9" width="1.0" height="1.0" fill="#3cb8c0"/>
<rect x="361.6" y="70.8" width="1.0" height="1.0" fill="#24606e"/>
<rect x="533.6" y="63.2" width="1.0" height="1.0" fill="#3cb8c0"/>
<rect x="537.4" y="75.8" width="1.0" height="1.0" fill="#237078"/>
<rect x="365.7" y="59.1" width="1.0" height="1.0" fill="#3a90a0"/>
<rect x="361.8" y="60.0" width="1.0" height="1.0" fill="#3a90a0"/>
<rect x="481.3" y="68.1" width="1.0" height="1.0" fill="#34a8b8"/>
<rect x="442.6" y="55.3" width="1.0" height="1.0" fill="#3a90a0"/>
<rect x="364.4" y="68.1" width="1.0" height="1.0" fill="#215a6a"/>
<rect x="440.8" y="59.9" width="1.0" height="1.0" fill="#24606e"/>
<rect x="465.6" y="89.0" width="1.0" height="1.0" fill="#3cb8c0"/>
<rect x="393.9" y="65.7" width="1.0" height="1.0" fill="#338a98"/>
<rect x="362.9" y="69.1" width="1.0" height="1.0" fill="#3a90a0"/>
<rect x="532.6" y="72.6" width="1.0" height="1.0" fill="#34a8b8"/>
<rect x="535.8" y="67.2" width="1.0" height="1.0" fill="#3cb8c0"/>
<rect x="372.5" y="90.2" width="1.0" height="1.0" fill="#3a90a0"/>
<rect x="502.6" y="77.5" width="1.0" height="1.0" fill="#2a7c88"/>
<rect x="450.5" y="91.0" width="1.0" height="1.0" fill="#3cb8c0"/>
<rect x="525.1" y="70.4" width="1.0" height="1.0" fill="#2a7c88"/>
<rect x="497.5" y="86.2" width="1.0" height="1.0" fill="#34a8b8"/>
<rect x="519.8" y="79.5" width="1.0" height="1.0" fill="#237078"/>
<rect x="405.0" y="58.0" width="1.0" height="1.0" fill="#3a90a0"/>
<rect x="381.9" y="88.2" width="1.0" height="1.0" fill="#215a6a"/>
<rect x="397.8" y="76.8" width="1.0" height="1.0" fill="#24606e"/>
<rect x="509.7" y="59.5" width="1.0" height="1.0" fill="#2a7c88"/>
<rect x="389.7" y="77.7" width="1.0" height="1.0" fill="#24606e"/>
<rect x="507.2" y="67.1" width="1.0" height="1.0" fill="#3cb8c0"/>
<rect x="378.0" y="87.2" width="1.0" height="1.0" fill="#215a6a"/>
<rect x="485.5" y="75.1" width="1.0" height="1.0" fill="#2aa0b0"/>
<rect x="403.5" y="57.5" width="1.0" height="1.0" fill="#338a98"/>
<rect x="441.2" y="91.6" width="1.0" height="1.0" fill="#2aa0b0"/>
<rect x="510.6" y="64.4" width="1.0" height="1.0" fill="#3cb8c0"/>
<rect x="349.9" y="59.7" width="1.0" height="1.0" fill="#3a90a0"/>
<rect x="521.1" y="80.4" width="1.0" height="1.0" fill="#2a7c88"/>
<rect x="411.2" y="74.9" width="1.0" height="1.0" fill="#215a6a"/>
<rect x="421.2" y="56.2" width="1.0" height="1.0" fill="#24606e"/>
<rect x="351.9" y="60.0" width="1.0" height="1.0" fill="#24606e"/>
<rect x="434.2" y="56.2" width="1.0" height="1.0" fill="#3a90a0"/>
<rect x="455.4" y="88.9" width="1.0" height="1.0" fill="#3cb8c0"/>
<rect x="362.0" y="79.7" width="1.0" height="1.0" fill="#215a6a"/>
<rect x="381.4" y="71.8" width="1.0" height="1.0" fill="#3a90a0"/>
<polyline points="398,95.6 430,93.0 480,91.2 559.4,85.8" fill="none" stroke="#40c0d0" stroke-width="0.9" opacity="0.7"/>
<line x1="531.03" y1="85.36" x2="531.03" y2="81.09" stroke="#2bb0e0" stroke-width="0.8" />
<line x1="466.54" y1="79.25" x2="466.54" y2="76.30" stroke="#70c870" stroke-width="0.8" />
<line x1="529.07" y1="62.22" x2="529.07" y2="58.64" stroke="#2bb0e0" stroke-width="0.8" />
<line x1="435.83" y1="91.35" x2="435.83" y2="88.51" stroke="#70c870" stroke-width="0.8" />
<line x1="517.18" y1="63.82" x2="517.18" y2="60.22" stroke="#70c870" stroke-width="0.8" />
<line x1="427.34" y1="92.35" x2="427.34" y2="90.17" stroke="#4fd0c0" stroke-width="0.8" />
<line x1="478.41" y1="79.90" x2="478.41" y2="76.26" stroke="#2bb0e0" stroke-width="0.8" />
<line x1="457.64" y1="88.94" x2="457.64" y2="84.72" stroke="#2bb0e0" stroke-width="0.8" />
<line x1="524.94" y1="64.01" x2="524.94" y2="59.41" stroke="#4fd0c0" stroke-width="0.8" />
<line x1="411.11" y1="94.94" x2="411.11" y2="92.72" stroke="#70c870" stroke-width="0.8" />
<line x1="400.55" y1="95.70" x2="400.55" y2="92.57" stroke="#30c8d8" stroke-width="0.8" />
<line x1="416.22" y1="93.87" x2="416.22" y2="91.80" stroke="#4fd0c0" stroke-width="0.8" />
<line x1="456.58" y1="84.10" x2="456.58" y2="80.34" stroke="#4fd0c0" stroke-width="0.8" />
<line x1="547.38" y1="76.53" x2="547.38" y2="73.80" stroke="#2bb0e0" stroke-width="0.8" />
<line x1="452.28" y1="85.91" x2="452.28" y2="81.73" stroke="#4fd0c0" stroke-width="0.8" />
<line x1="464.80" y1="87.34" x2="464.80" y2="84.19" stroke="#2bb0e0" stroke-width="0.8" />
<line x1="521.67" y1="85.18" x2="521.67" y2="81.72" stroke="#70c870" stroke-width="0.8" />
<line x1="455.97" y1="88.41" x2="455.97" y2="84.02" stroke="#4fd0c0" stroke-width="0.8" />
<line x1="510.08" y1="70.34" x2="510.08" y2="68.00" stroke="#4fd0c0" stroke-width="0.8" />
<line x1="551.39" y1="84.88" x2="551.39" y2="80.88" stroke="#70c870" stroke-width="0.8" />
<line x1="477.55" y1="85.19" x2="477.55" y2="80.28" stroke="#2bb0e0" stroke-width="0.8" />
<line x1="540.75" y1="74.18" x2="540.75" y2="70.60" stroke="#70c870" stroke-width="0.8" />
<line x1="432.91" y1="91.17" x2="432.91" y2="86.41" stroke="#30c8d8" stroke-width="0.8" />
<line x1="468.87" y1="86.14" x2="468.87" y2="82.42" stroke="#30c8d8" stroke-width="0.8" />
<line x1="442.29" y1="88.95" x2="442.29" y2="86.45" stroke="#30c8d8" stroke-width="0.8" />
<line x1="433.19" y1="91.37" x2="433.19" y2="86.91" stroke="#30c8d8" stroke-width="0.8" />
<line x1="532.78" y1="61.74" x2="532.78" y2="57.69" stroke="#70c870" stroke-width="0.8" />
<line x1="549.44" y1="79.34" x2="549.44" y2="75.19" stroke="#70c870" stroke-width="0.8" />
<line x1="519.98" y1="84.76" x2="519.98" y2="81.11" stroke="#2bb0e0" stroke-width="0.8" />
<line x1="442.77" y1="87.21" x2="442.77" y2="83.71" stroke="#30c8d8" stroke-width="0.8" />
<line x1="451.59" y1="82.62" x2="451.59" y2="79.05" stroke="#4fd0c0" stroke-width="0.8" />
<line x1="438.19" y1="91.72" x2="438.19" y2="88.61" stroke="#2bb0e0" stroke-width="0.8" />
<line x1="552.86" y1="81.99" x2="552.86" y2="78.88" stroke="#70c870" stroke-width="0.8" />
<line x1="542.47" y1="71.55" x2="542.47" y2="68.23" stroke="#70c870" stroke-width="0.8" />
<line x1="460.23" y1="91.15" x2="460.23" y2="88.24" stroke="#4fd0c0" stroke-width="0.8" />
<line x1="445.63" y1="91.43" x2="445.63" y2="86.57" stroke="#70c870" stroke-width="0.8" />
<line x1="494.04" y1="84.39" x2="494.04" y2="82.23" stroke="#2bb0e0" stroke-width="0.8" />
<line x1="533.59" y1="85.51" x2="533.59" y2="82.31" stroke="#70c870" stroke-width="0.8" />
<line x1="416.39" y1="93.89" x2="416.39" y2="90.47" stroke="#4fd0c0" stroke-width="0.8" />
<line x1="433.05" y1="91.18" x2="433.05" y2="87.70" stroke="#4fd0c0" stroke-width="0.8" />
<line x1="549.10" y1="83.16" x2="549.10" y2="78.39" stroke="#2bb0e0" stroke-width="0.8" />
<line x1="496.64" y1="70.22" x2="496.64" y2="65.48" stroke="#2bb0e0" stroke-width="0.8" />
<line x1="524.99" y1="71.24" x2="524.99" y2="68.55" stroke="#2bb0e0" stroke-width="0.8" />
<line x1="414.85" y1="94.23" x2="414.85" y2="91.93" stroke="#4fd0c0" stroke-width="0.8" />
<line x1="462.69" y1="88.64" x2="462.69" y2="85.71" stroke="#2bb0e0" stroke-width="0.8" />
<line x1="459.87" y1="81.38" x2="459.87" y2="77.31" stroke="#30c8d8" stroke-width="0.8" />
<line x1="465.77" y1="85.23" x2="465.77" y2="82.11" stroke="#30c8d8" stroke-width="0.8" />
<line x1="479.01" y1="74.98" x2="479.01" y2="71.72" stroke="#30c8d8" stroke-width="0.8" />
<line x1="447.17" y1="91.69" x2="447.17" y2="89.05" stroke="#70c870" stroke-width="0.8" />
<line x1="411.16" y1="94.61" x2="411.16" y2="92.10" stroke="#70c870" stroke-width="0.8" />
<line x1="497.73" y1="75.78" x2="497.73" y2="72.64" stroke="#2bb0e0" stroke-width="0.8" />
<line x1="503.32" y1="61.69" x2="503.32" y2="59.68" stroke="#30c8d8" stroke-width="0.8" />
<line x1="504.43" y1="61.49" x2="504.43" y2="57.15" stroke="#70c870" stroke-width="0.8" />
<line x1="474.58" y1="77.98" x2="474.58" y2="73.70" stroke="#30c8d8" stroke-width="0.8" />
<line x1="467.59" y1="77.00" x2="467.59" y2="72.27" stroke="#2bb0e0" stroke-width="0.8" />
<line x1="508.09" y1="62.15" x2="508.09" y2="58.28" stroke="#70c870" stroke-width="0.8" />
<line x1="523.67" y1="68.21" x2="523.67" y2="63.85" stroke="#70c870" stroke-width="0.8" />
<line x1="472.37" y1="82.84" x2="472.37" y2="78.56" stroke="#70c870" stroke-width="0.8" />
<line x1="437.38" y1="91.66" x2="437.38" y2="87.93" stroke="#2bb0e0" stroke-width="0.8" />
<line x1="403.52" y1="95.21" x2="403.52" y2="93.08" stroke="#70c870" stroke-width="0.8" />
<linearGradient id="rg0" gradientUnits="userSpaceOnUse" x1="0" y1="97.5" x2="0" y2="100.5"><stop offset="0" stop-color="#2b7584"/><stop offset="0.5" stop-color="#2a7281"/><stop offset="1" stop-color="#2a7080"/></linearGradient>
<linearGradient id="rl0" gradientUnits="userSpaceOnUse" x1="0" y1="96.8" x2="0" y2="100.2"><stop offset="0" stop-color="#52b096"/><stop offset="0.55" stop-color="#3b988f"/><stop offset="1" stop-color="#3b988f" stop-opacity="0"/></linearGradient>
<polygon points="378.00,97.46 380.60,96.10 380.60,99.85 378.00,100.50" fill="url(#rg0)"/>
<line x1="379.30" y1="96.48" x2="379.30" y2="100.17" stroke="url(#rl0)" stroke-width="1.25"/>
<linearGradient id="rg1" gradientUnits="userSpaceOnUse" x1="0" y1="96.1" x2="0" y2="99.8"><stop offset="0" stop-color="#2c7684"/><stop offset="0.5" stop-color="#2a7281"/><stop offset="1" stop-color="#2a7080"/></linearGradient>
<linearGradient id="rl1" gradientUnits="userSpaceOnUse" x1="0" y1="95.4" x2="0" y2="99.5"><stop offset="0" stop-color="#54b193"/><stop offset="0.55" stop-color="#3c998e"/><stop offset="1" stop-color="#3c998e" stop-opacity="0"/></linearGradient>
<polygon points="380.60,96.10 383.20,94.75 383.20,99.20 380.60,99.85" fill="url(#rg1)"/>
<line x1="381.90" y1="95.13" x2="381.90" y2="99.52" stroke="url(#rl1)" stroke-width="1.25"/>
<linearGradient id="rg2" gradientUnits="userSpaceOnUse" x1="0" y1="94.7" x2="0" y2="99.2"><stop offset="0" stop-color="#2d7884"/><stop offset="0.5" stop-color="#2b7381"/><stop offset="1" stop-color="#2a7080"/></linearGradient>
<linearGradient id="rl2" gradientUnits="userSpaceOnUse" x1="0" y1="94.1" x2="0" y2="98.9"><stop offset="0" stop-color="#57b191"/><stop offset="0.55" stop-color="#3e998d"/><stop offset="1" stop-color="#3e998d" stop-opacity="0"/></linearGradient>
<polygon points="383.20,94.75 385.80,93.40 385.80,98.55 383.20,99.20" fill="url(#rg2)"/>
<line x1="384.50" y1="93.77" x2="384.50" y2="98.87" stroke="url(#rl2)" stroke-width="1.25"/>
<linearGradient id="rg3" gradientUnits="userSpaceOnUse" x1="0" y1="93.4" x2="0" y2="98.5"><stop offset="0" stop-color="#2f7984"/><stop offset="0.5" stop-color="#2c7381"/><stop offset="1" stop-color="#2a7080"/></linearGradient>
<linearGradient id="rl3" gradientUnits="userSpaceOnUse" x1="0" y1="92.7" x2="0" y2="98.2"><stop offset="0" stop-color="#5ab28f"/><stop offset="0.55" stop-color="#3f9a8c"/><stop offset="1" stop-color="#3f9a8c" stop-opacity="0"/></linearGradient>
<polygon points="385.80,93.40 388.40,92.04 388.40,97.90 385.80,98.55" fill="url(#rg3)"/>
<line x1="387.10" y1="92.42" x2="387.10" y2="98.22" stroke="url(#rl3)" stroke-width="1.25"/>
<linearGradient id="rg4" gradientUnits="userSpaceOnUse" x1="0" y1="92.0" x2="0" y2="97.9"><stop offset="0" stop-color="#307a84"/><stop offset="0.5" stop-color="#2c7481"/><stop offset="1" stop-color="#2a7080"/></linearGradient>
<linearGradient id="rl4" gradientUnits="userSpaceOnUse" x1="0" y1="91.4" x2="0" y2="97.6"><stop offset="0" stop-color="#5cb38c"/><stop offset="0.55" stop-color="#419b8b"/><stop offset="1" stop-color="#419b8b" stop-opacity="0"/></linearGradient>
<polygon points="388.40,92.04 391.00,90.69 391.00,97.25 388.40,97.90" fill="url(#rg4)"/>
<line x1="389.70" y1="91.06" x2="389.70" y2="97.57" stroke="url(#rl4)" stroke-width="1.25"/>
<linearGradient id="rg5" gradientUnits="userSpaceOnUse" x1="0" y1="90.7" x2="0" y2="97.2"><stop offset="0" stop-color="#317b83"/><stop offset="0.5" stop-color="#2c7481"/><stop offset="1" stop-color="#2a7080"/></linearGradient>
<linearGradient id="rl5" gradientUnits="userSpaceOnUse" x1="0" y1="90.0" x2="0" y2="96.9"><stop offset="0" stop-color="#5fb38a"/><stop offset="0.55" stop-color="#439b8a"/><stop offset="1" stop-color="#439b8a" stop-opacity="0"/></linearGradient>
<polygon points="391.00,90.69 393.60,89.33 393.60,96.60 391.00,97.25" fill="url(#rg5)"/>
<line x1="392.30" y1="89.71" x2="392.30" y2="96.92" stroke="url(#rl5)" stroke-width="1.25"/>
<linearGradient id="rg6" gradientUnits="userSpaceOnUse" x1="0" y1="89.3" x2="0" y2="96.6"><stop offset="0" stop-color="#337c83"/><stop offset="0.5" stop-color="#2d7481"/><stop offset="1" stop-color="#2a7080"/></linearGradient>
<linearGradient id="rl6" gradientUnits="userSpaceOnUse" x1="0" y1="88.7" x2="0" y2="96.3"><stop offset="0" stop-color="#62b488"/><stop offset="0.55" stop-color="#449c89"/><stop offset="1" stop-color="#449c89" stop-opacity="0"/></linearGradient>
<polygon points="393.60,89.33 396.20,87.98 396.20,95.95 393.60,96.60" fill="url(#rg6)"/>
<line x1="394.90" y1="88.36" x2="394.90" y2="96.27" stroke="url(#rl6)" stroke-width="1.25"/>
<linearGradient id="rg7" gradientUnits="userSpaceOnUse" x1="0" y1="88.0" x2="0" y2="95.9"><stop offset="0" stop-color="#347d83"/><stop offset="0.5" stop-color="#2e7581"/><stop offset="1" stop-color="#2a7080"/></linearGradient>
<linearGradient id="rl7" gradientUnits="userSpaceOnUse" x1="0" y1="87.3" x2="0" y2="95.6"><stop offset="0" stop-color="#64b585"/><stop offset="0.55" stop-color="#469d88"/><stop offset="1" stop-color="#469d88" stop-opacity="0"/></linearGradient>
<polygon points="396.20,87.98 398.80,86.62 398.80,95.30 396.20,95.95" fill="url(#rg7)"/>
<line x1="397.50" y1="87.00" x2="397.50" y2="95.62" stroke="url(#rl7)" stroke-width="1.25"/>
<linearGradient id="rg8" gradientUnits="userSpaceOnUse" x1="0" y1="86.6" x2="0" y2="95.3"><stop offset="0" stop-color="#357e83"/><stop offset="0.5" stop-color="#2e7581"/><stop offset="1" stop-color="#2a7080"/></linearGradient>
<linearGradient id="rl8" gradientUnits="userSpaceOnUse" x1="0" y1="86.0" x2="0" y2="95.0"><stop offset="0" stop-color="#67b583"/><stop offset="0.55" stop-color="#479d87"/><stop offset="1" stop-color="#479d87" stop-opacity="0"/></linearGradient>
<polygon points="398.80,86.62 401.40,85.36 401.40,94.74 398.80,95.30" fill="url(#rg8)"/>
<line x1="400.10" y1="85.65" x2="400.10" y2="94.98" stroke="url(#rl8)" stroke-width="1.25"/>
<linearGradient id="rg9" gradientUnits="userSpaceOnUse" x1="0" y1="85.4" x2="0" y2="94.7"><stop offset="0" stop-color="#377f82"/><stop offset="0.5" stop-color="#2f7680"/><stop offset="1" stop-color="#2a7080"/></linearGradient>
<linearGradient id="rl9" gradientUnits="userSpaceOnUse" x1="0" y1="84.8" x2="0" y2="94.5"><stop offset="0" stop-color="#6ab681"/><stop offset="0.55" stop-color="#499e86"/><stop offset="1" stop-color="#499e86" stop-opacity="0"/></linearGradient>
<polygon points="401.40,85.36 404.00,84.18 404.00,94.27 401.40,94.74" fill="url(#rg9)"/>
<line x1="402.70" y1="84.47" x2="402.70" y2="94.50" stroke="url(#rl9)" stroke-width="1.25"/>
<linearGradient id="rg10" gradientUnits="userSpaceOnUse" x1="0" y1="84.2" x2="0" y2="94.3"><stop offset="0" stop-color="#388182"/><stop offset="0.5" stop-color="#2f7680"/><stop offset="1" stop-color="#2a7080"/></linearGradient>
<linearGradient id="rl10" gradientUnits="userSpaceOnUse" x1="0" y1="83.6" x2="0" y2="94.0"><stop offset="0" stop-color="#6cb77e"/><stop offset="0.55" stop-color="#4b9f85"/><stop offset="1" stop-color="#4b9f85" stop-opacity="0"/></linearGradient>
<polygon points="404.00,84.18 406.60,83.00 406.60,93.79 404.00,94.27" fill="url(#rg10)"/>
<line x1="405.30" y1="83.29" x2="405.30" y2="94.03" stroke="url(#rl10)" stroke-width="1.25"/>
<linearGradient id="rg11" gradientUnits="userSpaceOnUse" x1="0" y1="83.0" x2="0" y2="93.8"><stop offset="0" stop-color="#398282"/><stop offset="0.5" stop-color="#307780"/><stop offset="1" stop-color="#2a7080"/></linearGradient>
<linearGradient id="rl11" gradientUnits="userSpaceOnUse" x1="0" y1="82.4" x2="0" y2="93.6"><stop offset="0" stop-color="#6fb77c"/><stop offset="0.55" stop-color="#4c9f84"/><stop offset="1" stop-color="#4c9f84" stop-opacity="0"/></linearGradient>
<polygon points="406.60,83.00 409.20,81.82 409.20,93.31 406.60,93.79" fill="url(#rg11)"/>
<line x1="407.90" y1="82.11" x2="407.90" y2="93.55" stroke="url(#rl11)" stroke-width="1.25"/>
<linearGradient id="rg12" gradientUnits="userSpaceOnUse" x1="0" y1="81.8" x2="0" y2="93.3"><stop offset="0" stop-color="#3b8382"/><stop offset="0.5" stop-color="#307780"/><stop offset="1" stop-color="#2a7080"/></linearGradient>
<linearGradient id="rl12" gradientUnits="userSpaceOnUse" x1="0" y1="81.2" x2="0" y2="93.1"><stop offset="0" stop-color="#72b87a"/><stop offset="0.55" stop-color="#4ea083"/><stop offset="1" stop-color="#4ea083" stop-opacity="0"/></linearGradient>
<polygon points="409.20,81.82 411.80,80.64 411.80,92.84 409.20,93.31" fill="url(#rg12)"/>
<line x1="410.50" y1="80.93" x2="410.50" y2="93.07" stroke="url(#rl12)" stroke-width="1.25"/>
<linearGradient id="rg13" gradientUnits="userSpaceOnUse" x1="0" y1="80.6" x2="0" y2="92.8"><stop offset="0" stop-color="#3c8482"/><stop offset="0.5" stop-color="#317880"/><stop offset="1" stop-color="#2a7080"/></linearGradient>
<linearGradient id="rl13" gradientUnits="userSpaceOnUse" x1="0" y1="80.0" x2="0" y2="92.6"><stop offset="0" stop-color="#74b977"/><stop offset="0.55" stop-color="#4fa182"/><stop offset="1" stop-color="#4fa182" stop-opacity="0"/></linearGradient>
<polygon points="411.80,80.64 414.40,79.45 414.40,92.36 411.80,92.84" fill="url(#rg13)"/>
<line x1="413.10" y1="79.75" x2="413.10" y2="92.60" stroke="url(#rl13)" stroke-width="1.25"/>
<linearGradient id="rg14" gradientUnits="userSpaceOnUse" x1="0" y1="79.5" x2="0" y2="92.4"><stop offset="0" stop-color="#3d8581"/><stop offset="0.5" stop-color="#317880"/><stop offset="1" stop-color="#2a7080"/></linearGradient>
<linearGradient id="rl14" gradientUnits="userSpaceOnUse" x1="0" y1="78.9" x2="0" y2="92.1"><stop offset="0" stop-color="#77b975"/><stop offset="0.55" stop-color="#51a181"/><stop offset="1" stop-color="#51a181" stop-opacity="0"/></linearGradient>
<polygon points="414.40,79.45 417.00,78.27 417.00,91.88 414.40,92.36" fill="url(#rg14)"/>
<line x1="415.70" y1="78.56" x2="415.70" y2="92.12" stroke="url(#rl14)" stroke-width="1.25"/>
<linearGradient id="rg15" gradientUnits="userSpaceOnUse" x1="0" y1="78.3" x2="0" y2="91.9"><stop offset="0" stop-color="#3f8681"/><stop offset="0.5" stop-color="#327880"/><stop offset="1" stop-color="#2a7080"/></linearGradient>
<linearGradient id="rl15" gradientUnits="userSpaceOnUse" x1="0" y1="77.7" x2="0" y2="91.6"><stop offset="0" stop-color="#7aba73"/><stop offset="0.55" stop-color="#52a280"/><stop offset="1" stop-color="#52a280" stop-opacity="0"/></linearGradient>
<polygon points="417.00,78.27 419.60,77.09 419.60,91.41 417.00,91.88" fill="url(#rg15)"/>
<line x1="418.30" y1="77.38" x2="418.30" y2="91.64" stroke="url(#rl15)" stroke-width="1.25"/>
<linearGradient id="rg16" gradientUnits="userSpaceOnUse" x1="0" y1="77.1" x2="0" y2="91.4"><stop offset="0" stop-color="#408781"/><stop offset="0.5" stop-color="#327980"/><stop offset="1" stop-color="#2a7080"/></linearGradient>
<linearGradient id="rl16" gradientUnits="userSpaceOnUse" x1="0" y1="76.5" x2="0" y2="91.2"><stop offset="0" stop-color="#7cbb70"/><stop offset="0.55" stop-color="#54a37f"/><stop offset="1" stop-color="#54a37f" stop-opacity="0"/></linearGradient>
<polygon points="419.60,77.09 422.20,75.89 422.20,90.93 419.60,91.41" fill="url(#rg16)"/>
<line x1="420.90" y1="76.20" x2="420.90" y2="91.17" stroke="url(#rl16)" stroke-width="1.25"/>
<linearGradient id="rg17" gradientUnits="userSpaceOnUse" x1="0" y1="75.9" x2="0" y2="90.9"><stop offset="0" stop-color="#418881"/><stop offset="0.5" stop-color="#337980"/><stop offset="1" stop-color="#2a7080"/></linearGradient>
<linearGradient id="rl17" gradientUnits="userSpaceOnUse" x1="0" y1="75.1" x2="0" y2="90.7"><stop offset="0" stop-color="#7fbb6e"/><stop offset="0.55" stop-color="#56a37e"/><stop offset="1" stop-color="#56a37e" stop-opacity="0"/></linearGradient>
<polygon points="422.20,75.89 424.80,74.40 424.80,90.45 422.20,90.93" fill="url(#rg17)"/>
<line x1="423.50" y1="74.84" x2="423.50" y2="90.69" stroke="url(#rl17)" stroke-width="1.25"/>
<linearGradient id="rg18" gradientUnits="userSpaceOnUse" x1="0" y1="74.4" x2="0" y2="90.5"><stop offset="0" stop-color="#438a81"/><stop offset="0.5" stop-color="#347a80"/><stop offset="1" stop-color="#2a7080"/></linearGradient>
<linearGradient id="rl18" gradientUnits="userSpaceOnUse" x1="0" y1="73.7" x2="0" y2="90.2"><stop offset="0" stop-color="#82bc6c"/><stop offset="0.55" stop-color="#57a47d"/><stop offset="1" stop-color="#57a47d" stop-opacity="0"/></linearGradient>
<polygon points="424.80,74.40 427.40,72.91 427.40,89.98 424.80,90.45" fill="url(#rg18)"/>
<line x1="426.10" y1="73.36" x2="426.10" y2="90.21" stroke="url(#rl18)" stroke-width="1.25"/>
<linearGradient id="rg19" gradientUnits="userSpaceOnUse" x1="0" y1="72.9" x2="0" y2="90.0"><stop offset="0" stop-color="#448b80"/><stop offset="0.5" stop-color="#347a80"/><stop offset="1" stop-color="#2a7080"/></linearGradient>
<linearGradient id="rl19" gradientUnits="userSpaceOnUse" x1="0" y1="72.2" x2="0" y2="89.7"><stop offset="0" stop-color="#84bd69"/><stop offset="0.55" stop-color="#59a57c"/><stop offset="1" stop-color="#59a57c" stop-opacity="0"/></linearGradient>
<polygon points="427.40,72.91 430.00,71.43 430.00,89.50 427.40,89.98" fill="url(#rg19)"/>
<line x1="428.70" y1="71.87" x2="428.70" y2="89.74" stroke="url(#rl19)" stroke-width="1.25"/>
<linearGradient id="rg20" gradientUnits="userSpaceOnUse" x1="0" y1="71.4" x2="0" y2="89.5"><stop offset="0" stop-color="#458c80"/><stop offset="0.5" stop-color="#347b80"/><stop offset="1" stop-color="#2a7080"/></linearGradient>
<linearGradient id="rl20" gradientUnits="userSpaceOnUse" x1="0" y1="70.7" x2="0" y2="89.0"><stop offset="0" stop-color="#87bd67"/><stop offset="0.55" stop-color="#5aa57b"/><stop offset="1" stop-color="#5aa57b" stop-opacity="0"/></linearGradient>
<polygon points="430.00,71.43 432.60,69.94 432.60,88.41 430.00,89.50" fill="url(#rg20)"/>
<line x1="431.30" y1="70.39" x2="431.30" y2="88.95" stroke="url(#rl20)" stroke-width="1.25"/>
<linearGradient id="rg21" gradientUnits="userSpaceOnUse" x1="0" y1="69.9" x2="0" y2="88.4"><stop offset="0" stop-color="#478d80"/><stop offset="0.5" stop-color="#357b80"/><stop offset="1" stop-color="#2a7080"/></linearGradient>
<linearGradient id="rl21" gradientUnits="userSpaceOnUse" x1="0" y1="69.2" x2="0" y2="87.9"><stop offset="0" stop-color="#8abe65"/><stop offset="0.55" stop-color="#5ca67a"/><stop offset="1" stop-color="#5ca67a" stop-opacity="0"/></linearGradient>
<polygon points="432.60,69.94 435.20,68.46 435.20,87.32 432.60,88.41" fill="url(#rg21)"/>
<line x1="433.90" y1="68.90" x2="433.90" y2="87.86" stroke="url(#rl21)" stroke-width="1.25"/>
<linearGradient id="rg22" gradientUnits="userSpaceOnUse" x1="0" y1="68.5" x2="0" y2="87.3"><stop offset="0" stop-color="#488e80"/><stop offset="0.5" stop-color="#367c80"/><stop offset="1" stop-color="#2a7080"/></linearGradient>
<linearGradient id="rl22" gradientUnits="userSpaceOnUse" x1="0" y1="67.6" x2="0" y2="86.8"><stop offset="0" stop-color="#8cbf62"/><stop offset="0.55" stop-color="#5ea779"/><stop offset="1" stop-color="#5ea779" stop-opacity="0"/></linearGradient>
<polygon points="435.20,68.46 437.80,66.69 437.80,86.22 435.20,87.32" fill="url(#rg22)"/>
<line x1="436.50" y1="67.34" x2="436.50" y2="86.77" stroke="url(#rl22)" stroke-width="1.25"/>
<linearGradient id="rg23" gradientUnits="userSpaceOnUse" x1="0" y1="66.7" x2="0" y2="86.2"><stop offset="0" stop-color="#498f80"/><stop offset="0.5" stop-color="#367c80"/><stop offset="1" stop-color="#2a7080"/></linearGradient>
<linearGradient id="rl23" gradientUnits="userSpaceOnUse" x1="0" y1="65.7" x2="0" y2="85.7"><stop offset="0" stop-color="#8fbf60"/><stop offset="0.55" stop-color="#5fa778"/><stop offset="1" stop-color="#5fa778" stop-opacity="0"/></linearGradient>
<polygon points="437.80,66.69 440.40,64.80 440.40,85.13 437.80,86.22" fill="url(#rg23)"/>
<line x1="439.10" y1="65.45" x2="439.10" y2="85.68" stroke="url(#rl23)" stroke-width="1.25"/>
<linearGradient id="rg24" gradientUnits="userSpaceOnUse" x1="0" y1="64.8" x2="0" y2="85.1"><stop offset="0" stop-color="#4e8e7c"/><stop offset="0.5" stop-color="#397a7e"/><stop offset="1" stop-color="#2b6e80"/></linearGradient>
<linearGradient id="rl24" gradientUnits="userSpaceOnUse" x1="0" y1="63.9" x2="0" y2="84.6"><stop offset="0" stop-color="#97c15d"/><stop offset="0.55" stop-color="#67a775"/><stop offset="1" stop-color="#67a775" stop-opacity="0"/></linearGradient>
<polygon points="440.40,64.80 443.00,62.91 443.00,84.04 440.40,85.13" fill="url(#rg24)"/>
<line x1="441.70" y1="63.55" x2="441.70" y2="84.59" stroke="url(#rl24)" stroke-width="1.25"/>
<linearGradient id="rg25" gradientUnits="userSpaceOnUse" x1="0" y1="62.9" x2="0" y2="84.0"><stop offset="0" stop-color="#548c77"/><stop offset="0.5" stop-color="#3c787d"/><stop offset="1" stop-color="#2d6c81"/></linearGradient>
<linearGradient id="rl25" gradientUnits="userSpaceOnUse" x1="0" y1="62.0" x2="0" y2="83.5"><stop offset="0" stop-color="#a0c45a"/><stop offset="0.55" stop-color="#71a671"/><stop offset="1" stop-color="#71a671" stop-opacity="0"/></linearGradient>
<polygon points="443.00,62.91 445.60,61.02 445.60,82.95 443.00,84.04" fill="url(#rg25)"/>
<line x1="444.30" y1="61.66" x2="444.30" y2="83.49" stroke="url(#rl25)" stroke-width="1.25"/>
<linearGradient id="rg26" gradientUnits="userSpaceOnUse" x1="0" y1="61.0" x2="0" y2="82.9"><stop offset="0" stop-color="#5b8a73"/><stop offset="0.5" stop-color="#40767c"/><stop offset="1" stop-color="#2f6a82"/></linearGradient>
<linearGradient id="rl26" gradientUnits="userSpaceOnUse" x1="0" y1="60.1" x2="0" y2="82.4"><stop offset="0" stop-color="#a9c657"/><stop offset="0.55" stop-color="#7ba56d"/><stop offset="1" stop-color="#7ba56d" stop-opacity="0"/></linearGradient>
<polygon points="445.60,61.02 448.20,59.18 448.20,81.86 445.60,82.95" fill="url(#rg26)"/>
<line x1="446.90" y1="59.77" x2="446.90" y2="82.40" stroke="url(#rl26)" stroke-width="1.25"/>
<linearGradient id="rg27" gradientUnits="userSpaceOnUse" x1="0" y1="59.2" x2="0" y2="81.9"><stop offset="0" stop-color="#61886e"/><stop offset="0.5" stop-color="#44747a"/><stop offset="1" stop-color="#316782"/></linearGradient>
<linearGradient id="rl27" gradientUnits="userSpaceOnUse" x1="0" y1="58.3" x2="0" y2="81.3"><stop offset="0" stop-color="#b3c854"/><stop offset="0.55" stop-color="#86a569"/><stop offset="1" stop-color="#86a569" stop-opacity="0"/></linearGradient>
<polygon points="448.20,59.18 450.80,57.41 450.80,80.76 448.20,81.86" fill="url(#rg27)"/>
<line x1="449.50" y1="58.00" x2="449.50" y2="81.31" stroke="url(#rl27)" stroke-width="1.25"/>
<linearGradient id="rg28" gradientUnits="userSpaceOnUse" x1="0" y1="57.4" x2="0" y2="80.8"><stop offset="0" stop-color="#678669"/><stop offset="0.5" stop-color="#477278"/><stop offset="1" stop-color="#336583"/></linearGradient>
<linearGradient id="rl28" gradientUnits="userSpaceOnUse" x1="0" y1="56.5" x2="0" y2="80.2"><stop offset="0" stop-color="#bccb51"/><stop offset="0.55" stop-color="#90a465"/><stop offset="1" stop-color="#90a465" stop-opacity="0"/></linearGradient>
<polygon points="450.80,57.41 453.40,55.64 453.40,79.67 450.80,80.76" fill="url(#rg28)"/>
<line x1="452.10" y1="56.22" x2="452.10" y2="80.22" stroke="url(#rl28)" stroke-width="1.25"/>
<linearGradient id="rg29" gradientUnits="userSpaceOnUse" x1="0" y1="55.6" x2="0" y2="79.7"><stop offset="0" stop-color="#6d8465"/><stop offset="0.5" stop-color="#4b7077"/><stop offset="1" stop-color="#356384"/></linearGradient>
<linearGradient id="rl29" gradientUnits="userSpaceOnUse" x1="0" y1="54.7" x2="0" y2="79.1"><stop offset="0" stop-color="#c5cd4e"/><stop offset="0.55" stop-color="#9aa361"/><stop offset="1" stop-color="#9aa361" stop-opacity="0"/></linearGradient>
<polygon points="453.40,55.64 456.00,53.86 456.00,78.54 453.40,79.67" fill="url(#rg29)"/>
<line x1="454.70" y1="54.45" x2="454.70" y2="79.13" stroke="url(#rl29)" stroke-width="1.25"/>
<linearGradient id="rg30" gradientUnits="userSpaceOnUse" x1="0" y1="53.9" x2="0" y2="78.5"><stop offset="0" stop-color="#748260"/><stop offset="0.5" stop-color="#4f6e76"/><stop offset="1" stop-color="#376185"/></linearGradient>
<linearGradient id="rl30" gradientUnits="userSpaceOnUse" x1="0" y1="53.0" x2="0" y2="77.9"><stop offset="0" stop-color="#cfcf4a"/><stop offset="0.55" stop-color="#a4a25d"/><stop offset="1" stop-color="#a4a25d" stop-opacity="0"/></linearGradient>
<polygon points="456.00,53.86 458.60,52.20 458.60,77.34 456.00,78.54" fill="url(#rg30)"/>
<line x1="457.30" y1="52.68" x2="457.30" y2="77.94" stroke="url(#rl30)" stroke-width="1.25"/>
<linearGradient id="rg31" gradientUnits="userSpaceOnUse" x1="0" y1="52.2" x2="0" y2="77.3"><stop offset="0" stop-color="#7a805b"/><stop offset="0.5" stop-color="#536c74"/><stop offset="1" stop-color="#395f86"/></linearGradient>
<linearGradient id="rl31" gradientUnits="userSpaceOnUse" x1="0" y1="51.5" x2="0" y2="76.7"><stop offset="0" stop-color="#d8d247"/><stop offset="0.55" stop-color="#aea159"/><stop offset="1" stop-color="#aea159" stop-opacity="0"/></linearGradient>
<polygon points="458.60,52.20 461.20,50.90 461.20,76.14 458.60,77.34" fill="url(#rg31)"/>
<line x1="459.90" y1="51.25" x2="459.90" y2="76.74" stroke="url(#rl31)" stroke-width="1.25"/>
<linearGradient id="rg32" gradientUnits="userSpaceOnUse" x1="0" y1="50.9" x2="0" y2="76.1"><stop offset="0" stop-color="#807e57"/><stop offset="0.5" stop-color="#566a73"/><stop offset="1" stop-color="#3b5d86"/></linearGradient>
<linearGradient id="rl32" gradientUnits="userSpaceOnUse" x1="0" y1="50.2" x2="0" y2="75.5"><stop offset="0" stop-color="#e1d444"/><stop offset="0.55" stop-color="#b8a155"/><stop offset="1" stop-color="#b8a155" stop-opacity="0"/></linearGradient>
<polygon points="461.20,50.90 463.80,49.60 463.80,74.94 461.20,76.14" fill="url(#rg32)"/>
<line x1="462.50" y1="49.95" x2="462.50" y2="75.54" stroke="url(#rl32)" stroke-width="1.25"/>
<linearGradient id="rg33" gradientUnits="userSpaceOnUse" x1="0" y1="49.6" x2="0" y2="74.9"><stop offset="0" stop-color="#867d52"/><stop offset="0.5" stop-color="#5a6871"/><stop offset="1" stop-color="#3d5b87"/></linearGradient>
<linearGradient id="rl33" gradientUnits="userSpaceOnUse" x1="0" y1="48.9" x2="0" y2="74.3"><stop offset="0" stop-color="#ebd641"/><stop offset="0.55" stop-color="#c2a052"/><stop offset="1" stop-color="#c2a052" stop-opacity="0"/></linearGradient>
<polygon points="463.80,49.60 466.40,48.30 466.40,73.74 463.80,74.94" fill="url(#rg33)"/>
<line x1="465.10" y1="48.65" x2="465.10" y2="74.34" stroke="url(#rl33)" stroke-width="1.25"/>
<linearGradient id="rg34" gradientUnits="userSpaceOnUse" x1="0" y1="48.3" x2="0" y2="73.7"><stop offset="0" stop-color="#8a7c50"/><stop offset="0.5" stop-color="#5d6771"/><stop offset="1" stop-color="#3f5a88"/></linearGradient>
<linearGradient id="rl34" gradientUnits="userSpaceOnUse" x1="0" y1="47.6" x2="0" y2="73.1"><stop offset="0" stop-color="#f0dc40"/><stop offset="0.55" stop-color="#c8a050"/><stop offset="1" stop-color="#c8a050" stop-opacity="0"/></linearGradient>
<polygon points="466.40,48.30 469.00,47.00 469.00,72.54 466.40,73.74" fill="url(#rg34)"/>
<line x1="467.70" y1="47.35" x2="467.70" y2="73.14" stroke="url(#rl34)" stroke-width="1.25"/>
<linearGradient id="rg35" gradientUnits="userSpaceOnUse" x1="0" y1="47.0" x2="0" y2="72.5"><stop offset="0" stop-color="#8a7c50"/><stop offset="0.5" stop-color="#5d6771"/><stop offset="1" stop-color="#3f5a88"/></linearGradient>
<linearGradient id="rl35" gradientUnits="userSpaceOnUse" x1="0" y1="46.3" x2="0" y2="71.9"><stop offset="0" stop-color="#f0dc40"/><stop offset="0.55" stop-color="#c8a050"/><stop offset="1" stop-color="#c8a050" stop-opacity="0"/></linearGradient>
<polygon points="469.00,47.00 471.60,45.70 471.60,71.34 469.00,72.54" fill="url(#rg35)"/>
<line x1="470.30" y1="46.05" x2="470.30" y2="71.94" stroke="url(#rl35)" stroke-width="1.25"/>
<linearGradient id="rg36" gradientUnits="userSpaceOnUse" x1="0" y1="45.7" x2="0" y2="71.3"><stop offset="0" stop-color="#8a7c50"/><stop offset="0.5" stop-color="#5d6771"/><stop offset="1" stop-color="#3f5a88"/></linearGradient>
<linearGradient id="rl36" gradientUnits="userSpaceOnUse" x1="0" y1="45.0" x2="0" y2="70.7"><stop offset="0" stop-color="#f0dc40"/><stop offset="0.55" stop-color="#c8a050"/><stop offset="1" stop-color="#c8a050" stop-opacity="0"/></linearGradient>
<polygon points="471.60,45.70 474.20,44.40 474.20,70.14 471.60,71.34" fill="url(#rg36)"/>
<line x1="472.90" y1="44.75" x2="472.90" y2="70.74" stroke="url(#rl36)" stroke-width="1.25"/>
<linearGradient id="rg37" gradientUnits="userSpaceOnUse" x1="0" y1="44.4" x2="0" y2="70.1"><stop offset="0" stop-color="#8a7c50"/><stop offset="0.5" stop-color="#5d6771"/><stop offset="1" stop-color="#3f5a88"/></linearGradient>
<linearGradient id="rl37" gradientUnits="userSpaceOnUse" x1="0" y1="43.7" x2="0" y2="69.5"><stop offset="0" stop-color="#f0dc40"/><stop offset="0.55" stop-color="#c8a050"/><stop offset="1" stop-color="#c8a050" stop-opacity="0"/></linearGradient>
<polygon points="474.20,44.40 476.80,43.10 476.80,68.94 474.20,70.14" fill="url(#rg37)"/>
<line x1="475.50" y1="43.45" x2="475.50" y2="69.54" stroke="url(#rl37)" stroke-width="1.25"/>
<linearGradient id="rg38" gradientUnits="userSpaceOnUse" x1="0" y1="43.1" x2="0" y2="68.9"><stop offset="0" stop-color="#8a7c50"/><stop offset="0.5" stop-color="#5d6771"/><stop offset="1" stop-color="#3f5a88"/></linearGradient>
<linearGradient id="rl38" gradientUnits="userSpaceOnUse" x1="0" y1="42.4" x2="0" y2="68.3"><stop offset="0" stop-color="#f0dc40"/><stop offset="0.55" stop-color="#c8a050"/><stop offset="1" stop-color="#c8a050" stop-opacity="0"/></linearGradient>
<polygon points="476.80,43.10 479.40,41.80 479.40,67.74 476.80,68.94" fill="url(#rg38)"/>
<line x1="478.10" y1="42.15" x2="478.10" y2="68.34" stroke="url(#rl38)" stroke-width="1.25"/>
<linearGradient id="rg39" gradientUnits="userSpaceOnUse" x1="0" y1="41.8" x2="0" y2="67.7"><stop offset="0" stop-color="#8a7c50"/><stop offset="0.5" stop-color="#5d6771"/><stop offset="1" stop-color="#3f5a88"/></linearGradient>
<linearGradient id="rl39" gradientUnits="userSpaceOnUse" x1="0" y1="41.1" x2="0" y2="67.1"><stop offset="0" stop-color="#f0dc40"/><stop offset="0.55" stop-color="#c8a050"/><stop offset="1" stop-color="#c8a050" stop-opacity="0"/></linearGradient>
<polygon points="479.40,41.80 482.00,40.46 482.00,66.59 479.40,67.74" fill="url(#rg39)"/>
<line x1="480.70" y1="40.85" x2="480.70" y2="67.14" stroke="url(#rl39)" stroke-width="1.25"/>
<linearGradient id="rg40" gradientUnits="userSpaceOnUse" x1="0" y1="40.5" x2="0" y2="66.6"><stop offset="0" stop-color="#8a7c50"/><stop offset="0.5" stop-color="#5d6771"/><stop offset="1" stop-color="#3f5a88"/></linearGradient>
<linearGradient id="rl40" gradientUnits="userSpaceOnUse" x1="0" y1="39.8" x2="0" y2="66.1"><stop offset="0" stop-color="#f0dc40"/><stop offset="0.55" stop-color="#c8a050"/><stop offset="1" stop-color="#c8a050" stop-opacity="0"/></linearGradient>
<polygon points="482.00,40.46 484.60,39.07 484.60,65.53 482.00,66.59" fill="url(#rg40)"/>
<line x1="483.30" y1="39.47" x2="483.30" y2="66.06" stroke="url(#rl40)" stroke-width="1.25"/>
<linearGradient id="rg41" gradientUnits="userSpaceOnUse" x1="0" y1="39.1" x2="0" y2="65.5"><stop offset="0" stop-color="#8a7c50"/><stop offset="0.5" stop-color="#5d6771"/><stop offset="1" stop-color="#3f5a88"/></linearGradient>
<linearGradient id="rl41" gradientUnits="userSpaceOnUse" x1="0" y1="38.4" x2="0" y2="65.0"><stop offset="0" stop-color="#f0dc40"/><stop offset="0.55" stop-color="#c8a050"/><stop offset="1" stop-color="#c8a050" stop-opacity="0"/></linearGradient>
<polygon points="484.60,39.07 487.20,37.67 487.20,64.47 484.60,65.53" fill="url(#rg41)"/>
<line x1="485.90" y1="38.07" x2="485.90" y2="65.00" stroke="url(#rl41)" stroke-width="1.25"/>
<linearGradient id="rg42" gradientUnits="userSpaceOnUse" x1="0" y1="37.7" x2="0" y2="64.5"><stop offset="0" stop-color="#8a7c50"/><stop offset="0.5" stop-color="#5d6771"/><stop offset="1" stop-color="#3f5a88"/></linearGradient>
<linearGradient id="rl42" gradientUnits="userSpaceOnUse" x1="0" y1="37.0" x2="0" y2="63.9"><stop offset="0" stop-color="#f0dc40"/><stop offset="0.55" stop-color="#c8a050"/><stop offset="1" stop-color="#c8a050" stop-opacity="0"/></linearGradient>
<polygon points="487.20,37.67 489.80,36.28 489.80,63.41 487.20,64.47" fill="url(#rg42)"/>
<line x1="488.50" y1="36.67" x2="488.50" y2="63.94" stroke="url(#rl42)" stroke-width="1.25"/>
<linearGradient id="rg43" gradientUnits="userSpaceOnUse" x1="0" y1="36.3" x2="0" y2="63.4"><stop offset="0" stop-color="#8a7c50"/><stop offset="0.5" stop-color="#5d6771"/><stop offset="1" stop-color="#3f5a88"/></linearGradient>
<linearGradient id="rl43" gradientUnits="userSpaceOnUse" x1="0" y1="35.6" x2="0" y2="62.9"><stop offset="0" stop-color="#f0dc40"/><stop offset="0.55" stop-color="#c8a050"/><stop offset="1" stop-color="#c8a050" stop-opacity="0"/></linearGradient>
<polygon points="489.80,36.28 492.40,34.88 492.40,62.35 489.80,63.41" fill="url(#rg43)"/>
<line x1="491.10" y1="35.28" x2="491.10" y2="62.88" stroke="url(#rl43)" stroke-width="1.25"/>
<linearGradient id="rg44" gradientUnits="userSpaceOnUse" x1="0" y1="34.9" x2="0" y2="62.3"><stop offset="0" stop-color="#8a7c50"/><stop offset="0.5" stop-color="#5d6771"/><stop offset="1" stop-color="#3f5a88"/></linearGradient>
<linearGradient id="rl44" gradientUnits="userSpaceOnUse" x1="0" y1="34.2" x2="0" y2="61.8"><stop offset="0" stop-color="#f0dc40"/><stop offset="0.55" stop-color="#c8a050"/><stop offset="1" stop-color="#c8a050" stop-opacity="0"/></linearGradient>
<polygon points="492.40,34.88 495.00,33.49 495.00,61.28 492.40,62.35" fill="url(#rg44)"/>
<line x1="493.70" y1="33.88" x2="493.70" y2="61.82" stroke="url(#rl44)" stroke-width="1.25"/>
<linearGradient id="rg45" gradientUnits="userSpaceOnUse" x1="0" y1="33.5" x2="0" y2="61.3"><stop offset="0" stop-color="#8a7c50"/><stop offset="0.5" stop-color="#5d6771"/><stop offset="1" stop-color="#3f5a88"/></linearGradient>
<linearGradient id="rl45" gradientUnits="userSpaceOnUse" x1="0" y1="32.8" x2="0" y2="60.8"><stop offset="0" stop-color="#f0dc40"/><stop offset="0.55" stop-color="#c8a050"/><stop offset="1" stop-color="#c8a050" stop-opacity="0"/></linearGradient>
<polygon points="495.00,33.49 497.60,32.09 497.60,60.22 495.00,61.28" fill="url(#rg45)"/>
<line x1="496.30" y1="32.49" x2="496.30" y2="60.75" stroke="url(#rl45)" stroke-width="1.25"/>
<linearGradient id="rg46" gradientUnits="userSpaceOnUse" x1="0" y1="32.1" x2="0" y2="60.2"><stop offset="0" stop-color="#8a7c50"/><stop offset="0.5" stop-color="#5d6771"/><stop offset="1" stop-color="#3f5a88"/></linearGradient>
<linearGradient id="rl46" gradientUnits="userSpaceOnUse" x1="0" y1="31.4" x2="0" y2="59.7"><stop offset="0" stop-color="#f0dc40"/><stop offset="0.55" stop-color="#c8a050"/><stop offset="1" stop-color="#c8a050" stop-opacity="0"/></linearGradient>
<polygon points="497.60,32.09 500.20,30.70 500.20,59.16 497.60,60.22" fill="url(#rg46)"/>
<line x1="498.90" y1="31.09" x2="498.90" y2="59.69" stroke="url(#rl46)" stroke-width="1.25"/>
<linearGradient id="rg47" gradientUnits="userSpaceOnUse" x1="0" y1="30.7" x2="0" y2="59.2"><stop offset="0" stop-color="#8a7c50"/><stop offset="0.5" stop-color="#5d6771"/><stop offset="1" stop-color="#3f5a88"/></linearGradient>
<linearGradient id="rl47" gradientUnits="userSpaceOnUse" x1="0" y1="30.0" x2="0" y2="58.6"><stop offset="0" stop-color="#f0dc40"/><stop offset="0.55" stop-color="#c8a050"/><stop offset="1" stop-color="#c8a050" stop-opacity="0"/></linearGradient>
<polygon points="500.20,30.70 502.80,29.30 502.80,58.10 500.20,59.16" fill="url(#rg47)"/>
<line x1="501.50" y1="29.70" x2="501.50" y2="58.63" stroke="url(#rl47)" stroke-width="1.25"/>
<linearGradient id="rg48" gradientUnits="userSpaceOnUse" x1="0" y1="29.3" x2="0" y2="58.1"><stop offset="0" stop-color="#8a7c50"/><stop offset="0.5" stop-color="#5d6771"/><stop offset="1" stop-color="#3f5a88"/></linearGradient>
<linearGradient id="rl48" gradientUnits="userSpaceOnUse" x1="0" y1="28.6" x2="0" y2="57.6"><stop offset="0" stop-color="#f0dc40"/><stop offset="0.55" stop-color="#c8a050"/><stop offset="1" stop-color="#c8a050" stop-opacity="0"/></linearGradient>
<polygon points="502.80,29.30 505.40,27.90 505.40,57.04 502.80,58.10" fill="url(#rg48)"/>
<line x1="504.10" y1="28.30" x2="504.10" y2="57.57" stroke="url(#rl48)" stroke-width="1.25"/>
<linearGradient id="rg49" gradientUnits="userSpaceOnUse" x1="0" y1="27.9" x2="0" y2="57.0"><stop offset="0" stop-color="#8a7c50"/><stop offset="0.5" stop-color="#5d6771"/><stop offset="1" stop-color="#3f5a88"/></linearGradient>
<linearGradient id="rl49" gradientUnits="userSpaceOnUse" x1="0" y1="27.2" x2="0" y2="56.5"><stop offset="0" stop-color="#f0dc40"/><stop offset="0.55" stop-color="#c8a050"/><stop offset="1" stop-color="#c8a050" stop-opacity="0"/></linearGradient>
<polygon points="505.40,27.90 508.00,26.51 508.00,55.98 505.40,57.04" fill="url(#rg49)"/>
<line x1="506.70" y1="26.91" x2="506.70" y2="56.51" stroke="url(#rl49)" stroke-width="1.25"/>
<linearGradient id="rg50" gradientUnits="userSpaceOnUse" x1="0" y1="26.5" x2="0" y2="56.0"><stop offset="0" stop-color="#8a7c50"/><stop offset="0.5" stop-color="#5d6771"/><stop offset="1" stop-color="#3f5a88"/></linearGradient>
<linearGradient id="rl50" gradientUnits="userSpaceOnUse" x1="0" y1="25.8" x2="0" y2="55.4"><stop offset="0" stop-color="#f0dc40"/><stop offset="0.55" stop-color="#c8a050"/><stop offset="1" stop-color="#c8a050" stop-opacity="0"/></linearGradient>
<polygon points="508.00,26.51 510.60,25.11 510.60,54.92 508.00,55.98" fill="url(#rg50)"/>
<line x1="509.30" y1="25.51" x2="509.30" y2="55.45" stroke="url(#rl50)" stroke-width="1.25"/>
<linearGradient id="rg51" gradientUnits="userSpaceOnUse" x1="0" y1="25.1" x2="0" y2="54.9"><stop offset="0" stop-color="#8a7c50"/><stop offset="0.5" stop-color="#5d6771"/><stop offset="1" stop-color="#3f5a88"/></linearGradient>
<linearGradient id="rl51" gradientUnits="userSpaceOnUse" x1="0" y1="24.4" x2="0" y2="54.4"><stop offset="0" stop-color="#f0dc40"/><stop offset="0.55" stop-color="#c8a050"/><stop offset="1" stop-color="#c8a050" stop-opacity="0"/></linearGradient>
<polygon points="510.60,25.11 513.20,23.72 513.20,53.85 510.60,54.92" fill="url(#rg51)"/>
<line x1="511.90" y1="24.12" x2="511.90" y2="54.38" stroke="url(#rl51)" stroke-width="1.25"/>
<linearGradient id="rg52" gradientUnits="userSpaceOnUse" x1="0" y1="23.7" x2="0" y2="53.9"><stop offset="0" stop-color="#8a7c50"/><stop offset="0.5" stop-color="#5d6771"/><stop offset="1" stop-color="#3f5a88"/></linearGradient>
<linearGradient id="rl52" gradientUnits="userSpaceOnUse" x1="0" y1="23.0" x2="0" y2="53.3"><stop offset="0" stop-color="#f0dc40"/><stop offset="0.55" stop-color="#c8a050"/><stop offset="1" stop-color="#c8a050" stop-opacity="0"/></linearGradient>
<polygon points="513.20,23.72 515.80,22.32 515.80,52.79 513.20,53.85" fill="url(#rg52)"/>
<line x1="514.50" y1="22.72" x2="514.50" y2="53.32" stroke="url(#rl52)" stroke-width="1.25"/>
<linearGradient id="rg53" gradientUnits="userSpaceOnUse" x1="0" y1="22.3" x2="0" y2="52.8"><stop offset="0" stop-color="#8a7c50"/><stop offset="0.5" stop-color="#5d6771"/><stop offset="1" stop-color="#3f5a88"/></linearGradient>
<linearGradient id="rl53" gradientUnits="userSpaceOnUse" x1="0" y1="21.6" x2="0" y2="52.3"><stop offset="0" stop-color="#f0dc40"/><stop offset="0.55" stop-color="#c8a050"/><stop offset="1" stop-color="#c8a050" stop-opacity="0"/></linearGradient>
<polygon points="515.80,22.32 518.40,20.93 518.40,51.73 515.80,52.79" fill="url(#rg53)"/>
<line x1="517.10" y1="21.33" x2="517.10" y2="52.26" stroke="url(#rl53)" stroke-width="1.25"/>
<linearGradient id="rg54" gradientUnits="userSpaceOnUse" x1="0" y1="20.9" x2="0" y2="51.7"><stop offset="0" stop-color="#8a7c50"/><stop offset="0.5" stop-color="#5d6771"/><stop offset="1" stop-color="#3f5a88"/></linearGradient>
<linearGradient id="rl54" gradientUnits="userSpaceOnUse" x1="0" y1="20.2" x2="0" y2="51.2"><stop offset="0" stop-color="#f0dc40"/><stop offset="0.55" stop-color="#c8a050"/><stop offset="1" stop-color="#c8a050" stop-opacity="0"/></linearGradient>
<polygon points="518.40,20.93 521.00,19.53 521.00,50.67 518.40,51.73" fill="url(#rg54)"/>
<line x1="519.70" y1="19.93" x2="519.70" y2="51.20" stroke="url(#rl54)" stroke-width="1.25"/>
<linearGradient id="rg55" gradientUnits="userSpaceOnUse" x1="0" y1="19.5" x2="0" y2="50.7"><stop offset="0" stop-color="#8a7c50"/><stop offset="0.5" stop-color="#5d6771"/><stop offset="1" stop-color="#3f5a88"/></linearGradient>
<linearGradient id="rl55" gradientUnits="userSpaceOnUse" x1="0" y1="18.8" x2="0" y2="50.1"><stop offset="0" stop-color="#f0dc40"/><stop offset="0.55" stop-color="#c8a050"/><stop offset="1" stop-color="#c8a050" stop-opacity="0"/></linearGradient>
<polygon points="521.00,19.53 523.60,18.14 523.60,49.61 521.00,50.67" fill="url(#rg55)"/>
<line x1="522.30" y1="18.53" x2="522.30" y2="50.14" stroke="url(#rl55)" stroke-width="1.25"/>
<linearGradient id="rg56" gradientUnits="userSpaceOnUse" x1="0" y1="18.1" x2="0" y2="49.6"><stop offset="0" stop-color="#8a7c50"/><stop offset="0.5" stop-color="#5d6771"/><stop offset="1" stop-color="#3f5a88"/></linearGradient>
<linearGradient id="rl56" gradientUnits="userSpaceOnUse" x1="0" y1="17.9" x2="0" y2="49.4"><stop offset="0" stop-color="#f0dc40"/><stop offset="0.55" stop-color="#c8a050"/><stop offset="1" stop-color="#c8a050" stop-opacity="0"/></linearGradient>
<polygon points="523.60,18.14 524.60,17.60 524.60,49.20 523.60,49.61" fill="url(#rg56)"/>
<line x1="524.10" y1="17.57" x2="524.10" y2="49.40" stroke="url(#rl56)" stroke-width="1.25"/>
<polyline points="376.00,101.00 400.00,95.00 430.00,89.50 455.00,79.00 481.00,67.00 524.60,49.20" fill="none" stroke="#3aa8b0" stroke-width="0.8" opacity="0.6"/>
<linearGradient id="spk" x1="0" y1="0" x2="0" y2="1"><stop offset="0" stop-color="#2a8aa0"/><stop offset="0.5" stop-color="#3050c0"/><stop offset="1" stop-color="#3a2a9a"/></linearGradient>
<polygon points="374.6,97 376.0,113.5 377.4,97" fill="url(#spk)"/>
<text x="278.70" y="9.20" font-size="12" text-anchor="start" fill="#1a1a1a" >(c)</text>
</svg></body></html>
